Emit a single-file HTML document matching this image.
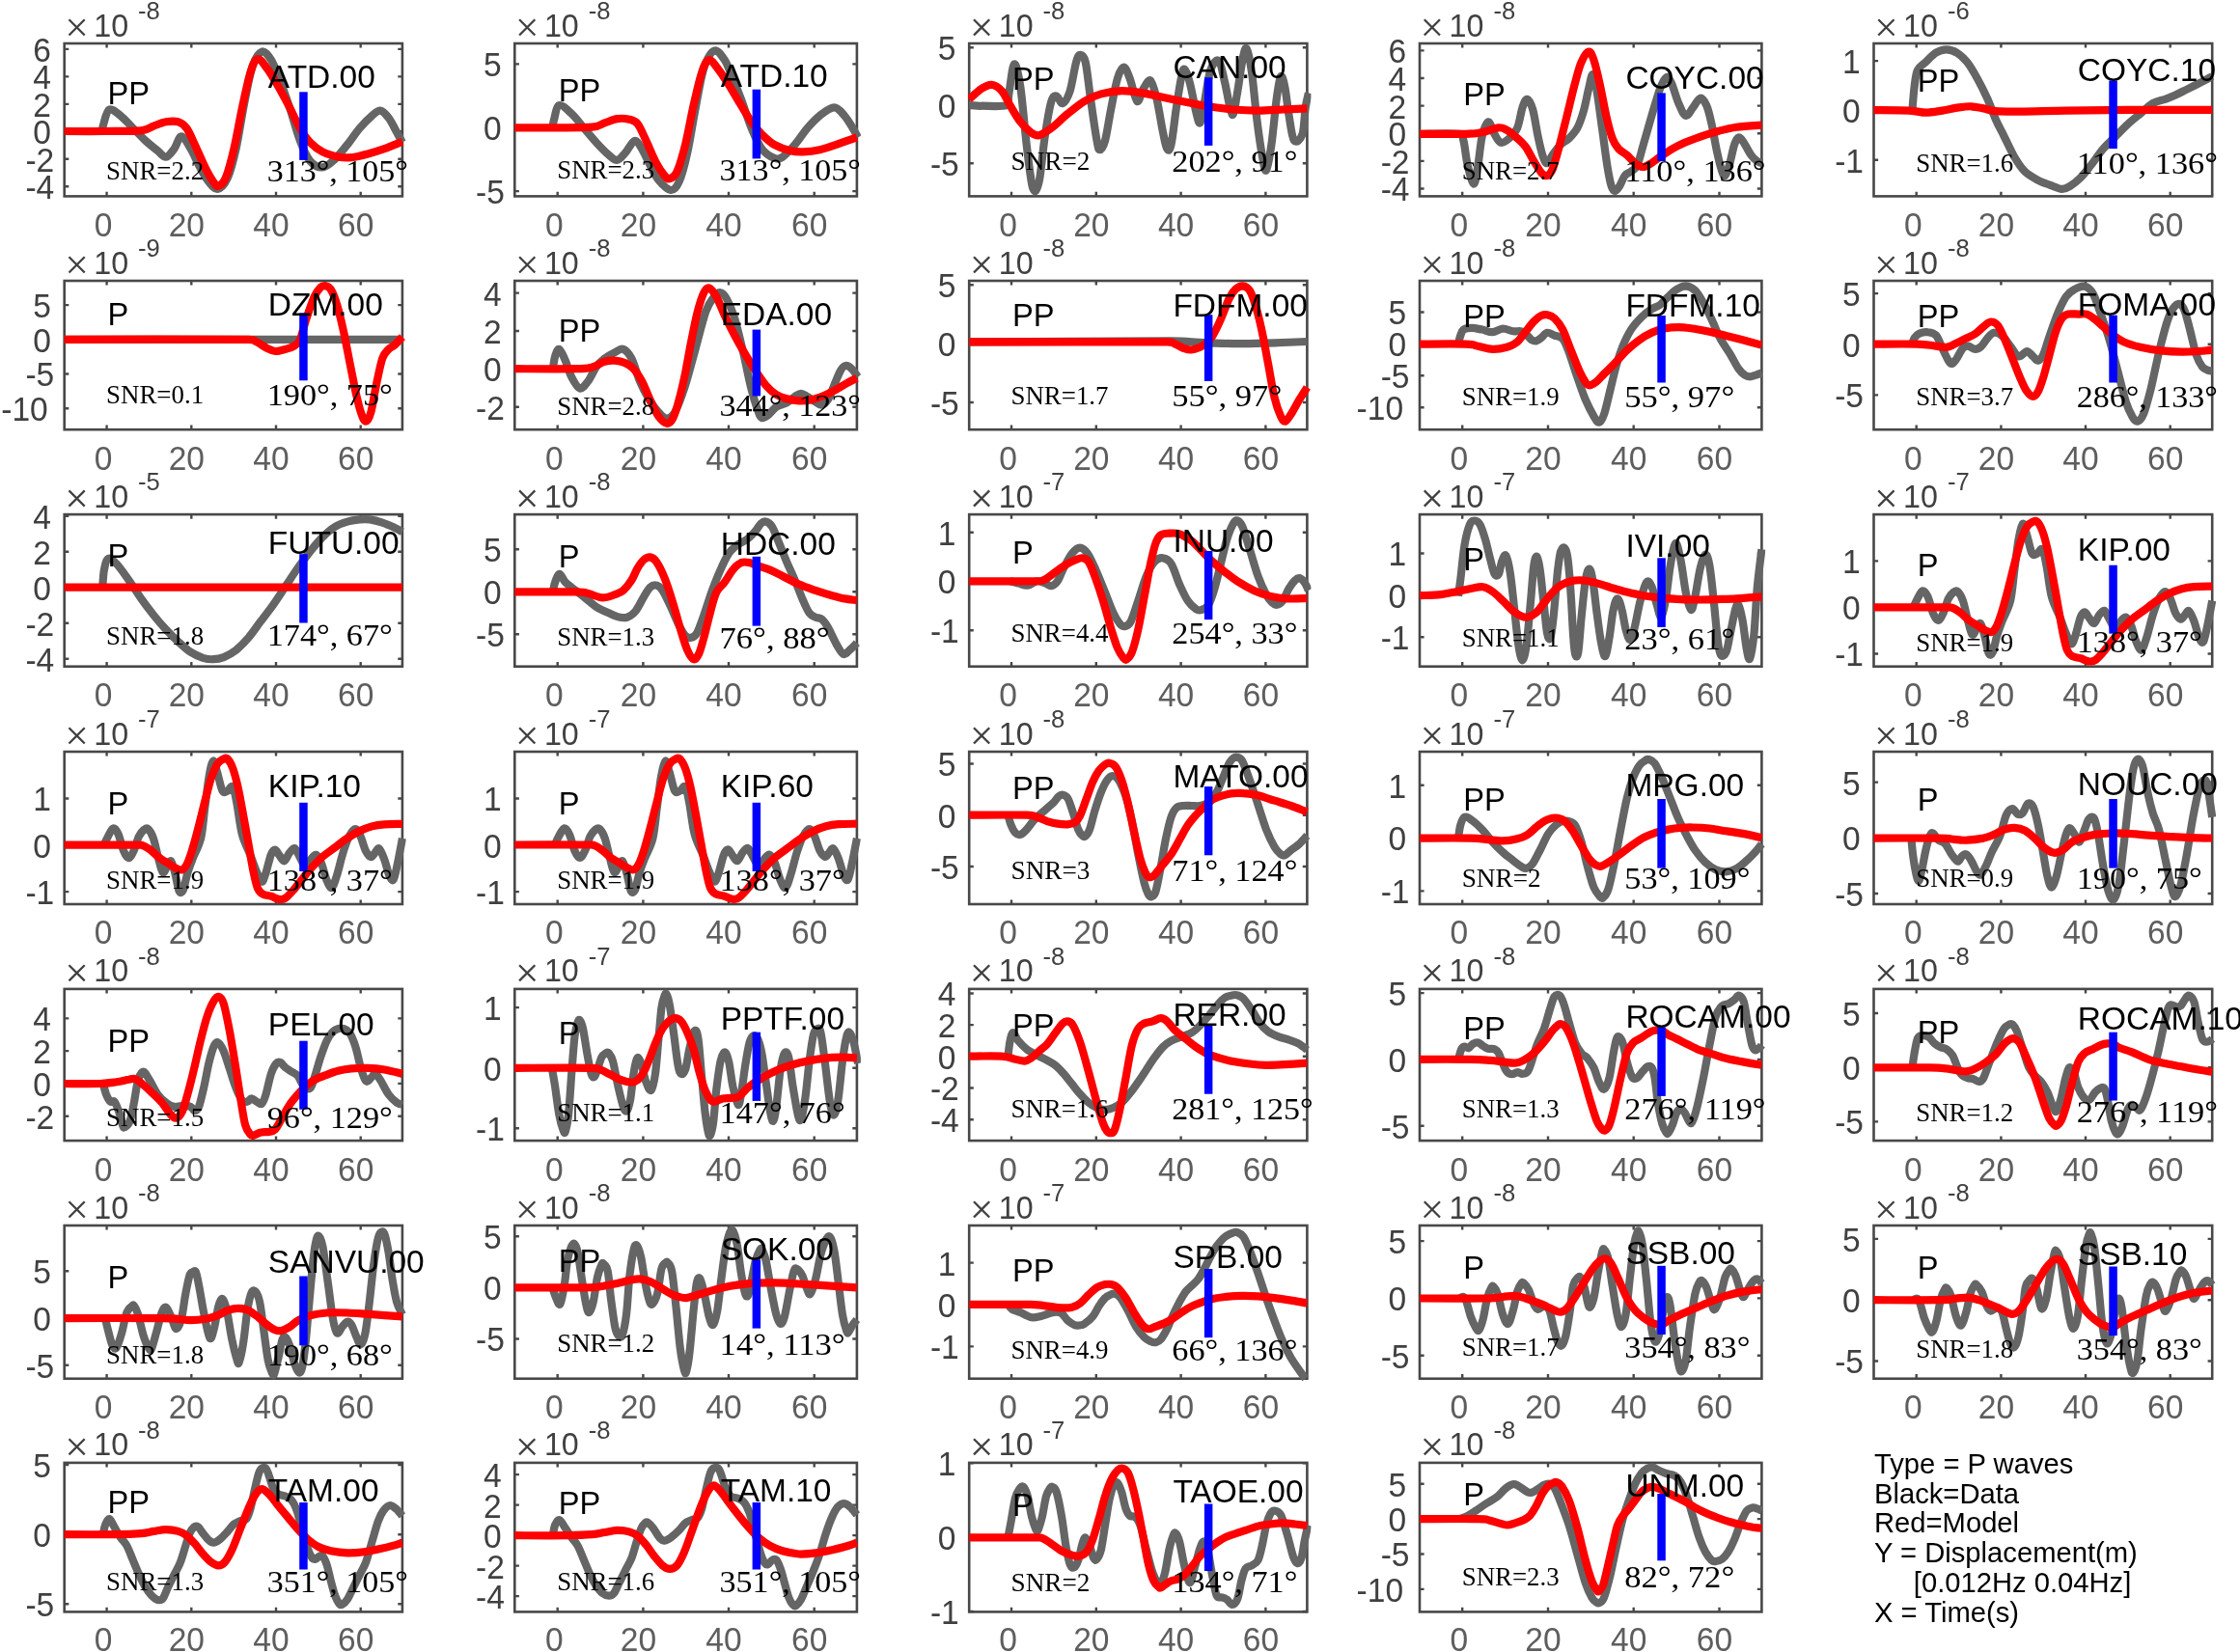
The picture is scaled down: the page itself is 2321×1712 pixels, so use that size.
<!DOCTYPE html><html><head><meta charset="utf-8"><title>P waves</title><style>html,body{margin:0;padding:0;background:#fff}svg{display:block;will-change:transform}text{font-family:"Liberation Sans",sans-serif}.s{font-family:"Liberation Serif",serif}</style></head><body>
<svg width="2321" height="1712" viewBox="0 0 2321 1712">
<rect width="2321" height="1712" fill="#fff"/>
<defs><clipPath id="c00"><rect x="65.7" y="41.0" width="355.2" height="166.4"/></clipPath><clipPath id="c01"><rect x="532.3" y="41.0" width="359.6" height="166.4"/></clipPath><clipPath id="c02"><rect x="1003.2" y="41.0" width="355.2" height="166.4"/></clipPath><clipPath id="c03"><rect x="1470.0" y="41.0" width="359.4" height="166.4"/></clipPath><clipPath id="c04"><rect x="1940.5" y="41.0" width="355.7" height="166.4"/></clipPath><clipPath id="c10"><rect x="65.7" y="287.0" width="355.2" height="162.2"/></clipPath><clipPath id="c11"><rect x="532.3" y="287.0" width="359.6" height="162.2"/></clipPath><clipPath id="c12"><rect x="1003.2" y="287.0" width="355.2" height="162.2"/></clipPath><clipPath id="c13"><rect x="1470.0" y="287.0" width="359.4" height="162.2"/></clipPath><clipPath id="c14"><rect x="1940.5" y="287.0" width="355.7" height="162.2"/></clipPath><clipPath id="c20"><rect x="65.7" y="529.1" width="355.2" height="165.6"/></clipPath><clipPath id="c21"><rect x="532.3" y="529.1" width="359.6" height="165.6"/></clipPath><clipPath id="c22"><rect x="1003.2" y="529.1" width="355.2" height="165.6"/></clipPath><clipPath id="c23"><rect x="1470.0" y="529.1" width="359.4" height="165.6"/></clipPath><clipPath id="c24"><rect x="1940.5" y="529.1" width="355.7" height="165.6"/></clipPath><clipPath id="c30"><rect x="65.7" y="775.0" width="355.2" height="166.0"/></clipPath><clipPath id="c31"><rect x="532.3" y="775.0" width="359.6" height="166.0"/></clipPath><clipPath id="c32"><rect x="1003.2" y="775.0" width="355.2" height="166.0"/></clipPath><clipPath id="c33"><rect x="1470.0" y="775.0" width="359.4" height="166.0"/></clipPath><clipPath id="c34"><rect x="1940.5" y="775.0" width="355.7" height="166.0"/></clipPath><clipPath id="c40"><rect x="65.7" y="1020.9" width="355.2" height="165.2"/></clipPath><clipPath id="c41"><rect x="532.3" y="1020.9" width="359.6" height="165.2"/></clipPath><clipPath id="c42"><rect x="1003.2" y="1020.9" width="355.2" height="165.2"/></clipPath><clipPath id="c43"><rect x="1470.0" y="1020.9" width="359.4" height="165.2"/></clipPath><clipPath id="c44"><rect x="1940.5" y="1020.9" width="355.7" height="165.2"/></clipPath><clipPath id="c50"><rect x="65.7" y="1266.0" width="355.2" height="166.7"/></clipPath><clipPath id="c51"><rect x="532.3" y="1266.0" width="359.6" height="166.7"/></clipPath><clipPath id="c52"><rect x="1003.2" y="1266.0" width="355.2" height="166.7"/></clipPath><clipPath id="c53"><rect x="1470.0" y="1266.0" width="359.4" height="166.7"/></clipPath><clipPath id="c54"><rect x="1940.5" y="1266.0" width="355.7" height="166.7"/></clipPath><clipPath id="c60"><rect x="65.7" y="1511.9" width="355.2" height="162.5"/></clipPath><clipPath id="c61"><rect x="532.3" y="1511.9" width="359.6" height="162.5"/></clipPath><clipPath id="c62"><rect x="1003.2" y="1511.9" width="355.2" height="162.5"/></clipPath><clipPath id="c63"><rect x="1470.0" y="1511.9" width="359.4" height="162.5"/></clipPath></defs>
<rect x="66.7" y="45.0" width="350.2" height="158.4" fill="none" stroke="#484848" stroke-width="2.6"/>
<path d="M110.6 203.4v-4.6M110.6 45.0v4.6M198.3 203.4v-4.6M198.3 45.0v4.6M286.0 203.4v-4.6M286.0 45.0v4.6M373.7 203.4v-4.6M373.7 45.0v4.6M66.7 50.9h4.6M416.9 50.9h-4.6M66.7 79.4h4.6M416.9 79.4h-4.6M66.7 107.9h4.6M416.9 107.9h-4.6M66.7 136.3h4.6M416.9 136.3h-4.6M66.7 164.8h4.6M416.9 164.8h-4.6M66.7 193.3h4.6M416.9 193.3h-4.6" stroke="#484848" stroke-width="2.4" fill="none"/>
<text transform="translate(107.2 244.8) scale(0.975 1)" font-size="34.4" fill="#5e5e5e" text-anchor="middle">0</text>
<text transform="translate(193.3 244.8) scale(0.975 1)" font-size="34.4" fill="#5e5e5e" text-anchor="middle">20</text>
<text transform="translate(281.0 244.8) scale(0.975 1)" font-size="34.4" fill="#5e5e5e" text-anchor="middle">40</text>
<text transform="translate(368.7 244.8) scale(0.975 1)" font-size="34.4" fill="#5e5e5e" text-anchor="middle">60</text>
<text transform="translate(34.3 63.8) scale(0.975 1)" font-size="34.4" fill="#404040">6</text>
<text transform="translate(34.3 92.3) scale(0.975 1)" font-size="34.4" fill="#404040">4</text>
<text transform="translate(34.3 120.8) scale(0.975 1)" font-size="34.4" fill="#404040">2</text>
<text transform="translate(34.3 149.2) scale(0.975 1)" font-size="34.4" fill="#404040">0</text>
<text transform="translate(26.4 177.7) scale(0.975 1)" font-size="34.4" fill="#404040">-2</text>
<text transform="translate(26.4 206.2) scale(0.975 1)" font-size="34.4" fill="#404040">-4</text>
<path d="M71.5 20.3l16.2 16.2m0 -16.2l-16.2 16.2" stroke="#404040" stroke-width="2.3" fill="none"/>
<text transform="translate(97.3 37.5) scale(0.955 1)" font-size="33.8" fill="#404040">10</text>
<text x="143.1" y="20.0" font-size="25.6" fill="#404040">-8</text>
<g clip-path="url(#c00)" fill="none" stroke-width="8.2" stroke-linejoin="round">
<path d="M105.8 136.0C106.0 134.7 106.0 132.2 107.3 128.5C108.5 124.7 110.3 114.9 113.3 113.5C116.2 112.1 120.9 116.7 125.0 119.9C129.1 123.1 133.5 128.5 137.8 132.8C142.1 137.0 146.3 141.7 150.6 145.6C154.9 149.5 159.9 153.5 163.4 156.3C167.0 159.2 169.1 163.1 172.0 162.7C174.8 162.4 177.8 157.7 180.5 154.2C183.2 150.6 185.1 141.3 188.0 141.3C190.8 141.3 194.6 149.2 197.6 154.2C200.6 159.2 203.3 165.9 206.1 171.3C209.0 176.6 211.5 182.2 214.7 186.3C217.9 190.4 221.8 196.3 225.4 195.9C228.9 195.6 232.8 191.1 236.0 184.1C239.2 177.2 241.7 167.0 244.6 154.2C247.4 141.3 250.3 121.3 253.1 107.1C256.0 92.8 258.6 77.5 261.7 68.5C264.7 59.6 268.1 54.6 271.3 53.6C274.5 52.5 277.9 57.5 280.9 62.1C283.9 66.8 286.2 73.2 289.4 81.4C292.6 89.6 296.5 100.7 300.1 111.4C303.7 122.1 307.2 136.3 310.8 145.6C314.3 154.9 317.5 162.4 321.4 167.0C325.4 171.6 330.0 173.8 334.3 173.4C338.5 173.1 342.8 168.8 347.1 164.9C351.3 160.9 355.6 155.2 359.9 149.9C364.2 144.5 368.4 137.8 372.7 132.8C377.0 127.8 382.0 123.0 385.5 119.9C389.1 116.9 391.2 114.2 394.1 114.6C396.9 114.9 399.7 118.3 402.6 122.1C405.4 125.8 408.8 132.8 411.1 137.0C413.5 141.3 415.9 146.0 416.9 147.7" stroke="#656565"/>
<path d="M66.7 136.0C73.6 136.0 94.6 136.1 107.9 136.0C121.2 135.9 137.8 136.2 146.3 135.3C154.9 134.4 154.9 132.1 159.2 130.6C163.4 129.1 167.7 127.1 172.0 126.3C176.2 125.6 181.2 125.3 184.8 126.3C188.3 127.4 190.5 128.8 193.3 132.8C196.2 136.7 198.7 143.1 201.9 149.9C205.1 156.7 209.3 167.0 212.5 173.4C215.7 179.9 218.8 185.2 221.1 188.4C223.4 191.6 224.3 193.4 226.4 192.7C228.6 192.0 231.2 190.6 233.9 184.1C236.6 177.7 239.6 166.3 242.4 154.2C245.3 142.0 248.1 124.6 251.0 111.4C253.8 98.2 256.9 83.4 259.5 75.0C262.2 66.6 264.2 61.8 267.0 61.1C269.8 60.3 273.2 66.2 276.6 70.7C280.0 75.1 283.4 81.0 287.3 87.8C291.2 94.6 296.2 103.9 300.1 111.4C304.0 118.8 307.2 126.7 310.8 132.8C314.3 138.8 317.5 143.6 321.4 147.7C325.4 151.8 329.3 154.9 334.3 157.4C339.2 159.9 346.4 161.8 351.3 162.7C356.3 163.7 359.2 163.7 364.2 163.2C369.1 162.6 375.5 161.0 381.2 159.5C386.9 158.0 392.4 156.3 398.3 154.2C404.3 152.0 413.8 147.9 416.9 146.7" stroke="#ff0000"/>
</g>
<rect x="310.2" y="95.3" width="8.5" height="70.6" fill="#0000ff"/>
<text transform="translate(111.6 108.1) scale(0.960 1)" font-size="34.0" fill="#000">PP</text>
<text transform="translate(277.8 91.0) scale(0.985 1)" font-size="34.0" fill="#000">ATD.00</text>
<text class="s" x="110.1" y="185.6" font-size="26.8" fill="#000" textLength="101.0" lengthAdjust="spacingAndGlyphs">SNR=2.2</text>
<text class="s" x="276.7" y="188.3" font-size="30.5" fill="#000" textLength="146.3" lengthAdjust="spacingAndGlyphs">313°, 105°</text>
<rect x="533.3" y="45.0" width="354.6" height="158.4" fill="none" stroke="#484848" stroke-width="2.6"/>
<path d="M577.7 203.4v-4.6M577.7 45.0v4.6M666.4 203.4v-4.6M666.4 45.0v4.6M755.0 203.4v-4.6M755.0 45.0v4.6M843.7 203.4v-4.6M843.7 45.0v4.6M533.3 66.4h4.6M887.9 66.4h-4.6M533.3 132.3h4.6M887.9 132.3h-4.6M533.3 198.1h4.6M887.9 198.1h-4.6" stroke="#484848" stroke-width="2.4" fill="none"/>
<text transform="translate(574.3 244.8) scale(0.975 1)" font-size="34.4" fill="#5e5e5e" text-anchor="middle">0</text>
<text transform="translate(661.4 244.8) scale(0.975 1)" font-size="34.4" fill="#5e5e5e" text-anchor="middle">20</text>
<text transform="translate(750.0 244.8) scale(0.975 1)" font-size="34.4" fill="#5e5e5e" text-anchor="middle">40</text>
<text transform="translate(838.7 244.8) scale(0.975 1)" font-size="34.4" fill="#5e5e5e" text-anchor="middle">60</text>
<text transform="translate(500.9 79.3) scale(0.975 1)" font-size="34.4" fill="#404040">5</text>
<text transform="translate(500.9 145.2) scale(0.975 1)" font-size="34.4" fill="#404040">0</text>
<text transform="translate(493.0 211.0) scale(0.975 1)" font-size="34.4" fill="#404040">-5</text>
<path d="M538.1 20.3l16.2 16.2m0 -16.2l-16.2 16.2" stroke="#404040" stroke-width="2.3" fill="none"/>
<text transform="translate(563.9 37.5) scale(0.955 1)" font-size="33.8" fill="#404040">10</text>
<text x="609.7" y="20.0" font-size="25.6" fill="#404040">-8</text>
<g clip-path="url(#c01)" fill="none" stroke-width="8.2" stroke-linejoin="round">
<path d="M572.5 132.3C572.8 131.0 572.9 128.1 574.0 124.2C575.2 120.3 576.3 110.3 579.4 109.2C582.4 108.1 587.9 113.9 592.2 117.8C596.5 121.7 600.8 127.8 605.1 132.8C609.4 137.8 613.6 143.1 617.9 147.7C622.2 152.4 627.2 157.6 630.8 160.6C634.4 163.6 636.5 166.3 639.4 165.9C642.2 165.6 644.9 161.8 647.9 158.4C651.0 155.1 654.7 146.7 657.6 146.0C660.4 145.3 662.4 150.0 665.1 154.2C667.7 158.4 670.8 165.9 673.6 171.3C676.5 176.6 678.6 182.0 682.2 186.3C685.8 190.6 691.5 196.6 695.1 197.0C698.6 197.3 700.8 194.8 703.6 188.4C706.5 182.0 709.4 171.3 712.2 158.4C715.1 145.6 717.9 126.0 720.8 111.4C723.6 96.7 726.1 80.5 729.3 70.7C732.6 60.9 736.5 53.9 740.1 52.5C743.6 51.1 747.6 57.3 750.8 62.1C754.0 66.9 756.5 74.6 759.3 81.4C762.2 88.2 764.7 94.2 767.9 102.8C771.1 111.4 775.1 124.2 778.6 132.8C782.2 141.3 785.4 149.0 789.3 154.2C793.3 159.3 798.6 162.4 802.2 163.8C805.8 165.2 807.2 165.0 810.8 162.7C814.3 160.4 819.3 154.9 823.6 149.9C827.9 144.9 832.2 137.8 836.5 132.8C840.8 127.8 844.7 123.5 849.3 119.9C854.0 116.4 860.0 111.4 864.3 111.4C868.6 111.4 871.8 116.4 875.0 119.9C878.3 123.5 881.3 129.0 883.6 132.8C885.9 136.5 888.1 140.8 889.0 142.4" stroke="#656565"/>
<path d="M533.3 132.3C540.3 132.3 561.7 132.4 575.1 132.3C588.5 132.2 605.1 132.5 613.6 131.7C622.2 130.9 622.2 128.8 626.5 127.4C630.8 126.0 635.1 123.7 639.4 123.1C643.6 122.5 648.6 122.9 652.2 123.8C655.8 124.7 657.9 124.8 660.8 128.5C663.6 132.1 666.1 138.8 669.4 145.6C672.6 152.4 676.9 163.1 680.1 169.2C683.3 175.2 686.3 179.3 688.6 182.0C691.0 184.7 691.9 185.9 694.0 185.2C696.1 184.5 698.8 183.6 701.5 177.7C704.2 171.8 707.2 161.3 710.1 149.9C712.9 138.5 715.8 121.7 718.6 109.2C721.5 96.7 724.5 82.8 727.2 75.0C729.9 67.1 731.8 62.7 734.7 62.1C737.6 61.6 741.0 67.5 744.3 71.8C747.7 76.0 751.1 81.6 755.1 87.8C759.0 94.1 764.0 102.8 767.9 109.2C771.8 115.6 775.1 121.3 778.6 126.3C782.2 131.3 785.4 135.3 789.3 139.2C793.3 143.1 797.2 147.0 802.2 149.9C807.2 152.7 814.3 155.1 819.3 156.3C824.3 157.6 827.2 157.6 832.2 157.4C837.2 157.2 843.6 156.5 849.3 155.2C855.0 154.0 860.0 152.0 866.5 149.9C872.9 147.7 884.3 143.6 887.9 142.4" stroke="#ff0000"/>
</g>
<rect x="779.6" y="92.7" width="8.5" height="71.7" fill="#0000ff"/>
<text transform="translate(578.7 104.9) scale(0.960 1)" font-size="34.0" fill="#000">PP</text>
<text transform="translate(746.7 89.9) scale(0.985 1)" font-size="34.0" fill="#000">ATD.10</text>
<text class="s" x="577.2" y="184.7" font-size="26.8" fill="#000" textLength="101.0" lengthAdjust="spacingAndGlyphs">SNR=2.3</text>
<text class="s" x="745.6" y="186.8" font-size="30.5" fill="#000" textLength="146.3" lengthAdjust="spacingAndGlyphs">313°, 105°</text>
<rect x="1004.2" y="45.0" width="350.2" height="158.4" fill="none" stroke="#484848" stroke-width="2.6"/>
<path d="M1048.0 203.4v-4.6M1048.0 45.0v4.6M1135.8 203.4v-4.6M1135.8 45.0v4.6M1223.6 203.4v-4.6M1223.6 45.0v4.6M1311.4 203.4v-4.6M1311.4 45.0v4.6M1004.2 49.3h4.6M1354.4 49.3h-4.6M1004.2 109.2h4.6M1354.4 109.2h-4.6M1004.2 169.2h4.6M1354.4 169.2h-4.6" stroke="#484848" stroke-width="2.4" fill="none"/>
<text transform="translate(1044.6 244.8) scale(0.975 1)" font-size="34.4" fill="#5e5e5e" text-anchor="middle">0</text>
<text transform="translate(1130.8 244.8) scale(0.975 1)" font-size="34.4" fill="#5e5e5e" text-anchor="middle">20</text>
<text transform="translate(1218.6 244.8) scale(0.975 1)" font-size="34.4" fill="#5e5e5e" text-anchor="middle">40</text>
<text transform="translate(1306.4 244.8) scale(0.975 1)" font-size="34.4" fill="#5e5e5e" text-anchor="middle">60</text>
<text transform="translate(971.8 62.2) scale(0.975 1)" font-size="34.4" fill="#404040">5</text>
<text transform="translate(971.8 122.1) scale(0.975 1)" font-size="34.4" fill="#404040">0</text>
<text transform="translate(963.9 182.1) scale(0.975 1)" font-size="34.4" fill="#404040">-5</text>
<path d="M1009.0 20.3l16.2 16.2m0 -16.2l-16.2 16.2" stroke="#404040" stroke-width="2.3" fill="none"/>
<text transform="translate(1034.8 37.5) scale(0.955 1)" font-size="33.8" fill="#404040">10</text>
<text x="1080.6" y="20.0" font-size="25.6" fill="#404040">-8</text>
<g clip-path="url(#c02)" fill="none" stroke-width="8.2" stroke-linejoin="round">
<path d="M1004.2 109.2C1010.7 109.2 1036.5 111.4 1043.4 109.2C1045.5 107.1 1044.3 103.5 1045.5 96.4C1046.8 89.2 1048.9 67.5 1050.9 66.4C1052.8 65.3 1055.1 76.0 1057.3 90.0C1059.4 103.9 1061.6 132.4 1063.7 149.9C1065.8 167.4 1068.0 188.4 1070.1 194.8C1072.3 201.3 1074.4 197.7 1076.6 188.4C1078.7 179.1 1080.8 153.1 1083.0 139.2C1085.1 125.3 1087.4 111.5 1089.4 104.9C1091.4 98.3 1092.8 99.2 1094.7 99.6C1096.7 99.9 1098.8 108.0 1101.2 107.1C1103.5 106.2 1106.3 101.4 1108.7 94.2C1111.0 87.1 1113.3 70.5 1115.1 64.3C1116.9 58.0 1117.8 56.8 1119.4 56.8C1121.0 56.8 1122.9 56.6 1124.7 64.3C1126.5 71.9 1128.1 89.2 1130.1 102.8C1132.0 116.4 1134.9 136.9 1136.5 145.6C1138.1 154.3 1138.3 155.2 1139.7 155.2C1141.1 155.2 1143.1 152.9 1145.1 145.6C1147.0 138.3 1149.3 122.1 1151.5 111.4C1153.6 100.7 1155.8 88.3 1157.9 81.4C1160.0 74.4 1162.2 69.6 1164.3 69.6C1166.5 69.6 1168.4 75.5 1170.7 81.4C1173.1 87.3 1175.9 103.2 1178.2 104.9C1180.5 106.7 1182.3 95.7 1184.7 92.1C1187.0 88.5 1189.8 81.7 1192.1 83.5C1194.5 85.3 1196.4 93.9 1198.6 102.8C1200.7 111.7 1203.2 128.5 1205.0 137.0C1206.8 145.6 1207.8 152.0 1209.3 154.2C1210.7 156.3 1211.9 157.0 1213.5 149.9C1215.2 142.8 1217.1 123.1 1218.9 111.4C1220.7 99.6 1222.8 85.8 1224.3 79.2C1225.7 72.6 1226.0 70.7 1227.5 71.8C1228.9 72.8 1230.9 78.4 1232.8 85.7C1234.8 93.0 1237.5 108.7 1239.2 115.6C1241.0 122.6 1242.1 128.8 1243.5 127.4C1244.9 126.0 1246.0 116.2 1247.8 107.1C1249.6 98.0 1251.7 80.1 1254.2 72.8C1256.7 65.5 1260.3 61.1 1262.8 63.2C1265.3 65.3 1266.9 76.4 1269.2 85.7C1271.5 94.9 1274.6 117.1 1276.7 118.8C1278.8 120.6 1280.3 105.8 1282.0 96.4C1283.8 86.9 1285.8 69.8 1287.4 62.1C1289.0 54.5 1290.1 48.2 1291.7 50.4C1293.3 52.5 1295.2 62.7 1297.0 75.0C1298.8 87.3 1300.6 109.9 1302.4 124.2C1304.2 138.5 1306.1 151.8 1307.7 160.6C1309.3 169.3 1310.4 178.4 1312.0 176.6C1313.6 174.9 1315.6 162.2 1317.4 149.9C1319.2 137.6 1321.1 114.6 1322.7 102.8C1324.3 91.0 1325.6 81.4 1327.0 79.2C1328.4 77.1 1329.9 83.2 1331.3 90.0C1332.7 96.7 1334.0 110.6 1335.6 119.9C1337.2 129.2 1338.6 142.4 1340.9 145.6C1343.2 148.8 1347.5 144.9 1349.5 139.2C1351.4 133.5 1351.6 118.5 1352.7 111.4C1353.8 104.2 1355.4 98.9 1355.9 96.4" stroke="#656565"/>
<path d="M1004.2 102.8C1006.3 101.0 1012.8 94.6 1016.6 92.1C1020.5 89.6 1023.8 87.5 1027.3 87.8C1030.9 88.2 1034.8 90.7 1038.0 94.2C1041.2 97.8 1043.4 103.9 1046.6 109.2C1049.8 114.6 1053.7 121.7 1057.3 126.3C1060.9 131.0 1064.8 134.7 1068.0 137.0C1071.2 139.4 1073.0 141.0 1076.6 140.3C1080.1 139.5 1084.4 136.5 1089.4 132.8C1094.4 129.0 1100.8 122.4 1106.5 117.8C1112.2 113.1 1117.9 108.3 1123.6 104.9C1129.4 101.5 1134.3 99.2 1140.8 97.4C1147.2 95.7 1155.0 94.4 1162.2 94.2C1169.3 94.1 1175.7 95.1 1183.6 96.4C1191.4 97.6 1200.7 99.9 1209.3 101.7C1217.8 103.5 1227.8 105.6 1235.0 107.1C1242.1 108.5 1244.9 109.2 1252.1 110.3C1259.2 111.4 1269.2 112.8 1277.8 113.5C1286.3 114.2 1294.9 114.6 1303.5 114.6C1312.0 114.6 1320.7 113.9 1329.1 113.5C1337.6 113.1 1350.2 112.6 1354.4 112.4" stroke="#ff0000"/>
</g>
<rect x="1247.9" y="80.3" width="8.5" height="70.6" fill="#0000ff"/>
<text transform="translate(1049.0 93.1) scale(0.960 1)" font-size="34.0" fill="#000">PP</text>
<text transform="translate(1215.4 81.3) scale(0.985 1)" font-size="34.0" fill="#000">CAN.00</text>
<text class="s" x="1047.5" y="176.1" font-size="26.8" fill="#000" textLength="82.0" lengthAdjust="spacingAndGlyphs">SNR=2</text>
<text class="s" x="1214.3" y="178.3" font-size="30.5" fill="#000" textLength="130.1" lengthAdjust="spacingAndGlyphs">202°, 91°</text>
<rect x="1471.0" y="45.0" width="354.4" height="158.4" fill="none" stroke="#484848" stroke-width="2.6"/>
<path d="M1515.2 203.4v-4.6M1515.2 45.0v4.6M1604.0 203.4v-4.6M1604.0 45.0v4.6M1692.7 203.4v-4.6M1692.7 45.0v4.6M1781.5 203.4v-4.6M1781.5 45.0v4.6M1471.0 52.4h4.6M1825.4 52.4h-4.6M1471.0 81.0h4.6M1825.4 81.0h-4.6M1471.0 109.6h4.6M1825.4 109.6h-4.6M1471.0 138.3h4.6M1825.4 138.3h-4.6M1471.0 166.9h4.6M1825.4 166.9h-4.6M1471.0 195.5h4.6M1825.4 195.5h-4.6" stroke="#484848" stroke-width="2.4" fill="none"/>
<text transform="translate(1511.8 244.8) scale(0.975 1)" font-size="34.4" fill="#5e5e5e" text-anchor="middle">0</text>
<text transform="translate(1599.0 244.8) scale(0.975 1)" font-size="34.4" fill="#5e5e5e" text-anchor="middle">20</text>
<text transform="translate(1687.7 244.8) scale(0.975 1)" font-size="34.4" fill="#5e5e5e" text-anchor="middle">40</text>
<text transform="translate(1776.5 244.8) scale(0.975 1)" font-size="34.4" fill="#5e5e5e" text-anchor="middle">60</text>
<text transform="translate(1438.6 65.3) scale(0.975 1)" font-size="34.4" fill="#404040">6</text>
<text transform="translate(1438.6 93.9) scale(0.975 1)" font-size="34.4" fill="#404040">4</text>
<text transform="translate(1438.6 122.5) scale(0.975 1)" font-size="34.4" fill="#404040">2</text>
<text transform="translate(1438.6 151.2) scale(0.975 1)" font-size="34.4" fill="#404040">0</text>
<text transform="translate(1430.7 179.8) scale(0.975 1)" font-size="34.4" fill="#404040">-2</text>
<text transform="translate(1430.7 208.4) scale(0.975 1)" font-size="34.4" fill="#404040">-4</text>
<path d="M1475.8 20.3l16.2 16.2m0 -16.2l-16.2 16.2" stroke="#404040" stroke-width="2.3" fill="none"/>
<text transform="translate(1501.6 37.5) scale(0.955 1)" font-size="33.8" fill="#404040">10</text>
<text x="1547.4" y="20.0" font-size="25.6" fill="#404040">-8</text>
<g clip-path="url(#c03)" fill="none" stroke-width="8.2" stroke-linejoin="round">
<path d="M1471.0 138.8C1477.9 138.8 1504.6 137.6 1512.1 138.8C1516.4 139.9 1515.0 140.2 1516.4 145.6C1517.9 151.0 1518.9 163.8 1520.7 171.3C1522.5 178.8 1525.4 190.6 1527.1 190.6C1528.9 190.6 1530.0 179.5 1531.4 171.3C1532.9 163.1 1533.9 148.8 1535.7 141.3C1537.5 133.8 1540.0 126.7 1542.1 126.3C1544.3 126.0 1546.4 135.6 1548.6 139.2C1550.7 142.8 1552.5 147.0 1555.0 147.7C1557.5 148.5 1560.7 146.0 1563.6 143.5C1566.4 141.0 1569.8 138.1 1572.1 132.8C1574.5 127.4 1575.8 116.4 1577.5 111.4C1579.2 106.4 1580.6 102.4 1582.4 102.8C1584.2 103.2 1586.3 107.1 1588.2 113.5C1590.1 119.9 1591.8 133.1 1593.6 141.3C1595.3 149.5 1597.3 158.1 1598.9 162.7C1600.5 167.4 1601.6 169.5 1603.2 169.2C1604.8 168.8 1606.2 163.8 1608.6 160.6C1610.9 157.4 1614.3 152.7 1617.1 149.9C1620.0 147.0 1622.8 146.3 1625.7 143.5C1628.6 140.6 1631.8 137.4 1634.3 132.8C1636.8 128.1 1638.7 122.4 1640.7 115.6C1642.7 108.9 1644.5 98.5 1646.1 92.1C1647.7 85.7 1648.9 76.8 1650.3 77.1C1651.8 77.5 1653.0 85.0 1654.6 94.2C1656.2 103.5 1658.2 119.9 1660.0 132.8C1661.8 145.6 1663.7 161.3 1665.3 171.3C1666.9 181.3 1668.3 188.2 1669.6 192.7C1670.9 197.2 1671.8 198.0 1673.3 198.0C1674.7 198.0 1676.5 195.4 1678.2 192.7C1679.9 190.0 1681.6 184.5 1683.6 182.0C1685.5 179.5 1687.8 179.5 1690.0 177.7C1692.1 175.9 1694.3 175.9 1696.4 171.3C1698.6 166.7 1700.3 158.4 1702.8 149.9C1705.3 141.3 1708.6 129.6 1711.4 119.9C1714.3 110.3 1717.5 98.7 1720.0 92.1C1722.5 85.5 1724.4 81.4 1726.4 80.3C1728.4 79.2 1729.6 81.2 1731.8 85.7C1733.9 90.1 1736.8 101.4 1739.3 107.1C1741.8 112.8 1744.3 119.2 1746.8 119.9C1749.3 120.6 1751.8 114.4 1754.3 111.4C1756.8 108.3 1759.4 102.1 1761.8 101.7C1764.1 101.4 1766.2 104.8 1768.2 109.2C1770.2 113.7 1771.8 120.6 1773.5 128.5C1775.3 136.3 1777.1 148.1 1778.9 156.3C1780.7 164.5 1782.8 173.4 1784.3 177.7C1785.7 182.0 1786.2 183.1 1787.5 182.0C1788.7 180.9 1790.2 176.6 1791.8 171.3C1793.4 165.9 1795.5 154.7 1797.1 149.9C1798.7 145.1 1799.8 142.8 1801.4 142.4C1803.0 142.0 1804.6 144.7 1806.8 147.7C1808.9 150.8 1811.9 157.4 1814.3 160.6C1816.6 163.8 1818.8 165.6 1820.7 167.0C1822.5 168.4 1824.6 168.8 1825.4 169.2" stroke="#656565"/>
<path d="M1471.0 138.8C1478.9 138.8 1507.8 139.0 1518.6 138.8C1529.4 138.5 1530.0 138.1 1535.7 137.0C1541.4 136.0 1548.6 132.7 1552.9 132.3C1557.1 132.0 1558.6 133.4 1561.4 134.9C1564.3 136.4 1566.8 138.5 1570.0 141.3C1573.2 144.2 1577.5 147.7 1580.7 152.0C1583.9 156.3 1586.4 162.4 1589.3 167.0C1592.1 171.6 1595.5 177.4 1597.8 179.9C1600.2 182.4 1601.4 182.7 1603.2 182.0C1605.0 181.3 1606.6 180.2 1608.6 175.6C1610.5 170.9 1612.5 163.4 1615.0 154.2C1617.5 144.9 1620.7 131.3 1623.6 119.9C1626.4 108.5 1629.6 94.9 1632.1 85.7C1634.6 76.4 1636.2 69.6 1638.6 64.3C1640.9 58.9 1643.9 53.9 1646.1 53.6C1648.2 53.2 1649.4 56.4 1651.4 62.1C1653.4 67.8 1655.7 78.2 1657.8 87.8C1660.0 97.4 1662.1 110.6 1664.3 119.9C1666.4 129.2 1668.6 137.8 1670.7 143.5C1672.8 149.2 1674.6 151.3 1677.1 154.2C1679.6 157.0 1682.8 158.1 1685.7 160.6C1688.6 163.1 1691.6 167.1 1694.3 169.2C1696.9 171.2 1699.3 172.8 1701.8 173.0C1704.3 173.2 1706.2 171.9 1709.3 170.2C1712.3 168.5 1716.1 165.4 1720.0 162.7C1723.9 160.1 1728.6 156.7 1732.8 154.2C1737.1 151.7 1740.7 149.9 1745.7 147.7C1750.7 145.6 1757.1 143.3 1762.8 141.3C1768.5 139.4 1773.9 137.6 1780.0 136.0C1786.0 134.4 1791.7 132.8 1799.3 131.7C1806.8 130.6 1821.0 129.9 1825.4 129.6" stroke="#ff0000"/>
</g>
<rect x="1717.3" y="96.4" width="8.5" height="70.6" fill="#0000ff"/>
<text transform="translate(1516.2 109.1) scale(0.960 1)" font-size="34.0" fill="#000">PP</text>
<text transform="translate(1684.4 92.0) scale(0.985 1)" font-size="34.0" fill="#000">COYC.00</text>
<text class="s" x="1514.7" y="186.2" font-size="26.8" fill="#000" textLength="101.0" lengthAdjust="spacingAndGlyphs">SNR=2.7</text>
<text class="s" x="1683.3" y="188.3" font-size="30.5" fill="#000" textLength="146.3" lengthAdjust="spacingAndGlyphs">110°, 136°</text>
<rect x="1941.5" y="45.0" width="350.7" height="158.4" fill="none" stroke="#484848" stroke-width="2.6"/>
<path d="M1985.7 203.4v-4.6M1985.7 45.0v4.6M2073.4 203.4v-4.6M2073.4 45.0v4.6M2161.0 203.4v-4.6M2161.0 45.0v4.6M2248.7 203.4v-4.6M2248.7 45.0v4.6M1941.5 63.1h4.6M2292.2 63.1h-4.6M1941.5 114.4h4.6M2292.2 114.4h-4.6M1941.5 165.8h4.6M2292.2 165.8h-4.6" stroke="#484848" stroke-width="2.4" fill="none"/>
<text transform="translate(1982.3 244.8) scale(0.975 1)" font-size="34.4" fill="#5e5e5e" text-anchor="middle">0</text>
<text transform="translate(2068.4 244.8) scale(0.975 1)" font-size="34.4" fill="#5e5e5e" text-anchor="middle">20</text>
<text transform="translate(2156.0 244.8) scale(0.975 1)" font-size="34.4" fill="#5e5e5e" text-anchor="middle">40</text>
<text transform="translate(2243.7 244.8) scale(0.975 1)" font-size="34.4" fill="#5e5e5e" text-anchor="middle">60</text>
<text transform="translate(1909.1 76.0) scale(0.975 1)" font-size="34.4" fill="#404040">1</text>
<text transform="translate(1909.1 127.3) scale(0.975 1)" font-size="34.4" fill="#404040">0</text>
<text transform="translate(1901.2 178.7) scale(0.975 1)" font-size="34.4" fill="#404040">-1</text>
<path d="M1946.3 20.3l16.2 16.2m0 -16.2l-16.2 16.2" stroke="#404040" stroke-width="2.3" fill="none"/>
<text transform="translate(1972.1 37.5) scale(0.955 1)" font-size="33.8" fill="#404040">10</text>
<text x="2017.9" y="20.0" font-size="25.6" fill="#404040">-6</text>
<g clip-path="url(#c04)" fill="none" stroke-width="8.2" stroke-linejoin="round">
<path d="M1981.5 114.1C1981.8 110.1 1982.7 96.8 1983.6 90.0C1984.5 83.1 1984.9 77.1 1986.8 72.8C1988.8 68.5 1992.2 67.3 1995.4 64.3C1998.6 61.2 2002.5 56.8 2006.1 54.6C2009.6 52.5 2013.2 51.4 2016.8 51.4C2020.3 51.4 2023.9 52.5 2027.5 54.6C2031.0 56.8 2034.6 59.8 2038.2 64.3C2041.7 68.7 2045.3 75.0 2048.8 81.4C2052.4 87.8 2056.3 95.7 2059.5 102.8C2062.7 109.9 2065.2 117.8 2068.1 124.2C2070.9 130.6 2073.4 134.9 2076.6 141.3C2079.9 147.7 2083.8 156.7 2087.3 162.7C2090.9 168.8 2094.1 173.8 2098.0 177.7C2102.0 181.6 2106.6 184.0 2110.9 186.3C2115.1 188.6 2119.4 190.0 2123.7 191.6C2128.0 193.2 2133.0 195.7 2136.5 195.9C2140.1 196.1 2141.9 194.7 2145.1 192.7C2148.3 190.7 2152.2 187.7 2155.8 184.1C2159.3 180.6 2162.5 176.3 2166.5 171.3C2170.4 166.3 2175.0 159.2 2179.3 154.2C2183.6 149.2 2187.8 145.6 2192.1 141.3C2196.4 137.0 2200.7 132.4 2205.0 128.5C2209.2 124.6 2213.5 121.3 2217.8 117.8C2222.1 114.2 2226.3 109.6 2230.6 107.1C2234.9 104.6 2239.5 104.2 2243.4 102.8C2247.4 101.4 2250.2 100.3 2254.1 98.5C2258.1 96.7 2262.3 94.4 2267.0 92.1C2271.6 89.8 2277.7 86.7 2281.9 84.6C2286.1 82.5 2290.5 80.1 2292.2 79.2" stroke="#656565"/>
<path d="M1941.5 114.1C1947.6 114.2 1969.3 114.1 1978.3 114.6C1987.3 115.0 1989.7 116.7 1995.4 116.7C2001.1 116.7 2006.8 115.5 2012.5 114.6C2018.2 113.7 2024.6 112.1 2029.6 111.4C2034.6 110.6 2038.2 110.1 2042.4 110.3C2046.7 110.5 2051.0 111.6 2055.3 112.4C2059.5 113.2 2061.7 114.7 2068.1 115.2C2074.5 115.7 2081.6 115.7 2093.8 115.6C2105.9 115.5 2122.3 114.9 2140.8 114.6C2159.3 114.3 2179.7 114.0 2205.0 113.9C2230.2 113.8 2277.7 113.9 2292.2 113.9" stroke="#ff0000"/>
</g>
<rect x="2185.3" y="83.5" width="8.5" height="70.6" fill="#0000ff"/>
<text transform="translate(1986.7 95.2) scale(0.960 1)" font-size="34.0" fill="#000">PP</text>
<text transform="translate(2152.8 83.5) scale(0.985 1)" font-size="34.0" fill="#000">COYC.10</text>
<text class="s" x="1985.2" y="177.6" font-size="26.8" fill="#000" textLength="101.0" lengthAdjust="spacingAndGlyphs">SNR=1.6</text>
<text class="s" x="2151.7" y="179.8" font-size="30.5" fill="#000" textLength="146.3" lengthAdjust="spacingAndGlyphs">110°, 136°</text>
<rect x="66.7" y="291.0" width="350.2" height="154.2" fill="none" stroke="#484848" stroke-width="2.6"/>
<path d="M110.6 445.2v-4.6M110.6 291.0v4.6M198.3 445.2v-4.6M198.3 291.0v4.6M286.0 445.2v-4.6M286.0 291.0v4.6M373.7 445.2v-4.6M373.7 291.0v4.6M66.7 316.1h4.6M416.9 316.1h-4.6M66.7 351.8h4.6M416.9 351.8h-4.6M66.7 387.5h4.6M416.9 387.5h-4.6M66.7 423.2h4.6M416.9 423.2h-4.6" stroke="#484848" stroke-width="2.4" fill="none"/>
<text transform="translate(107.2 486.6) scale(0.975 1)" font-size="34.4" fill="#5e5e5e" text-anchor="middle">0</text>
<text transform="translate(193.3 486.6) scale(0.975 1)" font-size="34.4" fill="#5e5e5e" text-anchor="middle">20</text>
<text transform="translate(281.0 486.6) scale(0.975 1)" font-size="34.4" fill="#5e5e5e" text-anchor="middle">40</text>
<text transform="translate(368.7 486.6) scale(0.975 1)" font-size="34.4" fill="#5e5e5e" text-anchor="middle">60</text>
<text transform="translate(34.3 329.0) scale(0.975 1)" font-size="34.4" fill="#404040">5</text>
<text transform="translate(34.3 364.7) scale(0.975 1)" font-size="34.4" fill="#404040">0</text>
<text transform="translate(26.4 400.4) scale(0.975 1)" font-size="34.4" fill="#404040">-5</text>
<text transform="translate(1.3 436.1) scale(0.975 1)" font-size="34.4" fill="#404040">-10</text>
<path d="M71.5 266.3l16.2 16.2m0 -16.2l-16.2 16.2" stroke="#404040" stroke-width="2.3" fill="none"/>
<text transform="translate(97.3 283.5) scale(0.955 1)" font-size="33.8" fill="#404040">10</text>
<text x="143.1" y="266.0" font-size="25.6" fill="#404040">-9</text>
<g clip-path="url(#c10)" fill="none" stroke-width="8.2" stroke-linejoin="round">
<path d="M66.7 351.9L416.9 351.9" stroke="#656565"/>
<path d="M66.7 351.9C98.5 351.9 224.2 351.4 257.4 351.9C265.9 352.3 262.7 352.9 265.9 354.4C269.1 355.9 273.4 359.2 276.6 360.8C279.8 362.4 281.9 363.9 285.1 364.0C288.4 364.2 292.6 362.8 295.8 361.9C299.0 361.0 301.9 360.3 304.4 358.7C306.9 357.1 308.6 356.9 310.8 352.3C312.9 347.7 314.7 338.4 317.2 330.9C319.7 323.5 323.2 313.0 325.7 307.4C328.2 301.9 330.2 299.7 332.1 297.8C334.1 296.0 335.7 296.0 337.5 296.3C339.2 296.7 340.8 296.7 342.8 300.0C344.8 303.2 347.1 309.0 349.2 316.0C351.3 322.9 353.5 332.0 355.6 341.6C357.8 351.2 359.9 363.0 362.0 373.7C364.2 384.3 366.5 396.8 368.4 405.7C370.4 414.6 372.0 421.9 373.8 427.0C375.5 432.2 377.3 436.7 379.1 436.7C380.9 436.7 382.7 433.3 384.4 427.0C386.2 420.8 387.8 408.5 389.8 399.3C391.7 390.0 394.1 377.7 396.2 371.5C398.3 365.3 400.5 364.2 402.6 361.9C404.7 359.6 406.6 359.8 409.0 357.6C411.4 355.5 415.6 350.5 416.9 349.1" stroke="#ff0000"/>
</g>
<rect x="310.2" y="324.5" width="8.5" height="69.8" fill="#0000ff"/>
<text transform="translate(111.6 337.3) scale(0.960 1)" font-size="34.0" fill="#000">P</text>
<text transform="translate(277.8 326.6) scale(0.985 1)" font-size="34.0" fill="#000">DZM.00</text>
<text class="s" x="110.1" y="418.0" font-size="26.8" fill="#000" textLength="101.0" lengthAdjust="spacingAndGlyphs">SNR=0.1</text>
<text class="s" x="276.7" y="419.5" font-size="30.5" fill="#000" textLength="130.1" lengthAdjust="spacingAndGlyphs">190°, 75°</text>
<rect x="533.3" y="291.0" width="354.6" height="154.2" fill="none" stroke="#484848" stroke-width="2.6"/>
<path d="M577.7 445.2v-4.6M577.7 291.0v4.6M666.4 445.2v-4.6M666.4 291.0v4.6M755.0 445.2v-4.6M755.0 291.0v4.6M843.7 445.2v-4.6M843.7 291.0v4.6M533.3 303.6h4.6M887.9 303.6h-4.6M533.3 343.0h4.6M887.9 343.0h-4.6M533.3 382.3h4.6M887.9 382.3h-4.6M533.3 421.7h4.6M887.9 421.7h-4.6" stroke="#484848" stroke-width="2.4" fill="none"/>
<text transform="translate(574.3 486.6) scale(0.975 1)" font-size="34.4" fill="#5e5e5e" text-anchor="middle">0</text>
<text transform="translate(661.4 486.6) scale(0.975 1)" font-size="34.4" fill="#5e5e5e" text-anchor="middle">20</text>
<text transform="translate(750.0 486.6) scale(0.975 1)" font-size="34.4" fill="#5e5e5e" text-anchor="middle">40</text>
<text transform="translate(838.7 486.6) scale(0.975 1)" font-size="34.4" fill="#5e5e5e" text-anchor="middle">60</text>
<text transform="translate(500.9 316.5) scale(0.975 1)" font-size="34.4" fill="#404040">4</text>
<text transform="translate(500.9 355.9) scale(0.975 1)" font-size="34.4" fill="#404040">2</text>
<text transform="translate(500.9 395.2) scale(0.975 1)" font-size="34.4" fill="#404040">0</text>
<text transform="translate(493.0 434.6) scale(0.975 1)" font-size="34.4" fill="#404040">-2</text>
<path d="M538.1 266.3l16.2 16.2m0 -16.2l-16.2 16.2" stroke="#404040" stroke-width="2.3" fill="none"/>
<text transform="translate(563.9 283.5) scale(0.955 1)" font-size="33.8" fill="#404040">10</text>
<text x="609.7" y="266.0" font-size="25.6" fill="#404040">-8</text>
<g clip-path="url(#c11)" fill="none" stroke-width="8.2" stroke-linejoin="round">
<path d="M572.9 382.2C573.3 380.1 574.0 372.8 575.1 369.4C576.2 366.0 577.6 361.2 579.4 361.9C581.2 362.6 583.7 368.8 585.8 373.7C587.9 378.5 589.7 385.9 592.2 390.7C594.7 395.5 597.9 401.8 600.8 402.5C603.6 403.2 606.5 398.7 609.4 395.0C612.2 391.3 615.1 384.0 617.9 380.1C620.8 376.1 623.3 374.0 626.5 371.5C629.7 369.0 634.0 366.7 637.2 365.1C640.4 363.5 642.9 360.8 645.8 361.9C648.6 363.0 651.5 366.0 654.4 371.5C657.2 377.0 660.1 388.2 662.9 395.0C665.8 401.8 668.3 406.8 671.5 412.1C674.7 417.4 679.0 423.5 682.2 427.0C685.4 430.6 687.9 433.5 690.8 433.5C693.6 433.5 696.1 432.7 699.4 427.0C702.6 421.4 706.5 410.3 710.1 399.3C713.6 388.2 717.2 373.7 720.8 360.8C724.3 348.0 728.3 331.3 731.5 322.4C734.7 313.5 737.6 310.6 740.1 307.4C742.6 304.2 744.3 302.8 746.5 303.2C748.6 303.5 750.4 305.0 752.9 309.6C755.4 314.2 758.6 321.7 761.5 330.9C764.3 340.2 767.2 353.0 770.1 365.1C772.9 377.2 776.1 393.6 778.6 403.6C781.1 413.5 783.3 420.0 785.1 424.9C786.8 429.8 787.6 432.1 789.3 433.0C791.1 433.9 793.3 432.1 795.8 430.2C798.3 428.4 801.1 423.8 804.3 421.7C807.6 419.6 811.8 419.2 815.1 417.4C818.3 415.7 821.1 412.6 823.6 411.0C826.1 409.4 827.9 407.8 830.0 407.8C832.2 407.8 834.0 409.6 836.5 411.0C839.0 412.5 842.5 414.9 845.0 416.4C847.5 417.8 849.3 419.9 851.5 419.6C853.6 419.2 855.8 417.6 857.9 414.2C860.0 410.9 862.2 404.3 864.3 399.3C866.5 394.3 868.8 387.7 870.8 384.3C872.7 380.9 874.2 379.3 876.1 379.0C878.1 378.6 880.4 380.2 882.5 382.2C884.7 384.2 887.9 389.3 889.0 390.7" stroke="#656565"/>
<path d="M533.3 382.2C543.8 382.2 583.1 382.5 596.5 382.2C609.9 381.9 608.6 381.7 613.6 380.5C618.6 379.2 622.6 375.9 626.5 374.7C630.4 373.6 633.6 373.4 637.2 373.7C640.8 373.9 644.7 374.8 647.9 376.2C651.1 377.6 653.6 379.1 656.5 382.2C659.4 385.3 662.2 389.7 665.1 395.0C667.9 400.3 670.8 408.2 673.6 414.2C676.5 420.3 679.4 427.2 682.2 431.3C685.1 435.4 688.3 438.4 690.8 438.8C693.3 439.1 695.1 437.5 697.2 433.5C699.4 429.4 701.5 422.1 703.6 414.2C705.8 406.4 707.9 396.8 710.1 386.5C712.2 376.1 714.3 363.0 716.5 352.3C718.6 341.6 720.8 330.6 722.9 322.4C725.1 314.2 727.4 307.2 729.3 303.2C731.3 299.2 732.6 297.8 734.7 298.5C736.8 299.2 739.5 302.7 742.2 307.4C744.9 312.1 747.6 319.9 750.8 326.7C754.0 333.4 757.9 341.3 761.5 348.0C765.1 354.8 768.6 361.2 772.2 367.2C775.8 373.3 779.3 379.0 782.9 384.3C786.5 389.7 790.1 395.2 793.6 399.3C797.2 403.4 800.8 406.6 804.3 408.9C807.9 411.2 811.1 412.1 815.1 413.2C819.0 414.2 823.6 415.1 827.9 415.3C832.2 415.5 836.5 415.1 840.8 414.2C845.0 413.3 849.3 411.7 853.6 410.0C857.9 408.2 862.2 405.9 866.5 403.6C870.8 401.2 875.8 398.0 879.3 396.1C882.9 394.1 886.5 392.5 887.9 391.8" stroke="#ff0000"/>
</g>
<rect x="779.6" y="341.6" width="8.5" height="68.8" fill="#0000ff"/>
<text transform="translate(578.7 354.4) scale(0.960 1)" font-size="34.0" fill="#000">PP</text>
<text transform="translate(746.7 337.3) scale(0.985 1)" font-size="34.0" fill="#000">EDA.00</text>
<text class="s" x="577.2" y="429.8" font-size="26.8" fill="#000" textLength="101.0" lengthAdjust="spacingAndGlyphs">SNR=2.8</text>
<text class="s" x="745.6" y="431.2" font-size="30.5" fill="#000" textLength="146.3" lengthAdjust="spacingAndGlyphs">344°, 123°</text>
<rect x="1004.2" y="291.0" width="350.2" height="154.2" fill="none" stroke="#484848" stroke-width="2.6"/>
<path d="M1048.0 445.2v-4.6M1048.0 291.0v4.6M1135.8 445.2v-4.6M1135.8 291.0v4.6M1223.6 445.2v-4.6M1223.6 291.0v4.6M1311.4 445.2v-4.6M1311.4 291.0v4.6M1004.2 295.3h4.6M1354.4 295.3h-4.6M1004.2 356.1h4.6M1354.4 356.1h-4.6M1004.2 417.0h4.6M1354.4 417.0h-4.6" stroke="#484848" stroke-width="2.4" fill="none"/>
<text transform="translate(1044.6 486.6) scale(0.975 1)" font-size="34.4" fill="#5e5e5e" text-anchor="middle">0</text>
<text transform="translate(1130.8 486.6) scale(0.975 1)" font-size="34.4" fill="#5e5e5e" text-anchor="middle">20</text>
<text transform="translate(1218.6 486.6) scale(0.975 1)" font-size="34.4" fill="#5e5e5e" text-anchor="middle">40</text>
<text transform="translate(1306.4 486.6) scale(0.975 1)" font-size="34.4" fill="#5e5e5e" text-anchor="middle">60</text>
<text transform="translate(971.8 308.2) scale(0.975 1)" font-size="34.4" fill="#404040">5</text>
<text transform="translate(971.8 369.0) scale(0.975 1)" font-size="34.4" fill="#404040">0</text>
<text transform="translate(963.9 429.9) scale(0.975 1)" font-size="34.4" fill="#404040">-5</text>
<path d="M1009.0 266.3l16.2 16.2m0 -16.2l-16.2 16.2" stroke="#404040" stroke-width="2.3" fill="none"/>
<text transform="translate(1034.8 283.5) scale(0.955 1)" font-size="33.8" fill="#404040">10</text>
<text x="1080.6" y="266.0" font-size="25.6" fill="#404040">-8</text>
<g clip-path="url(#c12)" fill="none" stroke-width="8.2" stroke-linejoin="round">
<path d="M1004.2 354.4C1039.1 354.3 1175.1 353.4 1213.5 353.4C1235.0 353.4 1224.3 354.0 1235.0 354.4C1245.7 354.9 1263.5 356.0 1277.8 356.1C1292.0 356.3 1307.8 355.6 1320.6 355.3C1333.4 354.9 1348.8 354.2 1354.4 354.0" stroke="#656565"/>
<path d="M1004.2 354.4C1038.4 354.4 1173.7 354.1 1209.3 354.4C1217.8 354.8 1215.0 355.5 1217.8 356.6C1220.7 357.6 1223.7 359.8 1226.4 360.8C1229.1 361.8 1231.0 362.7 1233.9 362.5C1236.7 362.4 1240.8 360.9 1243.5 359.8C1246.2 358.6 1247.8 357.5 1249.9 355.5C1252.1 353.5 1253.9 352.1 1256.4 348.0C1258.9 343.9 1262.1 337.3 1264.9 330.9C1267.8 324.5 1271.0 314.7 1273.5 309.6C1276.0 304.4 1277.6 302.2 1279.9 300.0C1282.2 297.8 1284.9 296.2 1287.4 296.3C1289.9 296.5 1292.6 297.4 1294.9 301.0C1297.2 304.7 1299.2 311.0 1301.3 318.1C1303.5 325.2 1305.6 333.8 1307.7 343.8C1309.9 353.7 1312.0 366.5 1314.2 377.9C1316.3 389.3 1318.4 403.2 1320.6 412.1C1322.7 421.0 1325.1 427.2 1327.0 431.3C1328.9 435.4 1329.9 437.0 1331.7 436.7C1333.5 436.3 1335.3 432.9 1337.7 429.2C1340.1 425.4 1343.5 418.9 1346.3 414.2C1349.0 409.6 1353.0 403.6 1354.4 401.4" stroke="#ff0000"/>
</g>
<rect x="1247.9" y="326.2" width="8.5" height="68.8" fill="#0000ff"/>
<text transform="translate(1049.0 338.3) scale(0.960 1)" font-size="34.0" fill="#000">PP</text>
<text transform="translate(1215.4 327.7) scale(0.985 1)" font-size="34.0" fill="#000">FDFM.00</text>
<text class="s" x="1047.5" y="419.1" font-size="26.8" fill="#000" textLength="101.0" lengthAdjust="spacingAndGlyphs">SNR=1.7</text>
<text class="s" x="1214.3" y="421.2" font-size="30.5" fill="#000" textLength="113.9" lengthAdjust="spacingAndGlyphs">55°, 97°</text>
<rect x="1471.0" y="291.0" width="354.4" height="154.2" fill="none" stroke="#484848" stroke-width="2.6"/>
<path d="M1515.2 445.2v-4.6M1515.2 291.0v4.6M1604.0 445.2v-4.6M1604.0 291.0v4.6M1692.7 445.2v-4.6M1692.7 291.0v4.6M1781.5 445.2v-4.6M1781.5 291.0v4.6M1471.0 323.5h4.6M1825.4 323.5h-4.6M1471.0 356.4h4.6M1825.4 356.4h-4.6M1471.0 389.3h4.6M1825.4 389.3h-4.6M1471.0 422.2h4.6M1825.4 422.2h-4.6" stroke="#484848" stroke-width="2.4" fill="none"/>
<text transform="translate(1511.8 486.6) scale(0.975 1)" font-size="34.4" fill="#5e5e5e" text-anchor="middle">0</text>
<text transform="translate(1599.0 486.6) scale(0.975 1)" font-size="34.4" fill="#5e5e5e" text-anchor="middle">20</text>
<text transform="translate(1687.7 486.6) scale(0.975 1)" font-size="34.4" fill="#5e5e5e" text-anchor="middle">40</text>
<text transform="translate(1776.5 486.6) scale(0.975 1)" font-size="34.4" fill="#5e5e5e" text-anchor="middle">60</text>
<text transform="translate(1438.6 336.4) scale(0.975 1)" font-size="34.4" fill="#404040">5</text>
<text transform="translate(1438.6 369.3) scale(0.975 1)" font-size="34.4" fill="#404040">0</text>
<text transform="translate(1430.7 402.2) scale(0.975 1)" font-size="34.4" fill="#404040">-5</text>
<text transform="translate(1405.6 435.1) scale(0.975 1)" font-size="34.4" fill="#404040">-10</text>
<path d="M1475.8 266.3l16.2 16.2m0 -16.2l-16.2 16.2" stroke="#404040" stroke-width="2.3" fill="none"/>
<text transform="translate(1501.6 283.5) scale(0.955 1)" font-size="33.8" fill="#404040">10</text>
<text x="1547.4" y="266.0" font-size="25.6" fill="#404040">-8</text>
<g clip-path="url(#c13)" fill="none" stroke-width="8.2" stroke-linejoin="round">
<path d="M1511.1 356.6C1511.4 355.1 1512.3 350.5 1513.2 348.0C1514.1 345.5 1514.5 343.0 1516.4 341.6C1518.4 340.3 1521.8 339.9 1525.0 339.9C1528.2 339.9 1532.1 340.9 1535.7 341.6C1539.3 342.3 1542.9 344.4 1546.4 344.2C1550.0 344.0 1553.6 340.7 1557.1 340.5C1560.7 340.4 1564.6 342.9 1567.8 343.3C1571.1 343.8 1573.9 342.5 1576.4 343.3C1578.9 344.1 1581.1 346.5 1582.8 348.0C1584.6 349.5 1585.7 351.4 1587.1 352.3C1588.6 353.2 1589.8 353.7 1591.4 353.4C1593.0 353.0 1594.8 351.6 1596.8 350.2C1598.7 348.7 1600.9 345.2 1603.2 344.8C1605.5 344.4 1608.0 346.5 1610.7 347.6C1613.4 348.7 1616.8 348.3 1619.3 351.2C1621.8 354.1 1623.2 358.5 1625.7 365.1C1628.2 371.7 1631.4 382.6 1634.3 390.7C1637.1 398.9 1640.0 407.5 1642.8 414.2C1645.7 421.0 1649.1 427.4 1651.4 431.3C1653.7 435.2 1655.0 438.1 1656.8 437.7C1658.6 437.4 1660.2 434.9 1662.1 429.2C1664.1 423.5 1666.4 412.1 1668.6 403.6C1670.7 395.0 1672.8 385.4 1675.0 377.9C1677.1 370.4 1678.9 364.8 1681.4 358.7C1683.9 352.7 1686.8 346.6 1690.0 341.6C1693.2 336.6 1697.1 332.4 1700.7 328.8C1704.3 325.2 1708.2 322.4 1711.4 320.3C1714.6 318.1 1717.1 318.1 1720.0 316.0C1722.8 313.9 1725.7 310.1 1728.6 307.4C1731.4 304.8 1734.1 301.8 1737.1 300.0C1740.2 298.1 1743.5 296.2 1746.8 296.3C1750.0 296.5 1753.4 298.1 1756.4 301.0C1759.4 304.0 1762.1 308.9 1765.0 313.9C1767.8 318.8 1770.7 324.9 1773.5 330.9C1776.4 337.0 1778.9 344.1 1782.1 350.2C1785.3 356.2 1789.6 361.9 1792.8 367.2C1796.0 372.6 1798.9 378.6 1801.4 382.2C1803.9 385.8 1805.9 387.3 1807.8 388.6C1809.8 390.0 1811.2 390.3 1813.2 390.3C1815.2 390.3 1817.6 389.2 1819.6 388.6C1821.7 388.0 1824.4 386.8 1825.4 386.5" stroke="#656565"/>
<path d="M1471.0 356.6C1478.9 356.6 1508.5 356.2 1518.6 356.6C1528.6 356.9 1526.8 357.8 1531.4 358.7C1536.1 359.6 1541.4 361.7 1546.4 361.9C1551.4 362.1 1557.1 361.0 1561.4 359.8C1565.7 358.5 1568.9 357.1 1572.1 354.4C1575.3 351.8 1577.8 347.3 1580.7 343.8C1583.6 340.2 1586.6 335.9 1589.3 333.1C1592.0 330.3 1594.5 328.2 1596.8 327.1C1599.1 326.0 1600.9 325.8 1603.2 326.2C1605.5 326.7 1608.0 327.3 1610.7 329.9C1613.4 332.4 1616.4 336.1 1619.3 341.6C1622.1 347.1 1625.0 355.9 1627.8 363.0C1630.7 370.1 1633.9 378.8 1636.4 384.3C1638.9 389.8 1641.1 393.6 1642.8 396.1C1644.6 398.6 1645.3 399.3 1647.1 399.3C1648.9 399.3 1651.1 398.0 1653.6 396.1C1656.1 394.1 1658.9 390.7 1662.1 387.5C1665.3 384.3 1668.9 380.9 1672.8 376.9C1676.8 372.8 1681.4 367.1 1685.7 363.0C1690.0 358.9 1694.3 355.3 1698.6 352.3C1702.8 349.3 1707.1 346.8 1711.4 344.8C1715.7 342.9 1719.6 341.5 1724.3 340.5C1728.9 339.6 1734.3 339.1 1739.3 339.1C1744.3 339.1 1748.9 339.8 1754.3 340.5C1759.6 341.3 1765.7 342.5 1771.4 343.8C1777.1 345.0 1782.8 346.6 1788.5 348.0C1794.3 349.4 1799.5 350.7 1805.7 352.3C1811.8 353.9 1822.1 356.7 1825.4 357.6" stroke="#ff0000"/>
</g>
<rect x="1717.3" y="327.1" width="8.5" height="69.4" fill="#0000ff"/>
<text transform="translate(1516.2 339.4) scale(0.960 1)" font-size="34.0" fill="#000">PP</text>
<text transform="translate(1684.4 327.7) scale(0.985 1)" font-size="34.0" fill="#000">FDFM.10</text>
<text class="s" x="1514.7" y="419.9" font-size="26.8" fill="#000" textLength="101.0" lengthAdjust="spacingAndGlyphs">SNR=1.9</text>
<text class="s" x="1683.3" y="422.1" font-size="30.5" fill="#000" textLength="113.9" lengthAdjust="spacingAndGlyphs">55°, 97°</text>
<rect x="1941.5" y="291.0" width="350.7" height="154.2" fill="none" stroke="#484848" stroke-width="2.6"/>
<path d="M1985.7 445.2v-4.6M1985.7 291.0v4.6M2073.4 445.2v-4.6M2073.4 291.0v4.6M2161.0 445.2v-4.6M2161.0 291.0v4.6M2248.7 445.2v-4.6M2248.7 291.0v4.6M1941.5 304.1h4.6M2292.2 304.1h-4.6M1941.5 356.8h4.6M2292.2 356.8h-4.6M1941.5 409.4h4.6M2292.2 409.4h-4.6" stroke="#484848" stroke-width="2.4" fill="none"/>
<text transform="translate(1982.3 486.6) scale(0.975 1)" font-size="34.4" fill="#5e5e5e" text-anchor="middle">0</text>
<text transform="translate(2068.4 486.6) scale(0.975 1)" font-size="34.4" fill="#5e5e5e" text-anchor="middle">20</text>
<text transform="translate(2156.0 486.6) scale(0.975 1)" font-size="34.4" fill="#5e5e5e" text-anchor="middle">40</text>
<text transform="translate(2243.7 486.6) scale(0.975 1)" font-size="34.4" fill="#5e5e5e" text-anchor="middle">60</text>
<text transform="translate(1909.1 317.0) scale(0.975 1)" font-size="34.4" fill="#404040">5</text>
<text transform="translate(1909.1 369.7) scale(0.975 1)" font-size="34.4" fill="#404040">0</text>
<text transform="translate(1901.2 422.3) scale(0.975 1)" font-size="34.4" fill="#404040">-5</text>
<path d="M1946.3 266.3l16.2 16.2m0 -16.2l-16.2 16.2" stroke="#404040" stroke-width="2.3" fill="none"/>
<text transform="translate(1972.1 283.5) scale(0.955 1)" font-size="33.8" fill="#404040">10</text>
<text x="2017.9" y="266.0" font-size="25.6" fill="#404040">-8</text>
<g clip-path="url(#c14)" fill="none" stroke-width="8.2" stroke-linejoin="round">
<path d="M1981.5 356.6C1981.8 355.5 1982.4 352.0 1983.6 350.2C1984.9 348.3 1986.7 346.5 1989.0 345.5C1991.3 344.5 1994.7 343.8 1997.5 344.2C2000.4 344.5 2003.6 344.8 2006.1 347.6C2008.6 350.4 2010.4 356.5 2012.5 360.8C2014.6 365.2 2017.2 371.0 2018.9 373.7C2020.6 376.3 2021.3 377.2 2022.8 376.9C2024.2 376.5 2025.6 374.2 2027.5 371.5C2029.3 368.8 2031.9 363.0 2033.9 360.8C2035.8 358.7 2037.1 358.5 2039.2 358.7C2041.4 358.9 2044.4 361.9 2046.7 361.9C2049.0 361.9 2051.0 360.7 2053.1 358.7C2055.3 356.7 2057.4 352.5 2059.5 350.2C2061.7 347.8 2063.5 345.2 2066.0 344.8C2068.5 344.5 2071.7 345.7 2074.5 348.0C2077.4 350.3 2080.2 355.1 2083.1 358.7C2085.9 362.3 2088.8 368.5 2091.6 369.4C2094.5 370.3 2097.7 364.0 2100.2 364.0C2102.7 364.0 2104.6 367.8 2106.6 369.4C2108.5 371.0 2110.1 374.0 2111.9 373.7C2113.7 373.3 2115.3 371.5 2117.3 367.2C2119.2 363.0 2121.2 355.1 2123.7 348.0C2126.2 340.9 2129.4 331.3 2132.2 324.5C2135.1 317.8 2137.9 311.5 2140.8 307.4C2143.7 303.4 2146.1 301.7 2149.4 300.0C2152.6 298.2 2156.8 296.1 2160.0 296.8C2163.3 297.5 2165.7 299.3 2168.6 304.2C2171.5 309.2 2174.3 318.7 2177.2 326.7C2180.0 334.7 2182.9 342.7 2185.7 352.3C2188.6 361.9 2191.4 373.7 2194.3 384.3C2197.1 395.0 2200.3 408.5 2202.8 416.4C2205.3 424.2 2207.3 427.9 2209.2 431.3C2211.2 434.7 2212.6 437.0 2214.6 436.7C2216.5 436.3 2218.7 434.7 2221.0 429.2C2223.3 423.7 2225.8 414.2 2228.5 403.6C2231.1 392.9 2234.2 376.9 2237.0 365.1C2239.9 353.4 2243.1 340.7 2245.6 333.1C2248.1 325.4 2249.9 322.2 2252.0 319.2C2254.1 316.2 2256.5 314.4 2258.4 314.9C2260.4 315.5 2262.0 317.9 2263.8 322.4C2265.5 326.8 2267.1 334.1 2269.1 341.6C2271.1 349.1 2273.4 360.8 2275.5 367.2C2277.7 373.7 2279.8 377.3 2281.9 380.1C2284.1 382.8 2286.6 383.2 2288.4 383.9C2290.1 384.6 2291.6 384.3 2292.2 384.3" stroke="#656565"/>
<path d="M1941.5 356.6C1949.1 356.6 1976.4 356.3 1986.8 356.6C1997.2 356.9 1999.0 357.7 2003.9 358.3C2008.9 358.8 2013.2 360.1 2016.8 359.8C2020.3 359.5 2022.1 358.0 2025.3 356.6C2028.5 355.1 2032.5 353.0 2036.0 351.2C2039.6 349.4 2043.5 348.0 2046.7 345.9C2049.9 343.8 2052.6 340.5 2055.3 338.4C2057.9 336.3 2060.3 333.7 2062.7 333.5C2065.2 333.3 2067.9 334.6 2070.2 337.3C2072.5 340.1 2074.2 344.5 2076.6 350.2C2079.1 355.9 2082.4 364.4 2085.2 371.5C2088.1 378.6 2091.3 387.2 2093.8 392.9C2096.2 398.6 2098.0 402.7 2100.2 405.7C2102.3 408.7 2104.6 411.0 2106.6 411.0C2108.5 411.0 2110.1 409.1 2111.9 405.7C2113.7 402.3 2115.3 397.1 2117.3 390.7C2119.2 384.3 2121.6 375.1 2123.7 367.2C2125.8 359.4 2128.0 350.0 2130.1 343.8C2132.2 337.5 2134.4 332.9 2136.5 329.9C2138.7 326.8 2140.1 326.3 2142.9 325.6C2145.8 324.9 2150.4 325.6 2153.6 325.6C2156.8 325.6 2159.3 324.7 2162.2 325.6C2165.0 326.5 2167.9 328.8 2170.7 330.9C2173.6 333.1 2176.4 335.9 2179.3 338.4C2182.1 340.9 2184.3 343.2 2187.8 345.9C2191.4 348.6 2195.7 352.1 2200.7 354.4C2205.7 356.7 2211.4 358.3 2217.8 359.8C2224.2 361.3 2232.0 362.6 2239.2 363.4C2246.3 364.2 2254.1 364.6 2260.6 364.7C2267.0 364.8 2272.4 364.4 2277.7 364.0C2282.9 363.7 2289.8 362.8 2292.2 362.5" stroke="#ff0000"/>
</g>
<rect x="2185.3" y="326.7" width="8.5" height="69.8" fill="#0000ff"/>
<text transform="translate(1986.7 339.4) scale(0.960 1)" font-size="34.0" fill="#000">PP</text>
<text transform="translate(2152.8 327.2) scale(0.985 1)" font-size="34.0" fill="#000">FOMA.00</text>
<text class="s" x="1985.2" y="419.5" font-size="26.8" fill="#000" textLength="101.0" lengthAdjust="spacingAndGlyphs">SNR=3.7</text>
<text class="s" x="2151.7" y="421.6" font-size="30.5" fill="#000" textLength="146.3" lengthAdjust="spacingAndGlyphs">286°, 133°</text>
<rect x="66.7" y="533.1" width="350.2" height="157.6" fill="none" stroke="#484848" stroke-width="2.6"/>
<path d="M110.6 690.7v-4.6M110.6 533.1v4.6M198.3 690.7v-4.6M198.3 533.1v4.6M286.0 690.7v-4.6M286.0 533.1v4.6M373.7 690.7v-4.6M373.7 533.1v4.6M66.7 534.8h4.6M416.9 534.8h-4.6M66.7 571.8h4.6M416.9 571.8h-4.6M66.7 608.7h4.6M416.9 608.7h-4.6M66.7 645.7h4.6M416.9 645.7h-4.6M66.7 682.7h4.6M416.9 682.7h-4.6" stroke="#484848" stroke-width="2.4" fill="none"/>
<text transform="translate(107.2 732.1) scale(0.975 1)" font-size="34.4" fill="#5e5e5e" text-anchor="middle">0</text>
<text transform="translate(193.3 732.1) scale(0.975 1)" font-size="34.4" fill="#5e5e5e" text-anchor="middle">20</text>
<text transform="translate(281.0 732.1) scale(0.975 1)" font-size="34.4" fill="#5e5e5e" text-anchor="middle">40</text>
<text transform="translate(368.7 732.1) scale(0.975 1)" font-size="34.4" fill="#5e5e5e" text-anchor="middle">60</text>
<text transform="translate(34.3 547.7) scale(0.975 1)" font-size="34.4" fill="#404040">4</text>
<text transform="translate(34.3 584.7) scale(0.975 1)" font-size="34.4" fill="#404040">2</text>
<text transform="translate(34.3 621.6) scale(0.975 1)" font-size="34.4" fill="#404040">0</text>
<text transform="translate(26.4 658.6) scale(0.975 1)" font-size="34.4" fill="#404040">-2</text>
<text transform="translate(26.4 695.6) scale(0.975 1)" font-size="34.4" fill="#404040">-4</text>
<path d="M71.5 508.4l16.2 16.2m0 -16.2l-16.2 16.2" stroke="#404040" stroke-width="2.3" fill="none"/>
<text transform="translate(97.3 525.6) scale(0.955 1)" font-size="33.8" fill="#404040">10</text>
<text x="143.1" y="508.1" font-size="25.6" fill="#404040">-5</text>
<g clip-path="url(#c20)" fill="none" stroke-width="8.2" stroke-linejoin="round">
<path d="M106.2 608.7C106.5 605.7 106.9 595.6 107.9 590.6C108.9 585.6 110.0 580.0 112.2 578.9C114.3 577.8 117.2 580.5 120.7 584.2C124.3 587.9 129.3 595.2 133.5 601.3C137.8 607.3 142.1 614.4 146.3 620.4C150.6 626.5 154.9 632.1 159.2 637.5C163.4 642.8 167.7 647.8 172.0 652.4C176.2 657.0 180.5 661.2 184.8 665.1C189.1 669.0 193.3 673.0 197.6 675.8C201.9 678.6 206.5 680.5 210.4 681.8C214.3 683.0 217.5 683.4 221.1 683.2C224.6 683.1 227.8 682.7 231.8 681.1C235.7 679.5 240.3 677.0 244.6 673.7C248.8 670.3 253.1 665.9 257.4 660.9C261.7 655.9 265.9 649.5 270.2 643.8C274.5 638.2 278.7 632.8 283.0 626.8C287.3 620.8 291.6 614.0 295.8 607.6C300.1 601.3 304.4 594.5 308.6 588.5C312.9 582.4 317.2 576.8 321.4 571.4C325.7 566.1 330.0 560.8 334.3 556.5C338.5 552.3 342.8 548.5 347.1 545.9C351.3 543.2 355.6 541.8 359.9 540.6C364.2 539.3 368.8 538.8 372.7 538.4C376.6 538.1 379.5 537.9 383.4 538.4C387.3 539.0 391.9 540.2 396.2 541.6C400.5 543.0 405.5 545.3 409.0 546.9C412.5 548.5 415.6 550.5 416.9 551.2" stroke="#656565"/>
<path d="M66.7 608.7L416.9 608.7" stroke="#ff0000"/>
</g>
<rect x="310.2" y="574.2" width="8.5" height="71.3" fill="#0000ff"/>
<text transform="translate(111.6 587.3) scale(0.960 1)" font-size="34.0" fill="#000">P</text>
<text transform="translate(277.8 573.5) scale(0.985 1)" font-size="34.0" fill="#000">FUTU.00</text>
<text class="s" x="110.1" y="667.8" font-size="26.8" fill="#000" textLength="101.0" lengthAdjust="spacingAndGlyphs">SNR=1.8</text>
<text class="s" x="276.7" y="669.3" font-size="30.5" fill="#000" textLength="130.1" lengthAdjust="spacingAndGlyphs">174°, 67°</text>
<rect x="533.3" y="533.1" width="354.6" height="157.6" fill="none" stroke="#484848" stroke-width="2.6"/>
<path d="M577.7 690.7v-4.6M577.7 533.1v4.6M666.4 690.7v-4.6M666.4 533.1v4.6M755.0 690.7v-4.6M755.0 533.1v4.6M843.7 690.7v-4.6M843.7 533.1v4.6M533.3 569.3h4.6M887.9 569.3h-4.6M533.3 613.3h4.6M887.9 613.3h-4.6M533.3 657.3h4.6M887.9 657.3h-4.6" stroke="#484848" stroke-width="2.4" fill="none"/>
<text transform="translate(574.3 732.1) scale(0.975 1)" font-size="34.4" fill="#5e5e5e" text-anchor="middle">0</text>
<text transform="translate(661.4 732.1) scale(0.975 1)" font-size="34.4" fill="#5e5e5e" text-anchor="middle">20</text>
<text transform="translate(750.0 732.1) scale(0.975 1)" font-size="34.4" fill="#5e5e5e" text-anchor="middle">40</text>
<text transform="translate(838.7 732.1) scale(0.975 1)" font-size="34.4" fill="#5e5e5e" text-anchor="middle">60</text>
<text transform="translate(500.9 582.2) scale(0.975 1)" font-size="34.4" fill="#404040">5</text>
<text transform="translate(500.9 626.2) scale(0.975 1)" font-size="34.4" fill="#404040">0</text>
<text transform="translate(493.0 670.2) scale(0.975 1)" font-size="34.4" fill="#404040">-5</text>
<path d="M538.1 508.4l16.2 16.2m0 -16.2l-16.2 16.2" stroke="#404040" stroke-width="2.3" fill="none"/>
<text transform="translate(563.9 525.6) scale(0.955 1)" font-size="33.8" fill="#404040">10</text>
<text x="609.7" y="508.1" font-size="25.6" fill="#404040">-8</text>
<g clip-path="url(#c21)" fill="none" stroke-width="8.2" stroke-linejoin="round">
<path d="M572.9 613.4C573.3 611.7 573.9 606.5 575.1 603.4C576.2 600.3 578.0 594.9 579.8 594.9C581.6 594.9 583.0 600.5 585.8 603.4C588.6 606.2 592.9 609.1 596.5 611.9C600.1 614.7 603.6 617.6 607.2 620.4C610.8 623.3 614.0 626.5 617.9 628.9C621.9 631.4 626.9 633.6 630.8 635.3C634.7 637.1 638.3 638.9 641.5 639.6C644.7 640.3 647.2 640.7 650.1 639.6C652.9 638.5 655.8 636.7 658.6 633.2C661.5 629.6 664.7 622.4 667.2 618.3C669.7 614.2 671.5 610.7 673.6 608.7C675.8 606.8 677.9 606.0 680.1 606.6C682.2 607.1 684.0 608.2 686.5 611.9C689.0 615.6 692.2 622.9 695.1 628.9C697.9 635.0 701.1 643.1 703.6 648.1C706.1 653.1 708.1 656.6 710.1 658.8C712.0 660.9 713.5 661.2 715.4 660.9C717.4 660.5 719.5 660.5 721.8 656.6C724.2 652.7 726.7 644.9 729.3 637.5C732.0 630.0 735.1 619.7 737.9 611.9C740.8 604.1 743.6 597.0 746.5 590.6C749.3 584.2 752.2 577.8 755.1 573.6C757.9 569.3 760.4 567.5 763.6 565.0C766.8 562.6 771.1 561.1 774.3 558.7C777.6 556.2 780.6 552.8 782.9 550.1C785.2 547.5 786.5 544.3 788.3 542.7C790.1 541.1 791.7 540.0 793.6 540.6C795.6 541.1 797.9 542.5 800.1 545.9C802.2 549.3 804.0 554.8 806.5 560.8C809.0 566.8 812.2 575.3 815.1 582.1C817.9 588.8 820.8 594.5 823.6 601.3C826.5 608.0 829.7 616.9 832.2 622.5C834.7 628.2 836.5 632.5 838.6 635.3C840.8 638.2 842.9 638.5 845.0 639.6C847.2 640.7 849.3 639.9 851.5 641.7C853.6 643.5 855.4 646.0 857.9 650.2C860.4 654.5 863.8 662.7 866.5 667.3C869.2 671.9 871.7 676.9 874.0 677.9C876.3 679.0 878.1 675.6 880.4 673.7C882.7 671.7 886.7 667.5 887.9 666.2" stroke="#656565"/>
<path d="M533.3 613.4C543.8 613.4 583.8 613.1 596.5 613.4C609.2 613.7 604.7 614.1 609.4 615.1C614.0 616.1 619.7 619.2 624.4 619.4C629.0 619.5 633.6 617.4 637.2 616.2C640.8 614.9 642.9 614.4 645.8 611.9C648.6 609.4 651.9 605.2 654.4 601.3C656.9 597.3 658.6 592.0 660.8 588.5C662.9 584.9 665.1 581.8 667.2 580.0C669.4 578.1 671.5 577.0 673.6 577.4C675.8 577.8 677.6 578.5 680.1 582.1C682.6 585.7 685.8 592.0 688.6 599.1C691.5 606.2 694.4 615.4 697.2 624.7C700.1 633.9 703.3 646.3 705.8 654.5C708.3 662.7 710.1 668.9 712.2 673.7C714.3 678.5 716.7 682.5 718.6 683.2C720.6 684.0 722.2 681.6 724.0 677.9C725.8 674.2 727.4 668.0 729.3 660.9C731.3 653.8 733.6 643.1 735.8 635.3C737.9 627.5 739.7 619.4 742.2 614.0C744.7 608.7 747.9 607.3 750.8 603.4C753.6 599.5 756.5 594.0 759.3 590.6C762.2 587.2 765.1 584.4 767.9 583.1C770.8 581.9 773.6 582.6 776.5 583.1C779.3 583.7 781.5 585.1 785.1 586.3C788.6 587.6 793.6 588.8 797.9 590.6C802.2 592.4 805.8 594.5 810.8 597.0C815.8 599.5 822.2 603.0 827.9 605.5C833.6 608.0 839.3 609.9 845.0 611.9C850.8 613.9 857.2 615.8 862.2 617.2C867.2 618.6 870.8 619.6 875.0 620.4C879.3 621.2 885.8 621.8 887.9 622.1" stroke="#ff0000"/>
</g>
<rect x="779.6" y="576.8" width="8.5" height="71.8" fill="#0000ff"/>
<text transform="translate(578.7 588.4) scale(0.960 1)" font-size="34.0" fill="#000">P</text>
<text transform="translate(746.7 574.6) scale(0.985 1)" font-size="34.0" fill="#000">HDC.00</text>
<text class="s" x="577.2" y="669.3" font-size="26.8" fill="#000" textLength="101.0" lengthAdjust="spacingAndGlyphs">SNR=1.3</text>
<text class="s" x="745.6" y="671.5" font-size="30.5" fill="#000" textLength="113.9" lengthAdjust="spacingAndGlyphs">76°, 88°</text>
<rect x="1004.2" y="533.1" width="350.2" height="157.6" fill="none" stroke="#484848" stroke-width="2.6"/>
<path d="M1048.0 690.7v-4.6M1048.0 533.1v4.6M1135.8 690.7v-4.6M1135.8 533.1v4.6M1223.6 690.7v-4.6M1223.6 533.1v4.6M1311.4 690.7v-4.6M1311.4 533.1v4.6M1004.2 551.7h4.6M1354.4 551.7h-4.6M1004.2 602.5h4.6M1354.4 602.5h-4.6M1004.2 653.3h4.6M1354.4 653.3h-4.6" stroke="#484848" stroke-width="2.4" fill="none"/>
<text transform="translate(1044.6 732.1) scale(0.975 1)" font-size="34.4" fill="#5e5e5e" text-anchor="middle">0</text>
<text transform="translate(1130.8 732.1) scale(0.975 1)" font-size="34.4" fill="#5e5e5e" text-anchor="middle">20</text>
<text transform="translate(1218.6 732.1) scale(0.975 1)" font-size="34.4" fill="#5e5e5e" text-anchor="middle">40</text>
<text transform="translate(1306.4 732.1) scale(0.975 1)" font-size="34.4" fill="#5e5e5e" text-anchor="middle">60</text>
<text transform="translate(971.8 564.6) scale(0.975 1)" font-size="34.4" fill="#404040">1</text>
<text transform="translate(971.8 615.4) scale(0.975 1)" font-size="34.4" fill="#404040">0</text>
<text transform="translate(963.9 666.2) scale(0.975 1)" font-size="34.4" fill="#404040">-1</text>
<path d="M1009.0 508.4l16.2 16.2m0 -16.2l-16.2 16.2" stroke="#404040" stroke-width="2.3" fill="none"/>
<text transform="translate(1034.8 525.6) scale(0.955 1)" font-size="33.8" fill="#404040">10</text>
<text x="1080.6" y="508.1" font-size="25.6" fill="#404040">-7</text>
<g clip-path="url(#c22)" fill="none" stroke-width="8.2" stroke-linejoin="round">
<path d="M1046.6 602.3C1048.0 602.7 1052.1 603.7 1055.1 604.4C1058.2 605.2 1061.6 606.9 1064.8 606.6C1068.0 606.2 1071.4 602.7 1074.4 602.3C1077.4 602.0 1080.5 603.6 1083.0 604.4C1085.5 605.3 1087.3 607.6 1089.4 607.2C1091.5 606.9 1093.7 605.4 1095.8 602.3C1098.0 599.2 1099.7 593.3 1102.2 588.5C1104.7 583.7 1108.0 577.0 1110.8 573.6C1113.6 570.1 1116.3 567.6 1118.9 567.6C1121.6 567.6 1124.1 569.7 1126.9 573.6C1129.6 577.4 1132.4 583.9 1135.4 590.6C1138.5 597.3 1142.0 606.6 1145.1 614.0C1148.1 621.5 1151.1 630.0 1153.6 635.3C1156.1 640.7 1158.1 643.7 1160.0 646.0C1162.0 648.3 1163.4 649.5 1165.4 649.2C1167.3 648.8 1169.5 648.3 1171.8 643.8C1174.1 639.4 1176.6 630.4 1179.3 622.5C1182.0 614.7 1185.0 603.7 1187.9 597.0C1190.7 590.2 1193.6 585.2 1196.4 582.1C1199.3 579.0 1202.1 577.9 1205.0 578.3C1207.8 578.6 1210.7 579.7 1213.5 584.2C1216.4 588.8 1219.3 599.1 1222.1 605.5C1225.0 611.9 1227.8 618.3 1230.7 622.5C1233.5 626.8 1236.9 629.5 1239.2 631.1C1241.6 632.7 1242.4 632.8 1244.6 632.1C1246.7 631.4 1249.8 630.5 1252.1 626.8C1254.4 623.1 1256.4 616.9 1258.5 609.8C1260.6 602.7 1262.8 592.7 1264.9 584.2C1267.1 575.7 1269.2 565.6 1271.3 558.7C1273.5 551.7 1276.0 545.9 1277.8 542.7C1279.6 539.5 1280.4 539.0 1282.0 539.5C1283.7 540.0 1285.3 540.9 1287.4 545.9C1289.5 550.8 1292.2 560.8 1294.9 569.3C1297.6 577.8 1300.6 589.2 1303.5 597.0C1306.3 604.8 1309.5 611.5 1312.0 616.2C1314.5 620.8 1316.7 622.9 1318.4 624.7C1320.2 626.5 1320.9 627.2 1322.7 626.8C1324.5 626.5 1327.0 625.4 1329.1 622.5C1331.3 619.7 1333.4 613.3 1335.6 609.8C1337.7 606.2 1340.2 603.0 1342.0 601.3C1343.8 599.5 1344.7 598.8 1346.3 599.1C1347.9 599.5 1350.0 601.3 1351.6 603.4C1353.2 605.5 1355.2 610.5 1355.9 611.9" stroke="#656565"/>
<path d="M1004.2 602.3C1015.5 602.3 1059.1 602.7 1072.3 602.3C1083.0 602.0 1079.4 601.8 1083.0 600.2C1086.5 598.6 1090.1 595.2 1093.7 592.7C1097.2 590.2 1100.8 587.4 1104.4 585.3C1107.9 583.1 1112.2 581.1 1115.1 580.0C1117.9 578.8 1119.4 577.9 1121.5 578.3C1123.6 578.6 1125.8 579.0 1127.9 582.1C1130.1 585.2 1131.9 590.2 1134.3 597.0C1136.8 603.7 1140.1 613.3 1142.9 622.5C1145.8 631.8 1149.0 644.2 1151.5 652.4C1154.0 660.5 1155.8 666.6 1157.9 671.5C1160.0 676.5 1162.7 680.2 1164.3 682.2C1165.9 684.1 1166.1 684.3 1167.5 683.2C1169.0 682.2 1170.9 680.9 1172.9 675.8C1174.8 670.6 1177.2 661.9 1179.3 652.4C1181.4 642.8 1183.6 629.6 1185.7 618.3C1187.9 606.9 1190.2 593.4 1192.1 584.2C1194.1 575.0 1195.7 567.9 1197.5 562.9C1199.3 557.9 1200.5 556.1 1202.8 554.4C1205.2 552.7 1208.2 552.9 1211.4 552.7C1214.6 552.5 1218.2 552.0 1222.1 553.3C1226.0 554.7 1231.0 557.8 1235.0 560.8C1238.9 563.8 1242.1 567.9 1245.7 571.4C1249.2 575.0 1252.4 578.5 1256.4 582.1C1260.3 585.6 1264.9 589.4 1269.2 592.7C1273.5 596.1 1277.1 599.1 1282.0 602.3C1287.0 605.5 1293.5 609.3 1299.2 611.9C1304.9 614.5 1310.6 616.4 1316.3 617.9C1322.0 619.3 1327.1 620.1 1333.4 620.4C1339.8 620.8 1350.9 620.1 1354.4 620.0" stroke="#ff0000"/>
</g>
<rect x="1247.9" y="571.0" width="8.5" height="71.1" fill="#0000ff"/>
<text transform="translate(1049.0 583.5) scale(0.960 1)" font-size="34.0" fill="#000">P</text>
<text transform="translate(1215.4 572.0) scale(0.985 1)" font-size="34.0" fill="#000">INU.00</text>
<text class="s" x="1047.5" y="665.1" font-size="26.8" fill="#000" textLength="101.0" lengthAdjust="spacingAndGlyphs">SNR=4.4</text>
<text class="s" x="1214.3" y="667.2" font-size="30.5" fill="#000" textLength="130.1" lengthAdjust="spacingAndGlyphs">254°, 33°</text>
<rect x="1471.0" y="533.1" width="354.4" height="157.6" fill="none" stroke="#484848" stroke-width="2.6"/>
<path d="M1515.2 690.7v-4.6M1515.2 533.1v4.6M1604.0 690.7v-4.6M1604.0 533.1v4.6M1692.7 690.7v-4.6M1692.7 533.1v4.6M1781.5 690.7v-4.6M1781.5 533.1v4.6M1471.0 573.5h4.6M1825.4 573.5h-4.6M1471.0 616.9h4.6M1825.4 616.9h-4.6M1471.0 660.2h4.6M1825.4 660.2h-4.6" stroke="#484848" stroke-width="2.4" fill="none"/>
<text transform="translate(1511.8 732.1) scale(0.975 1)" font-size="34.4" fill="#5e5e5e" text-anchor="middle">0</text>
<text transform="translate(1599.0 732.1) scale(0.975 1)" font-size="34.4" fill="#5e5e5e" text-anchor="middle">20</text>
<text transform="translate(1687.7 732.1) scale(0.975 1)" font-size="34.4" fill="#5e5e5e" text-anchor="middle">40</text>
<text transform="translate(1776.5 732.1) scale(0.975 1)" font-size="34.4" fill="#5e5e5e" text-anchor="middle">60</text>
<text transform="translate(1438.6 586.4) scale(0.975 1)" font-size="34.4" fill="#404040">1</text>
<text transform="translate(1438.6 629.8) scale(0.975 1)" font-size="34.4" fill="#404040">0</text>
<text transform="translate(1430.7 673.1) scale(0.975 1)" font-size="34.4" fill="#404040">-1</text>
<path d="M1475.8 508.4l16.2 16.2m0 -16.2l-16.2 16.2" stroke="#404040" stroke-width="2.3" fill="none"/>
<text transform="translate(1501.6 525.6) scale(0.955 1)" font-size="33.8" fill="#404040">10</text>
<text x="1547.4" y="508.1" font-size="25.6" fill="#404040">-7</text>
<g clip-path="url(#c23)" fill="none" stroke-width="8.2" stroke-linejoin="round">
<path d="M1511.1 617.7C1511.4 614.9 1512.1 610.0 1513.2 601.3C1514.3 592.5 1515.9 574.6 1517.5 565.0C1519.1 555.5 1521.1 548.0 1522.9 543.7C1524.6 539.5 1526.4 539.5 1528.2 539.5C1530.0 539.5 1531.8 540.6 1533.6 543.7C1535.4 546.9 1537.1 552.6 1538.9 558.7C1540.7 564.7 1542.7 573.9 1544.3 580.0C1545.9 586.0 1547.1 592.4 1548.6 594.9C1550.0 597.3 1551.6 597.0 1552.9 594.9C1554.1 592.7 1554.8 585.3 1556.1 582.1C1557.3 578.9 1558.9 573.9 1560.3 575.7C1561.8 577.5 1563.2 583.9 1564.6 592.7C1566.1 601.6 1567.5 616.5 1568.9 628.9C1570.3 641.4 1571.8 658.0 1573.2 667.3C1574.6 676.5 1576.1 684.3 1577.5 684.3C1578.9 684.3 1580.3 677.6 1581.8 667.3C1583.2 657.0 1584.8 636.0 1586.1 622.5C1587.3 609.1 1588.2 594.0 1589.3 586.3C1590.3 578.7 1591.4 576.0 1592.5 576.8C1593.6 577.5 1594.5 581.9 1595.7 590.6C1597.0 599.3 1598.7 617.9 1600.0 628.9C1601.2 639.9 1602.1 651.3 1603.2 656.6C1604.3 661.9 1605.3 663.7 1606.4 660.9C1607.5 658.0 1608.4 650.9 1609.6 639.6C1610.9 628.2 1612.7 604.1 1613.9 592.7C1615.2 581.4 1615.9 575.5 1617.1 571.4C1618.4 567.4 1620.2 566.8 1621.4 568.2C1622.7 569.7 1623.6 571.6 1624.6 580.0C1625.7 588.3 1627.0 605.5 1627.8 618.3C1628.7 631.1 1629.3 646.7 1630.0 656.6C1630.7 666.6 1631.2 674.7 1632.1 677.9C1633.0 681.1 1634.3 682.2 1635.3 675.8C1636.4 669.4 1637.3 652.0 1638.6 639.6C1639.8 627.2 1641.5 609.6 1642.8 601.3C1644.2 592.9 1645.5 589.5 1646.7 589.5C1648.0 589.5 1649.0 593.6 1650.3 601.3C1651.7 608.9 1653.2 624.7 1654.6 635.3C1656.1 646.0 1657.5 657.7 1658.9 665.1C1660.3 672.6 1661.8 680.8 1663.2 680.1C1664.6 679.3 1666.1 669.0 1667.5 660.9C1668.9 652.7 1670.3 637.8 1671.8 631.1C1673.2 624.3 1674.6 620.4 1676.1 620.4C1677.5 620.4 1678.9 625.7 1680.3 631.1C1681.8 636.4 1683.2 647.0 1684.6 652.4C1686.1 657.7 1687.5 663.0 1688.9 663.0C1690.3 663.0 1691.4 659.1 1693.2 652.4C1695.0 645.6 1697.5 630.7 1699.6 622.5C1701.8 614.4 1704.1 605.9 1706.1 603.4C1708.0 600.9 1709.6 603.7 1711.4 607.6C1713.2 611.5 1715.1 621.5 1716.8 626.8C1718.4 632.1 1719.9 641.0 1721.5 639.6C1723.1 638.2 1724.9 627.2 1726.4 618.3C1727.9 609.4 1729.1 595.6 1730.7 586.3C1732.3 577.1 1734.3 564.0 1736.1 562.9C1737.8 561.9 1739.6 571.4 1741.4 580.0C1743.2 588.5 1745.0 605.3 1746.8 614.0C1748.5 622.7 1750.5 631.4 1752.1 632.1C1753.7 632.8 1754.8 625.6 1756.4 618.3C1758.0 611.0 1760.0 595.7 1761.8 588.5C1763.5 581.2 1765.5 575.0 1767.1 574.6C1768.7 574.3 1770.0 578.4 1771.4 586.3C1772.8 594.3 1774.3 609.4 1775.7 622.5C1777.1 635.7 1778.7 655.7 1780.0 665.1C1781.2 674.5 1781.8 677.2 1783.2 679.0C1784.6 680.8 1786.9 679.5 1788.5 675.8C1790.2 672.1 1791.2 664.1 1792.8 656.6C1794.4 649.2 1796.8 636.0 1798.2 631.1C1799.6 626.1 1800.2 624.7 1801.4 626.8C1802.7 628.9 1804.3 636.0 1805.7 643.8C1807.1 651.7 1808.7 667.3 1810.0 673.7C1811.2 680.1 1811.9 685.0 1813.2 682.2C1814.4 679.3 1816.2 668.7 1817.5 656.6C1818.7 644.6 1819.4 624.3 1820.7 609.8C1822.0 595.2 1824.6 576.0 1825.4 569.3" stroke="#656565"/>
<path d="M1471.0 617.2C1474.6 617.0 1486.4 616.9 1492.9 616.2C1499.4 615.4 1504.6 614.0 1510.0 613.0C1515.4 611.9 1520.5 610.6 1525.0 609.8C1529.5 609.0 1533.2 607.7 1536.8 608.3C1540.4 608.8 1543.0 610.6 1546.4 613.0C1549.8 615.3 1553.6 619.2 1557.1 622.5C1560.7 625.9 1564.6 630.5 1567.8 633.2C1571.1 635.9 1573.9 637.5 1576.4 638.5C1578.9 639.6 1580.3 640.1 1582.8 639.6C1585.3 639.1 1588.6 637.8 1591.4 635.3C1594.3 632.8 1597.1 628.2 1600.0 624.7C1602.8 621.1 1605.7 617.0 1608.6 614.0C1611.4 611.0 1613.9 608.5 1617.1 606.6C1620.3 604.6 1624.3 603.2 1627.8 602.3C1631.4 601.4 1634.6 601.1 1638.6 601.3C1642.5 601.4 1646.4 602.1 1651.4 603.4C1656.4 604.6 1662.8 607.0 1668.6 608.7C1674.3 610.4 1680.0 612.2 1685.7 613.6C1691.4 615.0 1697.1 616.3 1702.8 617.2C1708.6 618.2 1714.3 618.8 1720.0 619.4C1725.7 620.0 1731.1 620.5 1737.1 620.8C1743.2 621.2 1749.6 621.4 1756.4 621.5C1763.2 621.5 1770.7 621.2 1777.8 621.1C1785.0 620.9 1791.3 620.9 1799.3 620.4C1807.2 620.0 1821.0 618.6 1825.4 618.3" stroke="#ff0000"/>
</g>
<rect x="1717.3" y="578.3" width="8.5" height="71.6" fill="#0000ff"/>
<text transform="translate(1516.2 590.5) scale(0.960 1)" font-size="34.0" fill="#000">P</text>
<text transform="translate(1684.4 576.7) scale(0.985 1)" font-size="34.0" fill="#000">IVI.00</text>
<text class="s" x="1514.7" y="670.4" font-size="26.8" fill="#000" textLength="101.0" lengthAdjust="spacingAndGlyphs">SNR=1.1</text>
<text class="s" x="1683.3" y="672.5" font-size="30.5" fill="#000" textLength="113.9" lengthAdjust="spacingAndGlyphs">23°, 61°</text>
<rect x="1941.5" y="533.1" width="350.7" height="157.6" fill="none" stroke="#484848" stroke-width="2.6"/>
<path d="M1985.7 690.7v-4.6M1985.7 533.1v4.6M2073.4 690.7v-4.6M2073.4 533.1v4.6M2161.0 690.7v-4.6M2161.0 533.1v4.6M2248.7 690.7v-4.6M2248.7 533.1v4.6M1941.5 581.4h4.6M2292.2 581.4h-4.6M1941.5 629.4h4.6M2292.2 629.4h-4.6M1941.5 677.5h4.6M2292.2 677.5h-4.6" stroke="#484848" stroke-width="2.4" fill="none"/>
<text transform="translate(1982.3 732.1) scale(0.975 1)" font-size="34.4" fill="#5e5e5e" text-anchor="middle">0</text>
<text transform="translate(2068.4 732.1) scale(0.975 1)" font-size="34.4" fill="#5e5e5e" text-anchor="middle">20</text>
<text transform="translate(2156.0 732.1) scale(0.975 1)" font-size="34.4" fill="#5e5e5e" text-anchor="middle">40</text>
<text transform="translate(2243.7 732.1) scale(0.975 1)" font-size="34.4" fill="#5e5e5e" text-anchor="middle">60</text>
<text transform="translate(1909.1 594.3) scale(0.975 1)" font-size="34.4" fill="#404040">1</text>
<text transform="translate(1909.1 642.3) scale(0.975 1)" font-size="34.4" fill="#404040">0</text>
<text transform="translate(1901.2 690.4) scale(0.975 1)" font-size="34.4" fill="#404040">-1</text>
<path d="M1946.3 508.4l16.2 16.2m0 -16.2l-16.2 16.2" stroke="#404040" stroke-width="2.3" fill="none"/>
<text transform="translate(1972.1 525.6) scale(0.955 1)" font-size="33.8" fill="#404040">10</text>
<text x="2017.9" y="508.1" font-size="25.6" fill="#404040">-7</text>
<g clip-path="url(#c24)" fill="none" stroke-width="8.2" stroke-linejoin="round">
<path d="M1982.6 629.4C1983.3 627.9 1985.2 623.3 1986.8 620.4C1988.4 617.6 1990.4 612.7 1992.2 612.3C1994.0 612.0 1995.7 614.5 1997.5 618.3C1999.3 622.1 2001.1 631.2 2002.9 635.3C2004.7 639.4 2006.4 642.8 2008.2 642.8C2010.0 642.8 2011.8 639.1 2013.6 635.3C2015.3 631.6 2017.1 624.0 2018.9 620.4C2020.7 616.8 2022.7 614.8 2024.3 613.6C2025.9 612.4 2026.9 611.5 2028.5 613.0C2030.1 614.5 2032.1 617.4 2033.9 622.5C2035.7 627.7 2037.6 638.0 2039.2 643.8C2040.8 649.7 2042.1 656.3 2043.5 657.7C2044.9 659.1 2046.4 654.3 2047.8 652.4C2049.2 650.4 2050.6 644.9 2052.1 646.0C2053.5 647.0 2054.9 653.6 2056.3 658.8C2057.8 663.9 2059.2 674.0 2060.6 676.9C2062.0 679.7 2063.5 678.8 2064.9 675.8C2066.3 672.8 2067.6 664.1 2069.2 658.8C2070.8 653.4 2072.2 649.9 2074.5 643.8C2076.8 637.8 2080.9 631.4 2083.1 622.5C2085.2 613.7 2085.9 601.3 2087.3 590.6C2088.8 580.0 2090.2 566.6 2091.6 558.7C2093.0 550.7 2094.5 543.4 2095.9 542.7C2097.3 542.0 2098.6 549.3 2100.2 554.4C2101.8 559.5 2103.7 570.4 2105.5 573.6C2107.3 576.8 2109.1 574.3 2110.9 573.6C2112.6 572.9 2114.6 567.2 2116.2 569.3C2117.8 571.4 2118.9 578.2 2120.5 586.3C2122.1 594.5 2123.5 609.4 2125.8 618.3C2128.1 627.2 2131.9 633.2 2134.4 639.6C2136.9 646.0 2138.8 652.0 2140.8 656.6C2142.8 661.2 2144.5 666.9 2146.1 667.3C2147.8 667.6 2148.8 663.4 2150.4 658.8C2152.0 654.1 2154.2 643.7 2155.8 639.6C2157.4 635.5 2158.6 634.3 2160.0 634.3C2161.5 634.3 2162.7 637.6 2164.3 639.6C2165.9 641.5 2167.9 646.3 2169.7 646.0C2171.5 645.6 2173.2 639.7 2175.0 637.5C2176.8 635.3 2178.8 632.4 2180.4 632.8C2182.0 633.1 2182.7 636.3 2184.6 639.6C2186.6 642.9 2190.0 651.7 2192.1 652.4C2194.3 653.1 2195.7 646.0 2197.5 643.8C2199.3 641.7 2201.0 638.9 2202.8 639.6C2204.6 640.3 2206.4 643.8 2208.2 648.1C2209.9 652.4 2211.7 660.9 2213.5 665.1C2215.3 669.4 2217.1 674.4 2218.9 673.7C2220.6 673.0 2222.2 666.9 2224.2 660.9C2226.2 654.8 2228.5 644.2 2230.6 637.5C2232.8 630.7 2234.9 624.5 2237.0 620.4C2239.2 616.3 2241.5 613.0 2243.4 613.0C2245.4 613.0 2247.0 616.7 2248.8 620.4C2250.6 624.1 2252.4 631.8 2254.1 635.3C2255.9 638.9 2257.9 641.4 2259.5 641.7C2261.1 642.1 2262.3 638.9 2263.8 637.5C2265.2 636.0 2266.4 632.1 2268.0 633.2C2269.6 634.3 2271.6 639.2 2273.4 643.8C2275.2 648.5 2277.1 657.3 2278.7 660.9C2280.3 664.4 2281.6 667.3 2283.0 665.1C2284.4 663.0 2285.7 655.2 2287.3 648.1C2288.8 641.0 2291.4 626.8 2292.2 622.5" stroke="#656565"/>
<path d="M1941.5 629.4C1953.3 629.4 1998.9 629.3 2012.5 629.4C2023.2 629.5 2020.0 629.0 2023.2 630.0C2026.4 631.0 2028.9 633.2 2031.7 635.3C2034.6 637.5 2037.4 640.7 2040.3 642.8C2043.1 644.9 2046.0 646.3 2048.8 648.1C2051.7 649.9 2054.9 652.3 2057.4 653.4C2059.9 654.6 2061.9 655.8 2063.8 654.9C2065.8 654.0 2067.4 651.7 2069.2 648.1C2070.9 644.5 2072.5 639.6 2074.5 633.2C2076.5 626.8 2078.8 617.9 2080.9 609.8C2083.1 601.6 2085.2 592.4 2087.3 584.2C2089.5 576.0 2091.6 567.2 2093.8 560.8C2095.9 554.4 2098.0 549.3 2100.2 545.9C2102.3 542.5 2104.8 541.4 2106.6 540.6C2108.4 539.7 2109.3 539.0 2110.9 540.6C2112.5 542.2 2114.4 545.3 2116.2 550.1C2118.0 554.9 2119.8 561.5 2121.6 569.3C2123.3 577.1 2125.1 587.4 2126.9 597.0C2128.7 606.6 2130.5 616.9 2132.2 626.8C2134.0 636.7 2136.0 648.8 2137.6 656.6C2139.2 664.4 2140.3 669.8 2141.9 673.7C2143.5 677.6 2144.9 678.6 2147.2 680.1C2149.5 681.5 2152.9 681.3 2155.8 682.2C2158.6 683.1 2161.8 685.0 2164.3 685.4C2166.8 685.7 2168.2 685.9 2170.7 684.3C2173.2 682.7 2176.4 679.0 2179.3 675.8C2182.1 672.6 2185.0 668.7 2187.8 665.1C2190.7 661.6 2192.8 658.4 2196.4 654.5C2200.0 650.6 2205.0 645.4 2209.2 641.7C2213.5 638.0 2217.8 635.3 2222.1 632.1C2226.3 628.9 2230.6 625.4 2234.9 622.5C2239.2 619.7 2243.4 617.2 2247.7 615.1C2252.0 613.0 2256.3 611.4 2260.6 610.2C2264.8 609.0 2268.1 608.5 2273.4 608.1C2278.7 607.6 2289.1 607.7 2292.2 607.6" stroke="#ff0000"/>
</g>
<rect x="2185.3" y="585.7" width="8.5" height="70.9" fill="#0000ff"/>
<text transform="translate(1986.7 597.4) scale(0.960 1)" font-size="34.0" fill="#000">P</text>
<text transform="translate(2152.8 581.0) scale(0.985 1)" font-size="34.0" fill="#000">KIP.00</text>
<text class="s" x="1985.2" y="674.7" font-size="26.8" fill="#000" textLength="101.0" lengthAdjust="spacingAndGlyphs">SNR=1.9</text>
<text class="s" x="2151.7" y="676.4" font-size="30.5" fill="#000" textLength="130.1" lengthAdjust="spacingAndGlyphs">138°, 37°</text>
<rect x="66.7" y="779.0" width="350.2" height="158.0" fill="none" stroke="#484848" stroke-width="2.6"/>
<path d="M110.6 937.0v-4.6M110.6 779.0v4.6M198.3 937.0v-4.6M198.3 779.0v4.6M286.0 937.0v-4.6M286.0 779.0v4.6M373.7 937.0v-4.6M373.7 779.0v4.6M66.7 827.5h4.6M416.9 827.5h-4.6M66.7 875.8h4.6M416.9 875.8h-4.6M66.7 924.1h4.6M416.9 924.1h-4.6" stroke="#484848" stroke-width="2.4" fill="none"/>
<text transform="translate(107.2 978.4) scale(0.975 1)" font-size="34.4" fill="#5e5e5e" text-anchor="middle">0</text>
<text transform="translate(193.3 978.4) scale(0.975 1)" font-size="34.4" fill="#5e5e5e" text-anchor="middle">20</text>
<text transform="translate(281.0 978.4) scale(0.975 1)" font-size="34.4" fill="#5e5e5e" text-anchor="middle">40</text>
<text transform="translate(368.7 978.4) scale(0.975 1)" font-size="34.4" fill="#5e5e5e" text-anchor="middle">60</text>
<text transform="translate(34.3 840.4) scale(0.975 1)" font-size="34.4" fill="#404040">1</text>
<text transform="translate(34.3 888.7) scale(0.975 1)" font-size="34.4" fill="#404040">0</text>
<text transform="translate(26.4 937.0) scale(0.975 1)" font-size="34.4" fill="#404040">-1</text>
<path d="M71.5 754.3l16.2 16.2m0 -16.2l-16.2 16.2" stroke="#404040" stroke-width="2.3" fill="none"/>
<text transform="translate(97.3 771.5) scale(0.955 1)" font-size="33.8" fill="#404040">10</text>
<text x="143.1" y="754.0" font-size="25.6" fill="#404040">-7</text>
<g clip-path="url(#c30)" fill="none" stroke-width="8.2" stroke-linejoin="round">
<path d="M107.7 875.6C108.4 874.1 110.4 869.5 112.0 866.7C113.6 863.8 115.5 858.9 117.3 858.5C119.1 858.2 120.9 860.7 122.6 864.5C124.4 868.4 126.2 877.5 128.0 881.6C129.8 885.7 131.5 889.1 133.3 889.1C135.1 889.1 136.9 885.4 138.7 881.6C140.4 877.9 142.2 870.3 144.0 866.7C145.8 863.0 147.7 861.1 149.3 859.8C150.9 858.6 152.0 857.7 153.6 859.2C155.2 860.7 157.2 863.6 158.9 868.8C160.7 874.0 162.7 884.3 164.3 890.2C165.9 896.1 167.1 902.6 168.6 904.1C170.0 905.5 171.4 900.7 172.8 898.7C174.3 896.8 175.7 891.2 177.1 892.3C178.5 893.4 179.9 900.0 181.4 905.1C182.8 910.3 184.2 920.5 185.6 923.3C187.1 926.2 188.5 925.3 189.9 922.2C191.3 919.2 192.6 910.5 194.2 905.1C195.8 899.8 197.2 896.2 199.5 890.2C201.8 884.1 205.9 877.7 208.1 868.8C210.2 859.9 210.9 847.4 212.3 836.7C213.8 826.0 215.2 812.7 216.6 804.7C218.0 796.6 219.4 789.3 220.9 788.6C222.3 787.9 223.5 795.2 225.1 800.4C226.7 805.5 228.7 816.4 230.5 819.6C232.3 822.8 234.0 820.3 235.8 819.6C237.6 818.9 239.6 813.2 241.2 815.3C242.8 817.5 243.8 824.3 245.4 832.5C247.0 840.6 248.5 855.6 250.8 864.5C253.1 873.4 256.8 879.5 259.3 885.9C261.8 892.3 263.8 898.4 265.7 903.0C267.7 907.6 269.5 913.3 271.1 913.7C272.7 914.1 273.7 909.8 275.3 905.1C276.9 900.5 279.1 890.0 280.7 885.9C282.3 881.8 283.5 880.6 284.9 880.6C286.4 880.6 287.6 883.9 289.2 885.9C290.8 887.9 292.8 892.7 294.5 892.3C296.3 892.0 298.1 886.0 299.9 883.8C301.7 881.6 303.6 878.7 305.2 879.1C306.8 879.4 307.5 882.6 309.5 885.9C311.4 889.2 314.8 898.0 317.0 898.7C319.1 899.4 320.5 892.3 322.3 890.2C324.1 888.0 325.9 885.2 327.6 885.9C329.4 886.6 331.2 890.2 333.0 894.5C334.8 898.7 336.5 907.3 338.3 911.6C340.1 915.8 341.9 920.8 343.7 920.1C345.4 919.4 347.0 913.3 349.0 907.3C351.0 901.2 353.3 890.5 355.4 883.8C357.5 877.0 359.7 870.8 361.8 866.7C363.9 862.6 366.3 859.2 368.2 859.2C370.2 859.2 371.8 862.9 373.6 866.7C375.3 870.4 377.1 878.1 378.9 881.6C380.7 885.2 382.6 887.7 384.2 888.0C385.8 888.4 387.1 885.2 388.5 883.8C389.9 882.3 391.2 878.4 392.8 879.5C394.4 880.6 396.3 885.5 398.1 890.2C399.9 894.8 401.8 903.7 403.4 907.3C405.0 910.8 406.3 913.7 407.7 911.6C409.1 909.4 410.5 901.6 412.0 894.5C413.5 887.3 416.1 873.1 416.9 868.8" stroke="#656565"/>
<path d="M66.7 875.6C78.5 875.6 124.0 875.5 137.6 875.6C148.3 875.7 145.1 875.3 148.3 876.3C151.5 877.3 154.0 879.5 156.8 881.6C159.7 883.8 162.5 887.0 165.4 889.1C168.2 891.2 171.0 892.7 173.9 894.5C176.7 896.2 179.9 898.7 182.4 899.8C184.9 900.9 186.9 902.2 188.8 901.3C190.8 900.4 192.4 898.1 194.2 894.5C196.0 890.8 197.6 885.9 199.5 879.5C201.5 873.1 203.8 864.2 205.9 856.0C208.1 847.8 210.2 838.5 212.3 830.3C214.5 822.1 216.6 813.2 218.7 806.8C220.9 800.4 223.0 795.2 225.1 791.8C227.3 788.4 229.8 787.4 231.6 786.5C233.3 785.6 234.2 784.9 235.8 786.5C237.4 788.1 239.4 791.3 241.2 796.1C242.9 800.9 244.7 807.5 246.5 815.3C248.3 823.2 250.1 833.5 251.8 843.1C253.6 852.8 255.4 863.1 257.2 873.1C259.0 883.1 260.9 895.2 262.5 903.0C264.1 910.8 265.2 916.2 266.8 920.1C268.4 924.0 269.8 925.1 272.1 926.5C274.4 927.9 277.8 927.8 280.7 928.7C283.5 929.6 286.7 931.5 289.2 931.9C291.7 932.2 293.1 932.4 295.6 930.8C298.1 929.2 301.3 925.5 304.2 922.2C307.0 919.0 309.8 915.1 312.7 911.6C315.5 908.0 317.7 904.8 321.2 900.9C324.8 896.9 329.8 891.8 334.0 888.0C338.3 884.3 342.6 881.6 346.9 878.4C351.1 875.2 355.4 871.6 359.7 868.8C363.9 865.9 368.2 863.4 372.5 861.3C376.8 859.2 381.0 857.6 385.3 856.4C389.6 855.2 392.8 854.7 398.1 854.3C403.4 853.8 413.8 853.9 416.9 853.8" stroke="#ff0000"/>
</g>
<rect x="310.2" y="831.8" width="8.5" height="71.2" fill="#0000ff"/>
<text transform="translate(111.6 843.5) scale(0.960 1)" font-size="34.0" fill="#000">P</text>
<text transform="translate(277.8 826.4) scale(0.985 1)" font-size="34.0" fill="#000">KIP.10</text>
<text class="s" x="110.1" y="920.9" font-size="26.8" fill="#000" textLength="101.0" lengthAdjust="spacingAndGlyphs">SNR=1.9</text>
<text class="s" x="276.7" y="923.0" font-size="30.5" fill="#000" textLength="130.1" lengthAdjust="spacingAndGlyphs">138°, 37°</text>
<rect x="533.3" y="779.0" width="354.6" height="158.0" fill="none" stroke="#484848" stroke-width="2.6"/>
<path d="M577.7 937.0v-4.6M577.7 779.0v4.6M666.4 937.0v-4.6M666.4 779.0v4.6M755.0 937.0v-4.6M755.0 779.0v4.6M843.7 937.0v-4.6M843.7 779.0v4.6M533.3 827.5h4.6M887.9 827.5h-4.6M533.3 875.8h4.6M887.9 875.8h-4.6M533.3 924.1h4.6M887.9 924.1h-4.6" stroke="#484848" stroke-width="2.4" fill="none"/>
<text transform="translate(574.3 978.4) scale(0.975 1)" font-size="34.4" fill="#5e5e5e" text-anchor="middle">0</text>
<text transform="translate(661.4 978.4) scale(0.975 1)" font-size="34.4" fill="#5e5e5e" text-anchor="middle">20</text>
<text transform="translate(750.0 978.4) scale(0.975 1)" font-size="34.4" fill="#5e5e5e" text-anchor="middle">40</text>
<text transform="translate(838.7 978.4) scale(0.975 1)" font-size="34.4" fill="#5e5e5e" text-anchor="middle">60</text>
<text transform="translate(500.9 840.4) scale(0.975 1)" font-size="34.4" fill="#404040">1</text>
<text transform="translate(500.9 888.7) scale(0.975 1)" font-size="34.4" fill="#404040">0</text>
<text transform="translate(493.0 937.0) scale(0.975 1)" font-size="34.4" fill="#404040">-1</text>
<path d="M538.1 754.3l16.2 16.2m0 -16.2l-16.2 16.2" stroke="#404040" stroke-width="2.3" fill="none"/>
<text transform="translate(563.9 771.5) scale(0.955 1)" font-size="33.8" fill="#404040">10</text>
<text x="609.7" y="754.0" font-size="25.6" fill="#404040">-7</text>
<g clip-path="url(#c31)" fill="none" stroke-width="8.2" stroke-linejoin="round">
<path d="M574.8 875.5C575.5 874.0 577.5 869.4 579.1 866.5C580.8 863.7 582.7 858.8 584.5 858.4C586.3 858.1 588.1 860.6 589.9 864.4C591.8 868.2 593.6 877.4 595.4 881.5C597.2 885.6 599.0 889.0 600.8 889.0C602.6 889.0 604.4 885.2 606.2 881.5C608.0 877.8 609.8 870.2 611.6 866.5C613.4 862.9 615.4 861.0 617.0 859.7C618.6 858.5 619.7 857.6 621.3 859.1C622.9 860.6 624.9 863.5 626.7 868.7C628.5 873.8 630.5 884.2 632.1 890.0C633.7 895.9 635.0 902.5 636.4 903.9C637.9 905.3 639.3 900.5 640.8 898.6C642.2 896.6 643.6 891.1 645.1 892.2C646.5 893.2 648.0 899.8 649.4 905.0C650.9 910.1 652.3 920.3 653.7 923.1C655.2 926.0 656.6 925.1 658.1 922.1C659.5 919.0 660.8 910.3 662.4 905.0C664.0 899.6 665.4 896.1 667.8 890.0C670.1 884.0 674.3 877.6 676.4 868.7C678.6 859.8 679.3 847.3 680.8 836.6C682.2 826.0 683.6 812.6 685.1 804.6C686.5 796.6 688.0 789.3 689.4 788.6C690.9 787.9 692.1 795.2 693.7 800.4C695.4 805.5 697.3 816.4 699.1 819.6C700.9 822.8 702.7 820.3 704.5 819.6C706.3 818.9 708.3 813.2 710.0 815.3C711.6 817.4 712.7 824.2 714.3 832.4C715.9 840.6 717.3 855.5 719.7 864.4C722.0 873.3 725.8 879.4 728.3 885.8C730.9 892.2 732.8 898.2 734.8 902.8C736.8 907.5 738.6 913.2 740.2 913.5C741.8 913.9 742.9 909.6 744.5 905.0C746.2 900.3 748.3 889.8 750.0 885.8C751.6 881.7 752.8 880.4 754.3 880.4C755.7 880.4 757.0 883.8 758.6 885.8C760.2 887.7 762.2 892.5 764.0 892.2C765.8 891.8 767.6 885.8 769.4 883.6C771.2 881.4 773.2 878.6 774.8 878.9C776.4 879.3 777.2 882.5 779.1 885.8C781.1 889.0 784.5 897.9 786.7 898.6C788.9 899.3 790.3 892.2 792.1 890.0C793.9 887.9 795.7 885.0 797.5 885.8C799.3 886.5 801.1 890.0 802.9 894.3C804.7 898.6 806.5 907.1 808.3 911.4C810.1 915.6 811.9 920.6 813.7 919.9C815.5 919.2 817.2 913.2 819.1 907.1C821.1 901.1 823.5 890.4 825.6 883.6C827.8 876.9 830.0 870.6 832.1 866.5C834.3 862.4 836.6 859.1 838.6 859.1C840.6 859.1 842.2 862.8 844.0 866.5C845.8 870.3 847.6 877.9 849.4 881.5C851.2 885.0 853.2 887.5 854.8 887.9C856.4 888.2 857.7 885.0 859.1 883.6C860.6 882.2 861.8 878.3 863.5 879.4C865.1 880.4 867.1 885.4 868.9 890.0C870.7 894.7 872.7 903.5 874.3 907.1C875.9 910.7 877.2 913.5 878.6 911.4C880.0 909.2 881.4 901.4 882.9 894.3C884.5 887.2 887.1 872.9 887.9 868.7" stroke="#656565"/>
<path d="M533.3 875.5C545.3 875.5 591.3 875.4 605.1 875.5C615.9 875.6 612.7 875.2 615.9 876.1C619.1 877.1 621.7 879.4 624.5 881.5C627.4 883.6 630.3 886.8 633.2 889.0C636.1 891.1 639.0 892.5 641.8 894.3C644.7 896.1 648.0 898.5 650.5 899.6C653.0 900.8 655.0 902.0 657.0 901.1C659.0 900.2 660.6 897.9 662.4 894.3C664.2 890.7 665.8 885.8 667.8 879.4C669.8 872.9 672.1 864.0 674.3 855.9C676.4 847.7 678.6 838.4 680.8 830.2C682.9 822.1 685.1 813.2 687.2 806.8C689.4 800.4 691.6 795.2 693.7 791.8C695.9 788.4 698.4 787.4 700.2 786.5C702.0 785.6 702.9 784.9 704.5 786.5C706.2 788.1 708.1 791.3 710.0 796.1C711.8 800.9 713.6 807.5 715.4 815.3C717.2 823.1 719.0 833.4 720.8 843.1C722.6 852.7 724.4 863.0 726.2 872.9C728.0 882.9 730.0 895.0 731.6 902.8C733.2 910.7 734.3 916.0 735.9 919.9C737.5 923.8 739.0 924.9 741.3 926.3C743.6 927.7 747.1 927.6 750.0 928.5C752.8 929.3 756.1 931.3 758.6 931.7C761.1 932.0 762.6 932.2 765.1 930.6C767.6 929.0 770.9 925.3 773.7 922.1C776.6 918.9 779.5 914.9 782.4 911.4C785.3 907.8 787.4 904.6 791.0 900.7C794.6 896.8 799.7 891.6 804.0 887.9C808.3 884.2 812.7 881.5 817.0 878.3C821.3 875.1 825.6 871.5 830.0 868.7C834.3 865.8 838.6 863.3 842.9 861.2C847.3 859.1 851.6 857.5 855.9 856.3C860.2 855.1 863.5 854.6 868.9 854.2C874.2 853.7 884.7 853.8 887.9 853.7" stroke="#ff0000"/>
</g>
<rect x="779.6" y="831.8" width="8.5" height="71.2" fill="#0000ff"/>
<text transform="translate(578.7 843.5) scale(0.960 1)" font-size="34.0" fill="#000">P</text>
<text transform="translate(746.7 826.4) scale(0.985 1)" font-size="34.0" fill="#000">KIP.60</text>
<text class="s" x="577.2" y="920.9" font-size="26.8" fill="#000" textLength="101.0" lengthAdjust="spacingAndGlyphs">SNR=1.9</text>
<text class="s" x="745.6" y="923.0" font-size="30.5" fill="#000" textLength="130.1" lengthAdjust="spacingAndGlyphs">138°, 37°</text>
<rect x="1004.2" y="779.0" width="350.2" height="158.0" fill="none" stroke="#484848" stroke-width="2.6"/>
<path d="M1048.0 937.0v-4.6M1048.0 779.0v4.6M1135.8 937.0v-4.6M1135.8 779.0v4.6M1223.6 937.0v-4.6M1223.6 779.0v4.6M1311.4 937.0v-4.6M1311.4 779.0v4.6M1004.2 791.5h4.6M1354.4 791.5h-4.6M1004.2 844.8h4.6M1354.4 844.8h-4.6M1004.2 898.0h4.6M1354.4 898.0h-4.6" stroke="#484848" stroke-width="2.4" fill="none"/>
<text transform="translate(1044.6 978.4) scale(0.975 1)" font-size="34.4" fill="#5e5e5e" text-anchor="middle">0</text>
<text transform="translate(1130.8 978.4) scale(0.975 1)" font-size="34.4" fill="#5e5e5e" text-anchor="middle">20</text>
<text transform="translate(1218.6 978.4) scale(0.975 1)" font-size="34.4" fill="#5e5e5e" text-anchor="middle">40</text>
<text transform="translate(1306.4 978.4) scale(0.975 1)" font-size="34.4" fill="#5e5e5e" text-anchor="middle">60</text>
<text transform="translate(971.8 804.4) scale(0.975 1)" font-size="34.4" fill="#404040">5</text>
<text transform="translate(971.8 857.7) scale(0.975 1)" font-size="34.4" fill="#404040">0</text>
<text transform="translate(963.9 910.9) scale(0.975 1)" font-size="34.4" fill="#404040">-5</text>
<path d="M1009.0 754.3l16.2 16.2m0 -16.2l-16.2 16.2" stroke="#404040" stroke-width="2.3" fill="none"/>
<text transform="translate(1034.8 771.5) scale(0.955 1)" font-size="33.8" fill="#404040">10</text>
<text x="1080.6" y="754.0" font-size="25.6" fill="#404040">-8</text>
<g clip-path="url(#c32)" fill="none" stroke-width="8.2" stroke-linejoin="round">
<path d="M1044.4 844.6C1045.0 846.4 1046.4 852.3 1047.7 855.3C1048.9 858.4 1050.3 861.2 1051.9 862.8C1053.5 864.4 1055.3 865.5 1057.3 864.9C1059.2 864.4 1061.2 862.3 1063.7 859.6C1066.2 856.9 1069.1 852.3 1072.3 848.9C1075.5 845.5 1079.8 842.1 1083.0 839.3C1086.2 836.4 1089.2 834.1 1091.5 831.8C1093.9 829.5 1095.3 826.7 1096.9 825.4C1098.5 824.0 1099.6 823.3 1101.2 823.7C1102.8 824.0 1104.7 824.4 1106.5 827.5C1108.3 830.7 1110.1 837.2 1111.9 842.5C1113.7 847.8 1115.6 855.7 1117.2 859.6C1118.8 863.5 1120.3 864.9 1121.5 866.0C1122.8 867.2 1123.5 867.5 1124.7 866.4C1126.0 865.4 1127.4 864.0 1129.0 859.6C1130.6 855.3 1132.4 846.8 1134.3 840.4C1136.3 833.9 1138.6 826.5 1140.8 821.1C1142.9 815.8 1145.2 811.1 1147.2 808.3C1149.2 805.4 1150.6 804.0 1152.5 804.0C1154.5 804.0 1156.6 804.7 1159.0 808.3C1161.3 811.9 1164.1 818.3 1166.5 825.4C1168.8 832.5 1170.7 841.1 1172.9 851.1C1175.0 861.0 1177.2 874.6 1179.3 885.3C1181.4 895.9 1183.9 908.2 1185.7 915.2C1187.5 922.1 1188.8 924.6 1190.0 927.0C1191.3 929.3 1192.0 929.6 1193.2 929.1C1194.5 928.6 1195.9 928.9 1197.5 923.7C1199.1 918.6 1201.1 907.4 1202.8 898.1C1204.6 888.8 1206.4 876.7 1208.2 868.2C1210.0 859.6 1211.8 851.9 1213.5 846.8C1215.3 841.6 1216.8 839.1 1218.9 837.2C1221.0 835.2 1223.7 835.4 1226.4 835.0C1229.1 834.7 1232.1 835.0 1235.0 835.0C1237.8 835.0 1240.7 835.6 1243.5 835.0C1246.4 834.5 1249.2 834.1 1252.1 831.8C1254.9 829.5 1258.1 825.4 1260.6 821.1C1263.1 816.8 1264.9 811.1 1267.1 806.2C1269.2 801.2 1271.7 794.6 1273.5 791.2C1275.3 787.8 1276.3 786.9 1277.8 785.8C1279.2 784.8 1280.4 784.2 1282.0 784.8C1283.7 785.3 1285.3 785.1 1287.4 789.0C1289.5 793.0 1292.2 800.8 1294.9 808.3C1297.6 815.8 1300.6 825.4 1303.5 833.9C1306.3 842.5 1309.2 852.3 1312.0 859.6C1314.9 866.9 1318.1 873.5 1320.6 877.8C1323.1 882.1 1325.2 883.8 1327.0 885.3C1328.8 886.7 1329.5 887.0 1331.3 886.3C1333.1 885.6 1335.2 882.9 1337.7 881.0C1340.2 879.0 1343.5 877.1 1346.3 874.6C1349.0 872.1 1353.0 867.4 1354.4 866.0" stroke="#656565"/>
<path d="M1004.2 844.6C1014.1 844.6 1052.0 844.3 1063.7 844.6C1074.4 845.0 1070.8 845.7 1074.4 846.8C1078.0 847.8 1081.5 849.9 1085.1 851.1C1088.7 852.2 1092.2 853.1 1095.8 853.6C1099.4 854.2 1103.5 854.5 1106.5 854.3C1109.6 854.0 1111.9 853.7 1114.0 852.1C1116.2 850.5 1117.4 848.7 1119.4 844.6C1121.3 840.5 1123.6 833.2 1125.8 827.5C1127.9 821.8 1130.1 815.2 1132.2 810.4C1134.3 805.6 1136.5 801.7 1138.6 798.7C1140.8 795.6 1143.3 793.6 1145.1 792.3C1146.8 790.9 1147.5 790.4 1149.3 790.8C1151.1 791.1 1153.6 791.5 1155.8 794.4C1157.9 797.3 1160.0 802.1 1162.2 808.3C1164.3 814.5 1166.5 822.9 1168.6 831.8C1170.7 840.7 1172.9 852.1 1175.0 861.7C1177.2 871.4 1179.5 882.4 1181.4 889.5C1183.4 896.7 1185.2 901.2 1186.8 904.5C1188.4 907.8 1189.5 908.8 1191.1 909.2C1192.7 909.6 1194.1 908.8 1196.4 906.6C1198.7 904.4 1202.1 899.5 1205.0 895.9C1207.8 892.4 1210.7 889.5 1213.5 885.3C1216.4 881.0 1219.3 875.3 1222.1 870.3C1225.0 865.3 1227.8 859.6 1230.7 855.3C1233.5 851.1 1236.4 847.8 1239.2 844.6C1242.1 841.4 1244.9 838.8 1247.8 836.1C1250.7 833.4 1253.2 830.6 1256.4 828.6C1259.6 826.6 1263.5 825.4 1267.1 824.3C1270.6 823.3 1274.2 822.5 1277.8 822.2C1281.3 821.8 1284.2 821.8 1288.5 822.2C1292.8 822.5 1298.1 823.1 1303.5 824.3C1308.8 825.6 1314.9 827.9 1320.6 829.7C1326.3 831.5 1332.1 833.1 1337.7 835.0C1343.3 837.0 1351.6 840.4 1354.4 841.4" stroke="#ff0000"/>
</g>
<rect x="1247.9" y="815.1" width="8.5" height="71.2" fill="#0000ff"/>
<text transform="translate(1049.0 827.5) scale(0.960 1)" font-size="34.0" fill="#000">PP</text>
<text transform="translate(1215.4 815.7) scale(0.985 1)" font-size="34.0" fill="#000">MATO.00</text>
<text class="s" x="1047.5" y="910.8" font-size="26.8" fill="#000" textLength="82.0" lengthAdjust="spacingAndGlyphs">SNR=3</text>
<text class="s" x="1214.3" y="913.0" font-size="30.5" fill="#000" textLength="130.1" lengthAdjust="spacingAndGlyphs">71°, 124°</text>
<rect x="1471.0" y="779.0" width="354.4" height="158.0" fill="none" stroke="#484848" stroke-width="2.6"/>
<path d="M1515.2 937.0v-4.6M1515.2 779.0v4.6M1604.0 937.0v-4.6M1604.0 779.0v4.6M1692.7 937.0v-4.6M1692.7 779.0v4.6M1781.5 937.0v-4.6M1781.5 779.0v4.6M1471.0 813.7h4.6M1825.4 813.7h-4.6M1471.0 868.5h4.6M1825.4 868.5h-4.6M1471.0 923.4h4.6M1825.4 923.4h-4.6" stroke="#484848" stroke-width="2.4" fill="none"/>
<text transform="translate(1511.8 978.4) scale(0.975 1)" font-size="34.4" fill="#5e5e5e" text-anchor="middle">0</text>
<text transform="translate(1599.0 978.4) scale(0.975 1)" font-size="34.4" fill="#5e5e5e" text-anchor="middle">20</text>
<text transform="translate(1687.7 978.4) scale(0.975 1)" font-size="34.4" fill="#5e5e5e" text-anchor="middle">40</text>
<text transform="translate(1776.5 978.4) scale(0.975 1)" font-size="34.4" fill="#5e5e5e" text-anchor="middle">60</text>
<text transform="translate(1438.6 826.6) scale(0.975 1)" font-size="34.4" fill="#404040">1</text>
<text transform="translate(1438.6 881.4) scale(0.975 1)" font-size="34.4" fill="#404040">0</text>
<text transform="translate(1430.7 936.3) scale(0.975 1)" font-size="34.4" fill="#404040">-1</text>
<path d="M1475.8 754.3l16.2 16.2m0 -16.2l-16.2 16.2" stroke="#404040" stroke-width="2.3" fill="none"/>
<text transform="translate(1501.6 771.5) scale(0.955 1)" font-size="33.8" fill="#404040">10</text>
<text x="1547.4" y="754.0" font-size="25.6" fill="#404040">-7</text>
<g clip-path="url(#c33)" fill="none" stroke-width="8.2" stroke-linejoin="round">
<path d="M1511.1 868.6C1511.4 866.4 1512.1 859.0 1513.2 855.3C1514.3 851.7 1515.5 847.7 1517.5 846.8C1519.5 845.9 1522.0 847.8 1525.0 850.0C1528.0 852.1 1532.1 855.9 1535.7 859.6C1539.3 863.3 1542.9 868.5 1546.4 872.4C1550.0 876.4 1553.6 879.9 1557.1 883.1C1560.7 886.3 1564.6 889.2 1567.8 891.7C1571.1 894.2 1574.1 896.7 1576.4 898.1C1578.7 899.4 1579.8 900.3 1581.8 899.8C1583.7 899.3 1585.9 898.0 1588.2 894.9C1590.5 891.7 1593.0 886.2 1595.7 881.0C1598.4 875.8 1601.4 868.3 1604.3 863.9C1607.1 859.4 1610.3 856.4 1612.8 854.3C1615.3 852.1 1617.1 851.6 1619.3 851.1C1621.4 850.5 1623.6 850.3 1625.7 851.1C1627.8 851.8 1630.0 851.8 1632.1 855.3C1634.3 858.9 1636.4 865.3 1638.6 872.4C1640.7 879.6 1642.8 890.2 1645.0 898.1C1647.1 905.9 1649.3 914.3 1651.4 919.5C1653.6 924.6 1656.2 927.3 1657.8 929.1C1659.4 930.9 1659.6 931.4 1661.1 930.2C1662.5 928.9 1664.4 927.7 1666.4 921.6C1668.4 915.5 1670.7 904.1 1672.8 893.8C1675.0 883.5 1677.1 870.6 1679.3 859.6C1681.4 848.6 1683.6 836.4 1685.7 827.5C1687.8 818.6 1690.0 811.9 1692.1 806.2C1694.3 800.5 1696.4 796.4 1698.6 793.3C1700.7 790.3 1703.4 789.0 1705.0 788.0C1706.6 786.9 1706.6 786.4 1708.2 786.9C1709.8 787.4 1712.3 788.0 1714.6 791.2C1716.9 794.4 1719.4 800.1 1722.1 806.2C1724.8 812.2 1727.8 820.4 1730.7 827.5C1733.6 834.7 1736.4 842.5 1739.3 848.9C1742.1 855.3 1745.0 860.7 1747.8 866.0C1750.7 871.4 1753.2 876.4 1756.4 881.0C1759.6 885.6 1763.5 890.4 1767.1 893.8C1770.7 897.2 1774.3 899.7 1777.8 901.3C1781.4 902.9 1785.0 903.6 1788.5 903.4C1792.1 903.3 1795.7 902.2 1799.3 900.2C1802.8 898.3 1806.8 894.5 1810.0 891.7C1813.2 888.8 1816.0 886.0 1818.5 883.1C1821.1 880.3 1824.3 876.0 1825.4 874.6" stroke="#656565"/>
<path d="M1471.0 868.6C1479.6 868.6 1511.4 868.4 1522.9 868.6C1534.4 868.8 1534.3 869.4 1540.0 869.9C1545.7 870.3 1551.8 871.5 1557.1 871.4C1562.5 871.3 1567.8 870.3 1572.1 869.2C1576.4 868.2 1579.6 866.9 1582.8 864.9C1586.1 863.0 1588.6 859.8 1591.4 857.5C1594.3 855.1 1597.1 852.7 1600.0 851.1C1602.8 849.4 1606.2 848.4 1608.6 847.8C1610.9 847.3 1611.8 847.3 1613.9 847.8C1616.1 848.4 1618.7 848.7 1621.4 851.1C1624.1 853.4 1627.1 857.5 1630.0 861.7C1632.8 866.0 1635.7 871.9 1638.6 876.7C1641.4 881.5 1644.6 887.3 1647.1 890.6C1649.6 893.9 1651.6 895.2 1653.6 896.4C1655.5 897.6 1656.8 898.1 1658.9 897.7C1661.1 897.2 1663.4 895.7 1666.4 893.8C1669.4 891.9 1673.2 889.2 1677.1 886.3C1681.1 883.5 1685.7 879.7 1690.0 876.7C1694.3 873.7 1698.6 870.5 1702.8 868.2C1707.1 865.8 1711.4 864.2 1715.7 862.8C1720.0 861.4 1724.3 860.4 1728.6 859.6C1732.8 858.8 1737.1 858.2 1741.4 857.9C1745.7 857.5 1749.3 857.4 1754.3 857.5C1759.3 857.6 1765.7 857.9 1771.4 858.5C1777.1 859.2 1782.8 860.4 1788.5 861.3C1794.3 862.2 1799.5 862.7 1805.7 863.9C1811.8 865.0 1822.1 867.4 1825.4 868.2" stroke="#ff0000"/>
</g>
<rect x="1717.3" y="828.0" width="8.5" height="71.6" fill="#0000ff"/>
<text transform="translate(1516.2 840.3) scale(0.960 1)" font-size="34.0" fill="#000">PP</text>
<text transform="translate(1684.4 824.7) scale(0.985 1)" font-size="34.0" fill="#000">MPG.00</text>
<text class="s" x="1514.7" y="919.4" font-size="26.8" fill="#000" textLength="82.0" lengthAdjust="spacingAndGlyphs">SNR=2</text>
<text class="s" x="1683.3" y="920.9" font-size="30.5" fill="#000" textLength="130.1" lengthAdjust="spacingAndGlyphs">53°, 109°</text>
<rect x="1941.5" y="779.0" width="350.7" height="158.0" fill="none" stroke="#484848" stroke-width="2.6"/>
<path d="M1985.7 937.0v-4.6M1985.7 779.0v4.6M2073.4 937.0v-4.6M2073.4 779.0v4.6M2161.0 937.0v-4.6M2161.0 779.0v4.6M2248.7 937.0v-4.6M2248.7 779.0v4.6M1941.5 810.6h4.6M2292.2 810.6h-4.6M1941.5 868.3h4.6M2292.2 868.3h-4.6M1941.5 926.0h4.6M2292.2 926.0h-4.6" stroke="#484848" stroke-width="2.4" fill="none"/>
<text transform="translate(1982.3 978.4) scale(0.975 1)" font-size="34.4" fill="#5e5e5e" text-anchor="middle">0</text>
<text transform="translate(2068.4 978.4) scale(0.975 1)" font-size="34.4" fill="#5e5e5e" text-anchor="middle">20</text>
<text transform="translate(2156.0 978.4) scale(0.975 1)" font-size="34.4" fill="#5e5e5e" text-anchor="middle">40</text>
<text transform="translate(2243.7 978.4) scale(0.975 1)" font-size="34.4" fill="#5e5e5e" text-anchor="middle">60</text>
<text transform="translate(1909.1 823.5) scale(0.975 1)" font-size="34.4" fill="#404040">5</text>
<text transform="translate(1909.1 881.2) scale(0.975 1)" font-size="34.4" fill="#404040">0</text>
<text transform="translate(1901.2 938.9) scale(0.975 1)" font-size="34.4" fill="#404040">-5</text>
<path d="M1946.3 754.3l16.2 16.2m0 -16.2l-16.2 16.2" stroke="#404040" stroke-width="2.3" fill="none"/>
<text transform="translate(1972.1 771.5) scale(0.955 1)" font-size="33.8" fill="#404040">10</text>
<text x="2017.9" y="754.0" font-size="25.6" fill="#404040">-8</text>
<g clip-path="url(#c34)" fill="none" stroke-width="8.2" stroke-linejoin="round">
<path d="M1980.4 868.6C1980.8 872.1 1981.4 882.2 1982.6 889.5C1983.7 896.9 1986.1 910.5 1987.5 912.6C1988.9 914.8 1989.8 907.6 1991.1 902.4C1992.4 897.1 1994.0 887.0 1995.4 881.0C1996.8 874.9 1998.4 868.9 1999.7 866.0C2000.9 863.1 2001.4 862.7 2002.9 863.5C2004.3 864.2 2006.1 868.4 2008.2 870.3C2010.4 872.1 2013.4 872.1 2015.7 874.6C2018.0 877.1 2020.0 882.2 2022.1 885.3C2024.3 888.3 2026.8 892.4 2028.5 892.7C2030.3 893.1 2031.4 888.6 2032.8 887.4C2034.2 886.2 2035.5 884.5 2037.1 885.3C2038.7 886.0 2040.7 888.8 2042.4 891.7C2044.2 894.5 2046.2 899.9 2047.8 902.4C2049.4 904.9 2050.5 907.4 2052.1 906.6C2053.7 905.9 2055.4 902.0 2057.4 898.1C2059.4 894.2 2061.3 888.5 2063.8 883.1C2066.3 877.8 2069.9 872.4 2072.4 866.0C2074.9 859.6 2076.6 849.3 2078.8 844.6C2080.9 840.0 2083.2 838.4 2085.2 838.2C2087.2 838.0 2088.8 842.9 2090.5 843.6C2092.3 844.3 2094.1 844.3 2095.9 842.5C2097.7 840.7 2099.5 833.9 2101.2 832.9C2103.0 831.8 2104.8 832.3 2106.6 836.1C2108.4 839.8 2110.1 847.1 2111.9 855.3C2113.7 863.5 2115.7 876.4 2117.3 885.3C2118.9 894.2 2120.1 903.1 2121.6 908.8C2123.0 914.5 2124.2 919.8 2125.8 919.5C2127.4 919.1 2129.2 913.8 2131.2 906.6C2133.1 899.5 2135.8 884.2 2137.6 876.7C2139.4 869.2 2140.6 864.8 2141.9 861.7C2143.1 858.7 2143.7 857.8 2145.1 858.5C2146.5 859.2 2148.8 863.7 2150.4 866.0C2152.0 868.3 2153.1 873.5 2154.7 872.4C2156.3 871.4 2158.4 863.5 2160.0 859.6C2161.6 855.7 2162.7 850.9 2164.3 848.9C2165.9 847.0 2168.1 845.4 2169.7 847.8C2171.3 850.3 2172.3 855.5 2173.9 863.9C2175.5 872.3 2177.5 888.1 2179.3 898.1C2181.1 908.1 2182.9 918.0 2184.6 923.7C2186.4 929.4 2188.2 933.4 2190.0 932.3C2191.8 931.2 2193.5 927.0 2195.3 917.3C2197.1 907.7 2198.9 889.5 2200.7 874.6C2202.5 859.6 2204.4 840.4 2206.0 827.5C2207.6 814.7 2208.9 804.4 2210.3 797.6C2211.7 790.8 2213.0 787.6 2214.6 786.9C2216.2 786.2 2218.1 787.6 2219.9 793.3C2221.7 799.0 2223.5 812.9 2225.3 821.1C2227.0 829.3 2228.7 836.1 2230.6 842.5C2232.6 848.9 2234.9 851.8 2237.0 859.6C2239.2 867.4 2241.3 879.6 2243.4 889.5C2245.6 899.5 2248.1 912.9 2249.9 919.5C2251.6 926.1 2252.5 929.4 2254.1 929.1C2255.7 928.7 2257.5 924.6 2259.5 917.3C2261.4 910.0 2263.8 897.0 2265.9 885.3C2268.0 873.5 2270.2 858.2 2272.3 846.8C2274.5 835.4 2276.8 823.3 2278.7 816.8C2280.7 810.4 2282.6 808.6 2284.1 808.3C2285.5 807.9 2285.9 808.3 2287.3 814.7C2288.6 821.1 2291.4 841.4 2292.2 846.8" stroke="#656565"/>
<path d="M1941.5 868.6C1952.6 868.6 1994.2 868.4 2008.2 868.6C2022.2 868.8 2020.3 869.5 2025.3 869.9C2030.3 870.2 2033.2 870.9 2038.2 870.7C2043.1 870.5 2050.6 869.5 2055.3 868.6C2059.9 867.6 2062.4 866.4 2066.0 864.9C2069.5 863.5 2073.1 860.8 2076.6 859.6C2080.2 858.4 2083.8 857.7 2087.3 857.9C2090.9 858.1 2094.5 858.8 2098.0 860.7C2101.6 862.6 2105.5 866.4 2108.7 869.2C2111.9 872.1 2114.4 875.5 2117.3 877.8C2120.1 880.1 2123.5 882.2 2125.8 883.1C2128.1 884.1 2129.0 884.1 2131.2 883.5C2133.3 883.0 2136.0 881.8 2138.7 879.9C2141.3 878.1 2144.0 874.4 2147.2 872.4C2150.4 870.5 2154.0 869.4 2157.9 868.2C2161.8 866.9 2165.7 865.7 2170.7 864.9C2175.7 864.2 2182.1 863.6 2187.8 863.5C2193.5 863.3 2198.5 863.5 2205.0 863.9C2211.4 864.2 2219.2 865.1 2226.3 865.6C2233.5 866.1 2240.6 866.7 2247.7 867.1C2254.8 867.5 2261.7 867.9 2269.1 868.2C2276.5 868.4 2288.4 868.5 2292.2 868.6" stroke="#ff0000"/>
</g>
<rect x="2185.3" y="828.0" width="8.5" height="71.6" fill="#0000ff"/>
<text transform="translate(1986.7 840.3) scale(0.960 1)" font-size="34.0" fill="#000">P</text>
<text transform="translate(2152.8 824.3) scale(0.985 1)" font-size="34.0" fill="#000">NOUC.00</text>
<text class="s" x="1985.2" y="919.4" font-size="26.8" fill="#000" textLength="101.0" lengthAdjust="spacingAndGlyphs">SNR=0.9</text>
<text class="s" x="2151.7" y="920.9" font-size="30.5" fill="#000" textLength="130.1" lengthAdjust="spacingAndGlyphs">190°, 75°</text>
<rect x="66.7" y="1024.9" width="350.2" height="157.2" fill="none" stroke="#484848" stroke-width="2.6"/>
<path d="M110.6 1182.1v-4.6M110.6 1024.9v4.6M198.3 1182.1v-4.6M198.3 1024.9v4.6M286.0 1182.1v-4.6M286.0 1024.9v4.6M373.7 1182.1v-4.6M373.7 1024.9v4.6M66.7 1055.4h4.6M416.9 1055.4h-4.6M66.7 1089.1h4.6M416.9 1089.1h-4.6M66.7 1122.9h4.6M416.9 1122.9h-4.6M66.7 1156.7h4.6M416.9 1156.7h-4.6" stroke="#484848" stroke-width="2.4" fill="none"/>
<text transform="translate(107.2 1223.5) scale(0.975 1)" font-size="34.4" fill="#5e5e5e" text-anchor="middle">0</text>
<text transform="translate(193.3 1223.5) scale(0.975 1)" font-size="34.4" fill="#5e5e5e" text-anchor="middle">20</text>
<text transform="translate(281.0 1223.5) scale(0.975 1)" font-size="34.4" fill="#5e5e5e" text-anchor="middle">40</text>
<text transform="translate(368.7 1223.5) scale(0.975 1)" font-size="34.4" fill="#5e5e5e" text-anchor="middle">60</text>
<text transform="translate(34.3 1068.3) scale(0.975 1)" font-size="34.4" fill="#404040">4</text>
<text transform="translate(34.3 1102.0) scale(0.975 1)" font-size="34.4" fill="#404040">2</text>
<text transform="translate(34.3 1135.8) scale(0.975 1)" font-size="34.4" fill="#404040">0</text>
<text transform="translate(26.4 1169.6) scale(0.975 1)" font-size="34.4" fill="#404040">-2</text>
<path d="M71.5 1000.2l16.2 16.2m0 -16.2l-16.2 16.2" stroke="#404040" stroke-width="2.3" fill="none"/>
<text transform="translate(97.3 1017.4) scale(0.955 1)" font-size="33.8" fill="#404040">10</text>
<text x="143.1" y="999.9" font-size="25.6" fill="#404040">-8</text>
<g clip-path="url(#c40)" fill="none" stroke-width="8.2" stroke-linejoin="round">
<path d="M106.8 1123.0C107.4 1124.9 108.8 1131.0 110.0 1134.1C111.3 1137.2 112.9 1140.3 114.3 1141.6C115.7 1142.8 117.2 1140.0 118.6 1141.6C120.0 1143.2 121.4 1147.1 122.9 1151.2C124.3 1155.3 126.1 1163.3 127.1 1166.1C128.2 1168.9 128.0 1168.9 129.3 1168.2C130.5 1167.5 133.0 1166.1 134.6 1161.8C136.2 1157.6 137.5 1149.7 138.9 1142.6C140.3 1135.5 141.5 1124.5 143.1 1119.2C144.7 1113.8 146.5 1110.6 148.5 1110.6C150.4 1110.6 152.4 1115.3 154.9 1119.2C157.4 1123.1 160.6 1130.2 163.4 1134.1C166.3 1138.0 169.1 1140.5 172.0 1142.6C174.8 1144.8 177.7 1146.4 180.5 1146.9C183.4 1147.4 186.2 1145.8 189.1 1145.8C191.9 1145.8 195.5 1146.0 197.6 1146.9C199.7 1147.8 200.4 1151.2 201.9 1151.2C203.3 1151.2 204.5 1151.2 206.1 1146.9C207.7 1142.6 209.7 1133.4 211.5 1125.6C213.3 1117.8 215.0 1107.1 216.8 1100.0C218.6 1092.9 220.6 1086.1 222.2 1082.9C223.8 1079.7 224.8 1079.7 226.4 1080.8C228.0 1081.9 229.8 1084.7 231.8 1089.3C233.7 1093.9 236.0 1102.1 238.2 1108.5C240.3 1114.9 242.4 1122.4 244.6 1127.7C246.7 1133.0 249.0 1138.2 251.0 1140.5C252.9 1142.8 254.7 1141.9 256.3 1141.6C257.9 1141.2 259.0 1138.4 260.6 1138.4C262.2 1138.4 264.2 1140.7 265.9 1141.6C267.7 1142.5 269.7 1145.0 271.3 1143.7C272.9 1142.5 273.9 1139.3 275.5 1134.1C277.1 1129.0 279.1 1118.1 280.9 1112.8C282.7 1107.4 284.6 1104.1 286.2 1102.1C287.8 1100.2 288.9 1100.3 290.5 1101.0C292.1 1101.8 293.9 1104.8 295.8 1106.4C297.8 1108.0 300.1 1109.2 302.2 1110.6C304.4 1112.1 306.6 1112.4 308.6 1114.9C310.7 1117.4 312.5 1123.4 314.6 1125.6C316.8 1127.7 319.6 1129.1 321.4 1127.7C323.3 1126.3 323.9 1122.4 325.7 1117.0C327.5 1111.7 330.0 1102.1 332.1 1095.7C334.3 1089.3 336.4 1083.1 338.5 1078.7C340.7 1074.2 342.8 1071.2 344.9 1069.1C347.1 1066.9 349.6 1066.4 351.3 1065.9C353.1 1065.3 353.8 1065.1 355.6 1065.9C357.4 1066.6 359.9 1066.9 362.0 1070.1C364.2 1073.3 366.5 1079.0 368.4 1085.0C370.4 1091.1 372.0 1100.5 373.8 1106.4C375.5 1112.2 377.3 1118.5 379.1 1120.2C380.9 1122.0 382.8 1118.3 384.4 1117.0C386.0 1115.8 387.1 1112.4 388.7 1112.8C390.3 1113.1 391.7 1115.6 394.1 1119.2C396.4 1122.7 399.7 1130.2 402.6 1134.1C405.4 1138.0 408.8 1140.9 411.1 1142.6C413.5 1144.4 415.9 1144.4 416.9 1144.8" stroke="#656565"/>
<path d="M66.7 1123.0C72.9 1123.0 94.6 1123.3 103.6 1123.0C112.6 1122.7 115.7 1122.0 120.7 1121.3C125.7 1120.6 130.3 1119.3 133.5 1118.8C136.7 1118.2 137.8 1117.5 139.9 1118.1C142.1 1118.7 143.5 1120.1 146.3 1122.4C149.2 1124.7 153.5 1128.6 157.0 1132.0C160.6 1135.4 164.5 1138.9 167.7 1142.6C170.9 1146.4 173.8 1151.7 176.2 1154.4C178.7 1157.0 180.5 1159.2 182.7 1158.6C184.8 1158.1 186.9 1156.0 189.1 1151.2C191.2 1146.4 193.3 1137.7 195.5 1129.8C197.6 1122.0 199.7 1113.1 201.9 1104.2C204.0 1095.4 206.1 1085.0 208.3 1076.5C210.4 1068.0 212.5 1059.5 214.7 1053.1C216.8 1046.7 219.1 1041.5 221.1 1038.1C223.0 1034.7 224.6 1032.4 226.4 1032.8C228.2 1033.1 229.8 1034.0 231.8 1040.3C233.7 1046.5 236.0 1058.7 238.2 1070.1C240.3 1081.5 242.6 1096.4 244.6 1108.5C246.5 1120.6 248.3 1133.0 249.9 1142.6C251.5 1152.2 252.6 1160.6 254.2 1166.1C255.8 1171.6 258.1 1173.9 259.5 1175.7C260.9 1177.5 260.9 1177.1 262.7 1176.8C264.5 1176.4 267.5 1174.2 270.2 1173.6C272.9 1172.9 276.3 1173.5 278.7 1172.9C281.2 1172.4 283.0 1172.6 285.1 1170.4C287.3 1168.2 289.1 1164.0 291.6 1159.7C294.0 1155.4 297.2 1149.0 300.1 1144.8C302.9 1140.5 305.8 1137.3 308.6 1134.1C311.5 1130.9 314.3 1128.1 317.2 1125.6C320.0 1123.1 322.2 1121.1 325.7 1119.2C329.3 1117.2 334.3 1115.4 338.5 1113.8C342.8 1112.2 347.1 1110.6 351.3 1109.6C355.6 1108.5 359.2 1107.9 364.2 1107.4C369.1 1107.0 375.5 1106.6 381.2 1106.8C386.9 1107.0 392.4 1107.5 398.3 1108.5C404.3 1109.5 413.8 1112.1 416.9 1112.8" stroke="#ff0000"/>
</g>
<rect x="310.2" y="1078.7" width="8.5" height="71.0" fill="#0000ff"/>
<text transform="translate(111.6 1090.3) scale(0.960 1)" font-size="34.0" fill="#000">PP</text>
<text transform="translate(277.8 1073.3) scale(0.985 1)" font-size="34.0" fill="#000">PEL.00</text>
<text class="s" x="110.1" y="1167.1" font-size="26.8" fill="#000" textLength="101.0" lengthAdjust="spacingAndGlyphs">SNR=1.5</text>
<text class="s" x="276.7" y="1169.2" font-size="30.5" fill="#000" textLength="130.1" lengthAdjust="spacingAndGlyphs">96°, 129°</text>
<rect x="533.3" y="1024.9" width="354.6" height="157.2" fill="none" stroke="#484848" stroke-width="2.6"/>
<path d="M577.7 1182.1v-4.6M577.7 1024.9v4.6M666.4 1182.1v-4.6M666.4 1024.9v4.6M755.0 1182.1v-4.6M755.0 1024.9v4.6M843.7 1182.1v-4.6M843.7 1024.9v4.6M533.3 1044.1h4.6M887.9 1044.1h-4.6M533.3 1106.7h4.6M887.9 1106.7h-4.6M533.3 1169.3h4.6M887.9 1169.3h-4.6" stroke="#484848" stroke-width="2.4" fill="none"/>
<text transform="translate(574.3 1223.5) scale(0.975 1)" font-size="34.4" fill="#5e5e5e" text-anchor="middle">0</text>
<text transform="translate(661.4 1223.5) scale(0.975 1)" font-size="34.4" fill="#5e5e5e" text-anchor="middle">20</text>
<text transform="translate(750.0 1223.5) scale(0.975 1)" font-size="34.4" fill="#5e5e5e" text-anchor="middle">40</text>
<text transform="translate(838.7 1223.5) scale(0.975 1)" font-size="34.4" fill="#5e5e5e" text-anchor="middle">60</text>
<text transform="translate(500.9 1057.0) scale(0.975 1)" font-size="34.4" fill="#404040">1</text>
<text transform="translate(500.9 1119.6) scale(0.975 1)" font-size="34.4" fill="#404040">0</text>
<text transform="translate(493.0 1182.2) scale(0.975 1)" font-size="34.4" fill="#404040">-1</text>
<path d="M538.1 1000.2l16.2 16.2m0 -16.2l-16.2 16.2" stroke="#404040" stroke-width="2.3" fill="none"/>
<text transform="translate(563.9 1017.4) scale(0.955 1)" font-size="33.8" fill="#404040">10</text>
<text x="609.7" y="999.9" font-size="25.6" fill="#404040">-7</text>
<g clip-path="url(#c41)" fill="none" stroke-width="8.2" stroke-linejoin="round">
<path d="M571.9 1106.8C572.4 1109.9 573.8 1117.5 575.1 1125.6C576.3 1133.7 577.9 1147.8 579.4 1155.4C580.8 1163.1 582.6 1168.6 583.7 1171.4C584.7 1174.3 584.9 1175.2 585.8 1172.5C586.7 1169.8 587.9 1165.4 589.0 1155.4C590.1 1145.5 591.2 1126.3 592.2 1112.8C593.3 1099.3 594.4 1083.3 595.4 1074.4C596.5 1065.5 597.8 1062.3 598.6 1059.5C599.5 1056.6 599.9 1056.3 600.8 1057.3C601.7 1058.4 602.8 1060.2 604.0 1065.9C605.3 1071.5 606.9 1083.6 608.3 1091.4C609.7 1099.3 611.3 1108.7 612.6 1112.8C613.8 1116.9 614.7 1116.7 615.8 1116.0C616.9 1115.3 617.8 1111.9 619.0 1108.5C620.3 1105.1 621.9 1098.6 623.3 1095.7C624.7 1092.9 626.3 1092.2 627.6 1091.4C628.8 1090.7 629.5 1090.0 630.8 1091.4C632.0 1092.9 633.5 1094.3 635.1 1100.0C636.7 1105.7 638.6 1117.8 640.4 1125.6C642.2 1133.4 644.3 1142.6 645.8 1146.9C647.3 1151.2 648.4 1152.6 649.6 1151.2C650.9 1149.7 652.1 1144.8 653.3 1138.4C654.4 1132.0 655.4 1119.5 656.5 1112.8C657.6 1106.0 658.8 1100.5 659.7 1097.8C660.6 1095.2 661.0 1095.7 661.9 1096.8C662.7 1097.8 663.8 1100.2 665.1 1104.2C666.3 1108.3 667.7 1117.0 669.4 1121.3C671.0 1125.6 673.1 1131.3 674.7 1129.8C676.3 1128.4 677.7 1121.3 679.0 1112.8C680.2 1104.2 681.1 1090.0 682.2 1078.7C683.3 1067.3 684.4 1052.3 685.4 1044.5C686.5 1036.7 687.7 1034.0 688.6 1031.7C689.5 1029.4 689.9 1028.9 690.8 1030.7C691.7 1032.4 692.7 1035.5 694.0 1042.4C695.2 1049.3 696.9 1061.9 698.3 1072.3C699.7 1082.6 701.3 1097.5 702.6 1104.2C703.8 1111.0 704.5 1112.1 705.8 1112.8C707.0 1113.5 708.6 1112.8 710.1 1108.5C711.5 1104.2 712.9 1093.6 714.3 1087.2C715.8 1080.8 717.4 1073.1 718.6 1070.1C719.9 1067.1 721.0 1067.3 721.8 1069.1C722.7 1070.8 723.1 1072.8 724.0 1080.8C724.9 1088.8 726.1 1105.3 727.2 1117.0C728.3 1128.8 729.3 1141.9 730.4 1151.2C731.5 1160.4 732.7 1168.2 733.6 1172.5C734.5 1176.8 734.9 1178.2 735.8 1176.8C736.7 1175.3 737.9 1171.8 739.0 1164.0C740.1 1156.1 741.0 1140.5 742.2 1129.8C743.5 1119.2 745.1 1106.6 746.5 1100.0C747.9 1093.4 749.3 1090.4 750.8 1090.4C752.2 1090.4 753.6 1094.1 755.1 1100.0C756.5 1105.8 757.7 1118.1 759.3 1125.6C761.0 1133.0 763.3 1143.4 764.7 1144.8C766.1 1146.2 766.7 1140.9 767.9 1134.1C769.2 1127.4 770.8 1113.1 772.2 1104.2C773.6 1095.4 775.1 1085.9 776.5 1080.8C777.9 1075.6 779.3 1074.0 780.8 1073.3C782.2 1072.6 783.6 1073.5 785.1 1076.5C786.5 1079.5 787.9 1084.0 789.3 1091.4C790.8 1098.9 792.2 1111.4 793.6 1121.3C795.1 1131.3 796.7 1144.4 797.9 1151.2C799.2 1157.9 800.1 1162.5 801.1 1161.8C802.2 1161.1 803.1 1155.8 804.3 1146.9C805.6 1138.0 807.2 1117.8 808.6 1108.5C810.1 1099.3 811.5 1093.6 812.9 1091.4C814.3 1089.3 815.8 1090.0 817.2 1095.7C818.6 1101.4 819.9 1115.6 821.5 1125.6C823.1 1135.5 825.4 1149.7 826.8 1155.4C828.3 1161.1 828.8 1162.5 830.0 1159.7C831.3 1156.9 832.9 1148.3 834.3 1138.4C835.8 1128.4 837.2 1111.0 838.6 1100.0C840.0 1089.0 841.5 1077.9 842.9 1072.3C844.3 1066.6 845.9 1066.2 847.2 1065.9C848.4 1065.5 849.2 1064.4 850.4 1070.1C851.7 1075.8 853.1 1087.9 854.7 1100.0C856.3 1112.1 858.4 1133.4 860.0 1142.6C861.7 1151.9 862.9 1156.1 864.3 1155.4C865.8 1154.7 867.2 1147.6 868.6 1138.4C870.0 1129.1 871.5 1110.6 872.9 1100.0C874.3 1089.3 875.9 1079.4 877.2 1074.4C878.4 1069.4 879.2 1069.1 880.4 1070.1C881.7 1071.2 883.3 1075.5 884.7 1080.8C886.1 1086.1 888.3 1098.6 889.0 1102.1" stroke="#656565"/>
<path d="M533.3 1106.8C546.7 1106.8 598.8 1106.5 613.6 1106.8C622.2 1107.1 619.0 1107.3 622.2 1108.5C625.4 1109.7 629.4 1112.1 632.9 1113.8C636.5 1115.6 640.1 1117.9 643.6 1119.2C647.2 1120.5 651.5 1121.7 654.4 1121.7C657.2 1121.7 658.6 1121.0 660.8 1119.2C662.9 1117.3 665.1 1114.6 667.2 1110.6C669.4 1106.7 671.5 1101.0 673.6 1095.7C675.8 1090.4 677.9 1083.6 680.1 1078.7C682.2 1073.7 684.4 1069.2 686.5 1065.9C688.6 1062.5 690.8 1060.2 692.9 1058.4C695.1 1056.6 697.2 1055.2 699.4 1055.2C701.5 1055.2 703.6 1055.9 705.8 1058.4C707.9 1060.9 710.1 1065.3 712.2 1070.1C714.3 1074.9 716.5 1080.1 718.6 1087.2C720.8 1094.3 722.9 1105.3 725.1 1112.8C727.2 1120.2 729.5 1127.4 731.5 1132.0C733.5 1136.6 735.2 1138.9 736.8 1140.5C738.5 1142.1 739.2 1141.9 741.1 1141.6C743.1 1141.2 746.0 1139.0 748.6 1138.4C751.3 1137.8 754.3 1138.3 757.2 1137.9C760.1 1137.6 762.9 1137.9 765.8 1136.2C768.6 1134.5 771.5 1130.2 774.3 1127.7C777.2 1125.2 779.7 1123.4 782.9 1121.3C786.1 1119.2 789.7 1117.0 793.6 1114.9C797.6 1112.8 801.8 1110.5 806.5 1108.5C811.1 1106.6 816.5 1104.7 821.5 1103.2C826.5 1101.7 831.1 1100.6 836.5 1099.6C841.8 1098.5 847.9 1097.4 853.6 1096.8C859.3 1096.1 865.0 1095.8 870.8 1095.7C876.5 1095.6 885.0 1096.2 887.9 1096.4" stroke="#ff0000"/>
</g>
<rect x="779.6" y="1069.7" width="8.5" height="71.2" fill="#0000ff"/>
<text transform="translate(578.7 1081.8) scale(0.960 1)" font-size="34.0" fill="#000">P</text>
<text transform="translate(746.7 1066.9) scale(0.985 1)" font-size="34.0" fill="#000">PPTF.00</text>
<text class="s" x="577.2" y="1161.8" font-size="26.8" fill="#000" textLength="101.0" lengthAdjust="spacingAndGlyphs">SNR=1.1</text>
<text class="s" x="745.6" y="1163.9" font-size="30.5" fill="#000" textLength="130.1" lengthAdjust="spacingAndGlyphs">147°, 76°</text>
<rect x="1004.2" y="1024.9" width="350.2" height="157.2" fill="none" stroke="#484848" stroke-width="2.6"/>
<path d="M1048.0 1182.1v-4.6M1048.0 1024.9v4.6M1135.8 1182.1v-4.6M1135.8 1024.9v4.6M1223.6 1182.1v-4.6M1223.6 1024.9v4.6M1311.4 1182.1v-4.6M1311.4 1024.9v4.6M1004.2 1029.5h4.6M1354.4 1029.5h-4.6M1004.2 1062.1h4.6M1354.4 1062.1h-4.6M1004.2 1094.8h4.6M1354.4 1094.8h-4.6M1004.2 1127.5h4.6M1354.4 1127.5h-4.6M1004.2 1160.2h4.6M1354.4 1160.2h-4.6" stroke="#484848" stroke-width="2.4" fill="none"/>
<text transform="translate(1044.6 1223.5) scale(0.975 1)" font-size="34.4" fill="#5e5e5e" text-anchor="middle">0</text>
<text transform="translate(1130.8 1223.5) scale(0.975 1)" font-size="34.4" fill="#5e5e5e" text-anchor="middle">20</text>
<text transform="translate(1218.6 1223.5) scale(0.975 1)" font-size="34.4" fill="#5e5e5e" text-anchor="middle">40</text>
<text transform="translate(1306.4 1223.5) scale(0.975 1)" font-size="34.4" fill="#5e5e5e" text-anchor="middle">60</text>
<text transform="translate(971.8 1042.4) scale(0.975 1)" font-size="34.4" fill="#404040">4</text>
<text transform="translate(971.8 1075.0) scale(0.975 1)" font-size="34.4" fill="#404040">2</text>
<text transform="translate(971.8 1107.7) scale(0.975 1)" font-size="34.4" fill="#404040">0</text>
<text transform="translate(963.9 1140.4) scale(0.975 1)" font-size="34.4" fill="#404040">-2</text>
<text transform="translate(963.9 1173.1) scale(0.975 1)" font-size="34.4" fill="#404040">-4</text>
<path d="M1009.0 1000.2l16.2 16.2m0 -16.2l-16.2 16.2" stroke="#404040" stroke-width="2.3" fill="none"/>
<text transform="translate(1034.8 1017.4) scale(0.955 1)" font-size="33.8" fill="#404040">10</text>
<text x="1080.6" y="999.9" font-size="25.6" fill="#404040">-8</text>
<g clip-path="url(#c42)" fill="none" stroke-width="8.2" stroke-linejoin="round">
<path d="M1044.4 1094.6C1044.8 1092.0 1045.7 1082.7 1046.6 1078.7C1047.5 1074.6 1048.4 1070.1 1049.8 1070.1C1051.2 1070.1 1052.8 1075.8 1055.1 1078.7C1057.5 1081.5 1060.5 1084.7 1063.7 1087.2C1066.9 1089.7 1070.8 1091.6 1074.4 1093.6C1078.0 1095.5 1081.9 1097.1 1085.1 1098.9C1088.3 1100.7 1090.8 1101.9 1093.7 1104.2C1096.5 1106.6 1099.4 1109.6 1102.2 1112.8C1105.1 1116.0 1107.9 1119.9 1110.8 1123.4C1113.7 1127.0 1116.5 1130.9 1119.4 1134.1C1122.2 1137.3 1125.1 1140.3 1127.9 1142.6C1130.8 1145.0 1133.6 1146.7 1136.5 1148.0C1139.3 1149.2 1142.2 1150.1 1145.1 1150.1C1147.9 1150.1 1150.8 1149.2 1153.6 1148.0C1156.5 1146.7 1159.3 1145.1 1162.2 1142.6C1165.0 1140.2 1167.9 1136.6 1170.7 1133.0C1173.6 1129.5 1176.4 1125.4 1179.3 1121.3C1182.2 1117.2 1185.0 1112.8 1187.9 1108.5C1190.7 1104.2 1193.6 1099.6 1196.4 1095.7C1199.3 1091.8 1202.1 1087.9 1205.0 1085.0C1207.8 1082.2 1210.3 1080.4 1213.5 1078.7C1216.8 1076.9 1220.7 1075.8 1224.3 1074.4C1227.8 1073.0 1231.7 1072.1 1235.0 1070.1C1238.2 1068.2 1240.7 1065.5 1243.5 1062.7C1246.4 1059.8 1249.2 1056.4 1252.1 1053.1C1254.9 1049.7 1257.8 1045.6 1260.6 1042.4C1263.5 1039.2 1266.4 1035.7 1269.2 1033.9C1272.1 1032.0 1275.6 1031.7 1277.8 1031.3C1279.9 1030.9 1280.3 1030.7 1282.0 1031.3C1283.8 1031.9 1286.0 1032.4 1288.5 1034.9C1291.0 1037.5 1294.2 1042.4 1297.0 1046.7C1299.9 1050.9 1302.7 1056.8 1305.6 1060.5C1308.4 1064.3 1310.9 1066.7 1314.2 1069.1C1317.4 1071.4 1321.3 1073.0 1324.9 1074.4C1328.4 1075.8 1332.4 1076.5 1335.6 1077.6C1338.8 1078.7 1341.6 1079.5 1344.1 1080.8C1346.6 1082.0 1348.8 1083.8 1350.5 1085.0C1352.3 1086.3 1353.8 1087.7 1354.4 1088.2" stroke="#656565"/>
<path d="M1004.2 1094.6C1009.8 1094.6 1030.2 1094.2 1038.0 1094.6C1045.8 1095.1 1046.9 1096.6 1050.9 1097.4C1054.8 1098.2 1058.7 1099.7 1061.6 1099.6C1064.4 1099.4 1065.5 1098.5 1068.0 1096.8C1070.5 1095.1 1073.7 1091.8 1076.6 1089.3C1079.4 1086.8 1082.3 1085.0 1085.1 1081.9C1088.0 1078.7 1091.0 1073.7 1093.7 1070.1C1096.4 1066.6 1099.0 1062.5 1101.2 1060.5C1103.3 1058.6 1104.7 1058.0 1106.5 1058.4C1108.3 1058.7 1109.7 1058.9 1111.9 1062.7C1114.0 1066.4 1116.7 1072.8 1119.4 1080.8C1122.0 1088.8 1125.1 1100.3 1127.9 1110.6C1130.8 1121.0 1134.0 1133.8 1136.5 1142.6C1139.0 1151.5 1141.1 1159.0 1142.9 1164.0C1144.7 1168.9 1145.9 1170.8 1147.2 1172.5C1148.4 1174.2 1149.2 1174.4 1150.4 1174.2C1151.7 1174.0 1153.1 1175.3 1154.7 1171.4C1156.3 1167.6 1158.1 1160.2 1160.0 1151.2C1162.0 1142.1 1164.3 1128.4 1166.5 1117.0C1168.6 1105.7 1170.7 1091.4 1172.9 1082.9C1175.0 1074.4 1177.2 1069.6 1179.3 1065.9C1181.4 1062.1 1183.2 1061.8 1185.7 1060.5C1188.2 1059.3 1191.4 1059.3 1194.3 1058.4C1197.1 1057.5 1200.3 1055.2 1202.8 1055.2C1205.3 1055.2 1206.8 1056.3 1209.3 1058.4C1211.8 1060.5 1214.6 1065.0 1217.8 1068.0C1221.0 1071.0 1225.0 1073.7 1228.5 1076.5C1232.1 1079.4 1235.3 1082.4 1239.2 1085.0C1243.2 1087.7 1247.8 1090.6 1252.1 1092.5C1256.4 1094.5 1260.6 1095.5 1264.9 1096.8C1269.2 1098.0 1272.8 1099.0 1277.8 1100.0C1282.8 1100.9 1289.2 1101.9 1294.9 1102.5C1300.6 1103.2 1306.0 1103.7 1312.0 1103.8C1318.1 1103.9 1324.2 1103.5 1331.3 1103.2C1338.3 1102.8 1350.5 1101.9 1354.4 1101.7" stroke="#ff0000"/>
</g>
<rect x="1247.9" y="1062.7" width="8.5" height="71.0" fill="#0000ff"/>
<text transform="translate(1049.0 1074.3) scale(0.960 1)" font-size="34.0" fill="#000">PP</text>
<text transform="translate(1215.4 1063.2) scale(0.985 1)" font-size="34.0" fill="#000">RER.00</text>
<text class="s" x="1047.5" y="1157.5" font-size="26.8" fill="#000" textLength="101.0" lengthAdjust="spacingAndGlyphs">SNR=1.6</text>
<text class="s" x="1214.3" y="1159.6" font-size="30.5" fill="#000" textLength="146.3" lengthAdjust="spacingAndGlyphs">281°, 125°</text>
<rect x="1471.0" y="1024.9" width="354.4" height="157.2" fill="none" stroke="#484848" stroke-width="2.6"/>
<path d="M1515.2 1182.1v-4.6M1515.2 1024.9v4.6M1604.0 1182.1v-4.6M1604.0 1024.9v4.6M1692.7 1182.1v-4.6M1692.7 1024.9v4.6M1781.5 1182.1v-4.6M1781.5 1024.9v4.6M1471.0 1029.1h4.6M1825.4 1029.1h-4.6M1471.0 1097.9h4.6M1825.4 1097.9h-4.6M1471.0 1166.7h4.6M1825.4 1166.7h-4.6" stroke="#484848" stroke-width="2.4" fill="none"/>
<text transform="translate(1511.8 1223.5) scale(0.975 1)" font-size="34.4" fill="#5e5e5e" text-anchor="middle">0</text>
<text transform="translate(1599.0 1223.5) scale(0.975 1)" font-size="34.4" fill="#5e5e5e" text-anchor="middle">20</text>
<text transform="translate(1687.7 1223.5) scale(0.975 1)" font-size="34.4" fill="#5e5e5e" text-anchor="middle">40</text>
<text transform="translate(1776.5 1223.5) scale(0.975 1)" font-size="34.4" fill="#5e5e5e" text-anchor="middle">60</text>
<text transform="translate(1438.6 1042.0) scale(0.975 1)" font-size="34.4" fill="#404040">5</text>
<text transform="translate(1438.6 1110.8) scale(0.975 1)" font-size="34.4" fill="#404040">0</text>
<text transform="translate(1430.7 1179.6) scale(0.975 1)" font-size="34.4" fill="#404040">-5</text>
<path d="M1475.8 1000.2l16.2 16.2m0 -16.2l-16.2 16.2" stroke="#404040" stroke-width="2.3" fill="none"/>
<text transform="translate(1501.6 1017.4) scale(0.955 1)" font-size="33.8" fill="#404040">10</text>
<text x="1547.4" y="999.9" font-size="25.6" fill="#404040">-8</text>
<g clip-path="url(#c43)" fill="none" stroke-width="8.2" stroke-linejoin="round">
<path d="M1511.1 1097.8C1511.6 1096.1 1513.2 1089.4 1514.3 1087.2C1515.4 1085.0 1516.2 1084.8 1517.5 1084.6C1518.7 1084.4 1520.4 1086.6 1521.8 1086.1C1523.2 1085.7 1524.5 1082.8 1526.1 1081.9C1527.7 1080.9 1529.6 1080.0 1531.4 1080.4C1533.2 1080.7 1535.0 1082.9 1536.8 1084.0C1538.6 1085.0 1540.2 1086.2 1542.1 1086.8C1544.1 1087.3 1546.8 1086.4 1548.6 1087.2C1550.4 1088.0 1551.4 1089.0 1552.9 1091.4C1554.3 1093.9 1555.7 1098.9 1557.1 1102.1C1558.6 1105.3 1559.8 1108.8 1561.4 1110.6C1563.0 1112.5 1565.0 1113.1 1566.8 1113.2C1568.6 1113.3 1570.3 1111.1 1572.1 1111.1C1573.9 1111.0 1575.7 1112.8 1577.5 1112.8C1579.3 1112.7 1581.2 1112.8 1582.8 1110.6C1584.5 1108.5 1585.5 1104.6 1587.1 1100.0C1588.7 1095.4 1590.3 1088.6 1592.5 1082.9C1594.6 1077.2 1597.7 1072.3 1600.0 1065.9C1602.3 1059.5 1604.6 1050.0 1606.4 1044.5C1608.2 1039.0 1609.1 1034.9 1610.7 1032.8C1612.3 1030.7 1614.5 1030.5 1616.1 1031.7C1617.7 1033.0 1618.7 1035.6 1620.3 1040.3C1622.0 1044.9 1623.7 1052.7 1625.7 1059.5C1627.7 1066.2 1630.0 1075.5 1632.1 1080.8C1634.3 1086.1 1636.4 1088.8 1638.6 1091.4C1640.7 1094.1 1642.8 1094.3 1645.0 1096.8C1647.1 1099.3 1649.4 1102.3 1651.4 1106.4C1653.4 1110.5 1655.0 1117.6 1656.8 1121.3C1658.6 1125.0 1660.3 1129.5 1662.1 1128.8C1663.9 1128.1 1665.9 1123.3 1667.5 1117.0C1669.1 1110.8 1670.5 1098.2 1671.8 1091.4C1673.0 1084.7 1674.0 1079.4 1675.0 1076.5C1675.9 1073.7 1676.5 1073.7 1677.6 1074.4C1678.6 1075.1 1680.1 1076.5 1681.4 1080.8C1682.8 1085.0 1684.1 1094.1 1685.7 1100.0C1687.3 1105.8 1689.3 1113.1 1691.1 1116.0C1692.8 1118.8 1694.6 1117.9 1696.4 1117.0C1698.2 1116.2 1700.0 1112.6 1701.8 1110.6C1703.6 1108.7 1705.5 1106.0 1707.1 1105.3C1708.7 1104.6 1710.2 1104.4 1711.4 1106.4C1712.7 1108.3 1713.6 1111.0 1714.6 1117.0C1715.7 1123.1 1716.6 1134.8 1717.8 1142.6C1719.1 1150.5 1720.7 1158.8 1722.1 1164.0C1723.6 1169.1 1725.3 1171.9 1726.4 1173.6C1727.5 1175.3 1727.5 1175.5 1728.6 1174.2C1729.6 1173.0 1731.4 1169.6 1732.8 1166.1C1734.3 1162.6 1735.7 1156.1 1737.1 1153.3C1738.5 1150.5 1740.0 1149.0 1741.4 1149.0C1742.8 1149.0 1744.3 1151.2 1745.7 1153.3C1747.1 1155.4 1748.7 1160.2 1750.0 1161.8C1751.2 1163.4 1751.8 1165.4 1753.2 1162.9C1754.6 1160.4 1756.6 1154.5 1758.5 1146.9C1760.5 1139.3 1762.8 1127.7 1765.0 1117.0C1767.1 1106.4 1769.3 1093.6 1771.4 1082.9C1773.5 1072.3 1775.7 1059.8 1777.8 1053.1C1780.0 1046.3 1782.1 1044.5 1784.3 1042.4C1786.4 1040.3 1788.5 1041.3 1790.7 1040.3C1792.8 1039.2 1795.3 1037.4 1797.1 1036.0C1799.0 1034.6 1800.2 1031.4 1801.8 1031.7C1803.4 1032.1 1805.2 1033.1 1806.8 1038.1C1808.3 1043.1 1809.6 1054.1 1811.0 1061.6C1812.5 1069.1 1814.1 1078.5 1815.3 1082.9C1816.6 1087.4 1817.3 1087.7 1818.5 1088.2C1819.8 1088.8 1821.7 1087.0 1822.8 1086.1C1824.0 1085.2 1825.0 1083.5 1825.4 1082.9" stroke="#656565"/>
<path d="M1471.0 1097.8C1479.6 1097.8 1510.6 1097.7 1522.9 1097.8C1535.1 1098.0 1538.6 1098.5 1544.3 1098.9C1550.0 1099.3 1552.9 1099.9 1557.1 1100.4C1561.4 1100.9 1566.4 1101.9 1570.0 1101.7C1573.6 1101.4 1575.3 1100.6 1578.6 1098.9C1581.8 1097.2 1585.7 1094.6 1589.3 1091.4C1592.8 1088.2 1596.8 1083.6 1600.0 1079.7C1603.2 1075.8 1606.2 1070.8 1608.6 1068.0C1610.9 1065.1 1612.5 1063.8 1613.9 1062.7C1615.3 1061.5 1615.7 1060.8 1617.1 1061.2C1618.6 1061.5 1620.3 1061.5 1622.5 1064.8C1624.6 1068.1 1627.3 1073.5 1630.0 1080.8C1632.7 1088.1 1635.7 1098.9 1638.6 1108.5C1641.4 1118.1 1644.5 1129.5 1647.1 1138.4C1649.8 1147.3 1652.5 1156.5 1654.6 1161.8C1656.8 1167.2 1658.6 1168.8 1660.0 1170.4C1661.4 1172.0 1661.9 1172.1 1663.2 1171.4C1664.4 1170.7 1665.9 1170.2 1667.5 1166.1C1669.1 1162.0 1670.9 1155.1 1672.8 1146.9C1674.8 1138.7 1677.1 1126.3 1679.3 1117.0C1681.4 1107.8 1683.6 1097.5 1685.7 1091.4C1687.8 1085.4 1689.6 1083.5 1692.1 1080.8C1694.6 1078.1 1698.2 1077.1 1700.7 1075.5C1703.2 1073.9 1705.0 1072.4 1707.1 1071.2C1709.3 1069.9 1711.2 1068.5 1713.6 1068.0C1715.9 1067.5 1719.0 1067.3 1721.5 1068.0C1724.0 1068.7 1725.9 1070.8 1728.6 1072.3C1731.2 1073.7 1734.3 1075.1 1737.1 1076.5C1740.0 1077.9 1742.1 1079.0 1745.7 1080.8C1749.3 1082.6 1754.3 1085.4 1758.5 1087.2C1762.8 1089.0 1766.4 1089.8 1771.4 1091.4C1776.4 1093.0 1782.8 1095.3 1788.5 1096.8C1794.3 1098.3 1799.5 1099.2 1805.7 1100.4C1811.8 1101.6 1822.1 1103.3 1825.4 1103.8" stroke="#ff0000"/>
</g>
<rect x="1717.3" y="1064.4" width="8.5" height="71.5" fill="#0000ff"/>
<text transform="translate(1516.2 1076.5) scale(0.960 1)" font-size="34.0" fill="#000">PP</text>
<text transform="translate(1684.4 1064.7) scale(0.985 1)" font-size="34.0" fill="#000">ROCAM.00</text>
<text class="s" x="1514.7" y="1158.1" font-size="26.8" fill="#000" textLength="101.0" lengthAdjust="spacingAndGlyphs">SNR=1.3</text>
<text class="s" x="1683.3" y="1160.3" font-size="30.5" fill="#000" textLength="146.3" lengthAdjust="spacingAndGlyphs">276°, 119°</text>
<rect x="1941.5" y="1024.9" width="350.7" height="157.2" fill="none" stroke="#484848" stroke-width="2.6"/>
<path d="M1985.7 1182.1v-4.6M1985.7 1024.9v4.6M2073.4 1182.1v-4.6M2073.4 1024.9v4.6M2161.0 1182.1v-4.6M2161.0 1024.9v4.6M2248.7 1182.1v-4.6M2248.7 1024.9v4.6M1941.5 1050.0h4.6M2292.2 1050.0h-4.6M1941.5 1106.2h4.6M2292.2 1106.2h-4.6M1941.5 1162.4h4.6M2292.2 1162.4h-4.6" stroke="#484848" stroke-width="2.4" fill="none"/>
<text transform="translate(1982.3 1223.5) scale(0.975 1)" font-size="34.4" fill="#5e5e5e" text-anchor="middle">0</text>
<text transform="translate(2068.4 1223.5) scale(0.975 1)" font-size="34.4" fill="#5e5e5e" text-anchor="middle">20</text>
<text transform="translate(2156.0 1223.5) scale(0.975 1)" font-size="34.4" fill="#5e5e5e" text-anchor="middle">40</text>
<text transform="translate(2243.7 1223.5) scale(0.975 1)" font-size="34.4" fill="#5e5e5e" text-anchor="middle">60</text>
<text transform="translate(1909.1 1062.9) scale(0.975 1)" font-size="34.4" fill="#404040">5</text>
<text transform="translate(1909.1 1119.1) scale(0.975 1)" font-size="34.4" fill="#404040">0</text>
<text transform="translate(1901.2 1175.3) scale(0.975 1)" font-size="34.4" fill="#404040">-5</text>
<path d="M1946.3 1000.2l16.2 16.2m0 -16.2l-16.2 16.2" stroke="#404040" stroke-width="2.3" fill="none"/>
<text transform="translate(1972.1 1017.4) scale(0.955 1)" font-size="33.8" fill="#404040">10</text>
<text x="2017.9" y="999.9" font-size="25.6" fill="#404040">-8</text>
<g clip-path="url(#c44)" fill="none" stroke-width="8.2" stroke-linejoin="round">
<path d="M1981.5 1106.4C1981.8 1103.9 1982.7 1096.4 1983.6 1091.4C1984.5 1086.5 1985.6 1079.5 1986.8 1076.5C1988.1 1073.5 1989.2 1073.6 1991.1 1073.3C1993.1 1073.0 1996.5 1073.6 1998.6 1074.8C2000.7 1076.1 2002.0 1079.1 2003.9 1080.8C2005.9 1082.5 2008.2 1084.0 2010.4 1085.0C2012.5 1086.1 2014.6 1085.8 2016.8 1087.2C2018.9 1088.6 2021.4 1090.7 2023.2 1093.6C2025.0 1096.4 2026.0 1101.0 2027.5 1104.2C2028.9 1107.4 2030.0 1110.6 2031.7 1112.8C2033.5 1114.9 2036.0 1116.2 2038.2 1117.0C2040.3 1117.9 2042.4 1117.5 2044.6 1118.1C2046.7 1118.8 2049.2 1121.1 2051.0 1120.9C2052.8 1120.7 2053.5 1120.5 2055.3 1117.0C2057.0 1113.6 2059.2 1106.4 2061.7 1100.0C2064.2 1093.6 2067.7 1084.3 2070.2 1078.7C2072.7 1073.0 2074.7 1068.7 2076.6 1065.9C2078.6 1063.0 2080.6 1062.3 2082.0 1061.6C2083.4 1060.9 2084.0 1060.5 2085.2 1061.6C2086.4 1062.7 2087.7 1063.7 2089.5 1068.0C2091.3 1072.3 2093.8 1080.8 2095.9 1087.2C2098.0 1093.6 2100.2 1101.8 2102.3 1106.4C2104.4 1111.0 2106.6 1112.4 2108.7 1114.9C2110.9 1117.4 2113.0 1118.5 2115.1 1121.3C2117.3 1124.2 2119.4 1127.4 2121.6 1132.0C2123.7 1136.6 2126.4 1145.8 2128.0 1149.0C2129.6 1152.2 2129.9 1152.9 2131.2 1151.2C2132.4 1149.4 2134.0 1143.7 2135.5 1138.4C2136.9 1133.0 2138.5 1124.2 2139.7 1119.2C2141.0 1114.2 2142.0 1110.6 2142.9 1108.5C2143.9 1106.4 2144.4 1105.7 2145.5 1106.4C2146.6 1107.1 2148.0 1109.2 2149.4 1112.8C2150.7 1116.3 2151.8 1123.4 2153.6 1127.7C2155.4 1132.0 2158.1 1136.4 2160.0 1138.4C2162.0 1140.3 2163.6 1140.5 2165.4 1139.4C2167.2 1138.4 2169.0 1133.9 2170.7 1132.0C2172.5 1130.0 2174.5 1128.4 2176.1 1127.7C2177.7 1127.0 2179.1 1125.9 2180.4 1127.7C2181.6 1129.5 2182.3 1132.7 2183.6 1138.4C2184.8 1144.1 2186.4 1156.0 2187.8 1161.8C2189.3 1167.7 2190.9 1171.4 2192.1 1173.6C2193.4 1175.7 2194.1 1175.9 2195.3 1174.6C2196.6 1173.4 2198.0 1170.4 2199.6 1166.1C2201.2 1161.8 2203.3 1152.6 2205.0 1149.0C2206.6 1145.5 2207.6 1144.8 2209.2 1144.8C2210.8 1144.8 2213.1 1148.2 2214.6 1149.0C2216.0 1149.9 2216.4 1151.9 2217.8 1150.1C2219.2 1148.3 2221.2 1143.9 2223.1 1138.4C2225.1 1132.9 2227.4 1124.9 2229.5 1117.0C2231.7 1109.2 2233.8 1100.7 2236.0 1091.4C2238.1 1082.2 2240.6 1069.4 2242.4 1061.6C2244.2 1053.8 2245.4 1047.9 2246.7 1044.5C2247.9 1041.1 2248.4 1041.5 2249.9 1041.3C2251.3 1041.1 2253.6 1043.3 2255.2 1043.5C2256.8 1043.6 2258.1 1043.6 2259.5 1042.4C2260.9 1041.1 2262.3 1037.8 2263.8 1036.0C2265.2 1034.2 2266.4 1031.4 2268.0 1031.7C2269.6 1032.1 2271.8 1033.5 2273.4 1038.1C2275.0 1042.7 2276.2 1053.1 2277.7 1059.5C2279.1 1065.9 2280.5 1073.1 2281.9 1076.5C2283.4 1079.9 2284.8 1079.4 2286.2 1079.7C2287.6 1080.0 2289.5 1078.8 2290.5 1078.2C2291.5 1077.7 2291.9 1076.8 2292.2 1076.5" stroke="#656565"/>
<path d="M1941.5 1106.4C1951.2 1106.4 1987.1 1106.2 1999.7 1106.4C2012.2 1106.6 2011.8 1106.9 2016.8 1107.4C2021.8 1108.0 2026.0 1109.1 2029.6 1109.6C2033.2 1110.0 2035.3 1110.6 2038.2 1110.2C2041.0 1109.9 2043.5 1109.0 2046.7 1107.4C2049.9 1105.9 2053.8 1103.5 2057.4 1101.0C2061.0 1098.6 2064.9 1095.7 2068.1 1092.5C2071.3 1089.3 2074.2 1084.4 2076.6 1081.9C2079.1 1079.3 2081.3 1077.8 2083.1 1076.9C2084.8 1076.1 2085.7 1075.9 2087.3 1076.5C2088.9 1077.2 2090.5 1077.4 2092.7 1080.8C2094.8 1084.2 2097.5 1090.7 2100.2 1096.8C2102.8 1102.8 2105.9 1109.4 2108.7 1117.0C2111.6 1124.7 2114.8 1135.5 2117.3 1142.6C2119.8 1149.7 2121.7 1155.8 2123.7 1159.7C2125.7 1163.6 2127.8 1165.0 2129.0 1166.1C2130.3 1167.2 2130.1 1167.2 2131.2 1166.5C2132.2 1165.8 2133.9 1165.1 2135.5 1161.8C2137.1 1158.6 2138.8 1153.7 2140.8 1146.9C2142.8 1140.2 2145.1 1129.1 2147.2 1121.3C2149.4 1113.5 2151.5 1105.0 2153.6 1100.0C2155.8 1095.0 2157.6 1093.6 2160.0 1091.4C2162.5 1089.3 2165.7 1088.6 2168.6 1087.2C2171.5 1085.8 2174.7 1083.9 2177.2 1082.9C2179.6 1082.0 2181.5 1081.6 2183.6 1081.4C2185.6 1081.2 2187.2 1081.1 2189.3 1081.9C2191.5 1082.6 2193.1 1084.7 2196.4 1086.1C2199.7 1087.5 2204.2 1088.4 2209.2 1090.4C2214.2 1092.3 2220.6 1095.9 2226.3 1097.8C2232.0 1099.8 2237.7 1100.9 2243.4 1102.1C2249.1 1103.4 2254.8 1104.2 2260.6 1105.3C2266.3 1106.4 2272.4 1107.6 2277.7 1108.5C2282.9 1109.4 2289.8 1110.3 2292.2 1110.6" stroke="#ff0000"/>
</g>
<rect x="2185.3" y="1069.7" width="8.5" height="70.8" fill="#0000ff"/>
<text transform="translate(1986.7 1080.7) scale(0.960 1)" font-size="34.0" fill="#000">PP</text>
<text transform="translate(2152.8 1066.9) scale(0.985 1)" font-size="34.0" fill="#000">ROCAM.10</text>
<text class="s" x="1985.2" y="1161.8" font-size="26.8" fill="#000" textLength="101.0" lengthAdjust="spacingAndGlyphs">SNR=1.2</text>
<text class="s" x="2151.7" y="1163.3" font-size="30.5" fill="#000" textLength="146.3" lengthAdjust="spacingAndGlyphs">276°, 119°</text>
<rect x="66.7" y="1270.0" width="350.2" height="158.7" fill="none" stroke="#484848" stroke-width="2.6"/>
<path d="M110.6 1428.7v-4.6M110.6 1270.0v4.6M198.3 1428.7v-4.6M198.3 1270.0v4.6M286.0 1428.7v-4.6M286.0 1270.0v4.6M373.7 1428.7v-4.6M373.7 1270.0v4.6M66.7 1317.2h4.6M416.9 1317.2h-4.6M66.7 1366.0h4.6M416.9 1366.0h-4.6M66.7 1414.8h4.6M416.9 1414.8h-4.6" stroke="#484848" stroke-width="2.4" fill="none"/>
<text transform="translate(107.2 1470.1) scale(0.975 1)" font-size="34.4" fill="#5e5e5e" text-anchor="middle">0</text>
<text transform="translate(193.3 1470.1) scale(0.975 1)" font-size="34.4" fill="#5e5e5e" text-anchor="middle">20</text>
<text transform="translate(281.0 1470.1) scale(0.975 1)" font-size="34.4" fill="#5e5e5e" text-anchor="middle">40</text>
<text transform="translate(368.7 1470.1) scale(0.975 1)" font-size="34.4" fill="#5e5e5e" text-anchor="middle">60</text>
<text transform="translate(34.3 1330.1) scale(0.975 1)" font-size="34.4" fill="#404040">5</text>
<text transform="translate(34.3 1378.9) scale(0.975 1)" font-size="34.4" fill="#404040">0</text>
<text transform="translate(26.4 1427.7) scale(0.975 1)" font-size="34.4" fill="#404040">-5</text>
<path d="M71.5 1245.3l16.2 16.2m0 -16.2l-16.2 16.2" stroke="#404040" stroke-width="2.3" fill="none"/>
<text transform="translate(97.3 1262.5) scale(0.955 1)" font-size="33.8" fill="#404040">10</text>
<text x="143.1" y="1245.0" font-size="25.6" fill="#404040">-8</text>
<g clip-path="url(#c50)" fill="none" stroke-width="8.2" stroke-linejoin="round">
<path d="M109.0 1366.1C109.5 1368.3 110.9 1374.7 112.2 1379.4C113.4 1384.1 115.0 1391.5 116.5 1394.4C117.9 1397.2 119.1 1398.7 120.7 1396.5C122.3 1394.4 124.3 1387.6 126.1 1381.5C127.8 1375.4 129.6 1364.7 131.4 1360.1C133.2 1355.4 135.5 1354.8 136.7 1353.6C138.0 1352.5 137.8 1351.8 138.9 1353.2C139.9 1354.6 141.5 1357.1 143.1 1362.2C144.7 1367.3 146.7 1377.9 148.5 1383.7C150.3 1389.4 152.4 1394.2 153.8 1396.5C155.2 1398.9 155.6 1400.5 157.0 1397.6C158.4 1394.7 160.6 1385.6 162.4 1379.4C164.1 1373.1 166.1 1364.2 167.7 1360.1C169.3 1356.0 170.4 1354.0 172.0 1354.7C173.6 1355.4 175.5 1360.6 177.3 1364.4C179.1 1368.1 180.9 1376.9 182.7 1377.2C184.4 1377.6 186.4 1372.6 188.0 1366.5C189.6 1360.4 190.8 1348.3 192.3 1340.8C193.7 1333.3 195.3 1325.2 196.5 1321.5C197.8 1317.7 198.7 1318.8 199.7 1318.3C200.8 1317.7 201.9 1315.9 202.9 1318.3C204.0 1320.6 204.7 1324.9 206.1 1332.2C207.6 1339.5 209.6 1353.1 211.5 1362.2C213.4 1371.3 215.7 1384.7 217.5 1386.9C219.2 1389.0 220.7 1380.6 222.2 1375.1C223.6 1369.5 225.0 1358.5 226.4 1353.6C227.8 1348.8 229.3 1345.4 230.7 1346.1C232.1 1346.8 233.4 1351.0 235.0 1357.9C236.6 1364.9 238.5 1379.4 240.3 1388.0C242.1 1396.5 244.4 1405.5 245.6 1409.4C246.9 1413.3 246.7 1414.4 247.8 1411.5C248.8 1408.7 250.6 1401.2 252.0 1392.2C253.5 1383.3 254.9 1366.7 256.3 1357.9C257.7 1349.2 259.2 1342.9 260.6 1339.7C262.0 1336.5 263.4 1337.0 264.9 1338.6C266.3 1340.2 267.7 1342.6 269.1 1349.3C270.6 1356.1 272.0 1369.4 273.4 1379.4C274.8 1389.4 276.3 1402.2 277.7 1409.4C279.1 1416.6 280.9 1420.3 281.9 1422.7C283.0 1425.1 283.0 1426.1 284.1 1423.6C285.1 1421.0 286.9 1413.2 288.4 1407.3C289.8 1401.3 291.4 1391.5 292.6 1388.0C293.9 1384.4 294.6 1384.7 295.8 1385.8C297.1 1386.9 298.5 1389.7 300.1 1394.4C301.7 1399.0 303.8 1409.0 305.4 1413.7C307.0 1418.3 308.5 1421.6 309.7 1422.3C311.0 1423.0 311.8 1422.3 312.9 1418.0C314.0 1413.7 315.0 1405.8 316.1 1396.5C317.2 1387.2 318.1 1375.8 319.3 1362.2C320.6 1348.6 322.3 1327.2 323.6 1315.0C324.8 1302.9 325.7 1295.0 326.8 1289.3C327.9 1283.6 328.7 1280.4 330.0 1280.7C331.2 1281.1 332.7 1283.6 334.3 1291.4C335.9 1299.3 337.8 1315.4 339.6 1327.9C341.4 1340.4 343.3 1357.6 344.9 1366.5C346.5 1375.4 347.6 1380.1 349.2 1381.5C350.8 1382.9 352.8 1377.1 354.5 1375.1C356.3 1373.1 358.3 1370.1 359.9 1369.7C361.5 1369.4 362.6 1370.3 364.2 1372.9C365.8 1375.6 367.9 1382.4 369.5 1385.8C371.1 1389.2 372.3 1393.7 373.8 1393.3C375.2 1393.0 376.6 1390.3 378.0 1383.7C379.5 1377.1 380.9 1365.1 382.3 1353.6C383.7 1342.2 385.2 1326.1 386.6 1315.0C388.0 1304.0 389.6 1293.4 390.8 1287.2C392.1 1280.9 392.8 1278.9 394.1 1277.5C395.3 1276.1 396.9 1275.2 398.3 1278.6C399.7 1282.0 401.2 1289.7 402.6 1297.9C404.0 1306.1 405.4 1319.3 406.9 1327.9C408.3 1336.5 409.5 1343.6 411.1 1349.3C412.8 1355.1 415.9 1360.1 416.9 1362.2" stroke="#656565"/>
<path d="M66.7 1366.1C83.5 1366.1 148.0 1365.9 167.7 1366.1C184.8 1366.2 179.8 1366.6 184.8 1366.9C189.8 1367.3 192.6 1368.3 197.6 1368.2C202.6 1368.2 210.1 1367.3 214.7 1366.5C219.3 1365.7 221.8 1364.7 225.4 1363.3C228.9 1361.9 232.5 1359.2 236.0 1357.9C239.6 1356.7 243.2 1355.8 246.7 1355.8C250.3 1355.8 253.8 1356.3 257.4 1357.9C260.9 1359.5 264.9 1362.9 268.1 1365.4C271.3 1367.9 273.8 1370.8 276.6 1372.9C279.5 1375.1 282.7 1377.3 285.1 1378.3C287.6 1379.3 289.1 1379.5 291.6 1378.9C294.0 1378.4 297.2 1376.8 300.1 1375.1C302.9 1373.4 305.1 1370.6 308.6 1368.7C312.2 1366.7 316.5 1364.6 321.4 1363.3C326.4 1361.9 332.1 1361.0 338.5 1360.5C344.9 1360.0 352.1 1360.2 359.9 1360.5C367.7 1360.8 376.0 1361.6 385.5 1362.2C395.0 1362.9 411.7 1364.0 416.9 1364.4" stroke="#ff0000"/>
</g>
<rect x="310.2" y="1322.5" width="8.5" height="71.8" fill="#0000ff"/>
<text transform="translate(111.6 1335.3) scale(0.960 1)" font-size="34.0" fill="#000">P</text>
<text transform="translate(277.8 1319.3) scale(0.985 1)" font-size="34.0" fill="#000">SANVU.00</text>
<text class="s" x="110.1" y="1413.0" font-size="26.8" fill="#000" textLength="101.0" lengthAdjust="spacingAndGlyphs">SNR=1.8</text>
<text class="s" x="276.7" y="1415.1" font-size="30.5" fill="#000" textLength="130.1" lengthAdjust="spacingAndGlyphs">190°, 68°</text>
<rect x="533.3" y="1270.0" width="354.6" height="158.7" fill="none" stroke="#484848" stroke-width="2.6"/>
<path d="M577.7 1428.7v-4.6M577.7 1270.0v4.6M666.4 1428.7v-4.6M666.4 1270.0v4.6M755.0 1428.7v-4.6M755.0 1270.0v4.6M843.7 1428.7v-4.6M843.7 1270.0v4.6M533.3 1281.2h4.6M887.9 1281.2h-4.6M533.3 1334.3h4.6M887.9 1334.3h-4.6M533.3 1387.5h4.6M887.9 1387.5h-4.6" stroke="#484848" stroke-width="2.4" fill="none"/>
<text transform="translate(574.3 1470.1) scale(0.975 1)" font-size="34.4" fill="#5e5e5e" text-anchor="middle">0</text>
<text transform="translate(661.4 1470.1) scale(0.975 1)" font-size="34.4" fill="#5e5e5e" text-anchor="middle">20</text>
<text transform="translate(750.0 1470.1) scale(0.975 1)" font-size="34.4" fill="#5e5e5e" text-anchor="middle">40</text>
<text transform="translate(838.7 1470.1) scale(0.975 1)" font-size="34.4" fill="#5e5e5e" text-anchor="middle">60</text>
<text transform="translate(500.9 1294.1) scale(0.975 1)" font-size="34.4" fill="#404040">5</text>
<text transform="translate(500.9 1347.2) scale(0.975 1)" font-size="34.4" fill="#404040">0</text>
<text transform="translate(493.0 1400.4) scale(0.975 1)" font-size="34.4" fill="#404040">-5</text>
<path d="M538.1 1245.3l16.2 16.2m0 -16.2l-16.2 16.2" stroke="#404040" stroke-width="2.3" fill="none"/>
<text transform="translate(563.9 1262.5) scale(0.955 1)" font-size="33.8" fill="#404040">10</text>
<text x="609.7" y="1245.0" font-size="25.6" fill="#404040">-8</text>
<g clip-path="url(#c51)" fill="none" stroke-width="8.2" stroke-linejoin="round">
<path d="M572.5 1334.3C573.1 1336.1 574.8 1342.2 576.2 1345.1C577.5 1347.9 579.0 1353.6 580.4 1351.5C581.9 1349.4 583.5 1339.7 584.7 1332.2C586.0 1324.7 586.7 1313.2 587.9 1306.5C589.2 1299.7 591.0 1294.3 592.2 1291.4C593.5 1288.6 594.4 1288.2 595.4 1289.3C596.5 1290.4 597.4 1291.8 598.6 1297.9C599.9 1304.0 601.5 1316.8 602.9 1325.8C604.4 1334.7 606.0 1345.8 607.2 1351.5C608.5 1357.2 609.2 1360.4 610.4 1360.1C611.7 1359.7 613.3 1355.4 614.7 1349.3C616.1 1343.3 617.6 1330.0 619.0 1323.6C620.4 1317.2 622.2 1313.1 623.3 1310.7C624.4 1308.4 624.4 1308.6 625.4 1309.7C626.5 1310.7 628.5 1311.3 629.7 1317.2C631.0 1323.1 631.7 1335.4 632.9 1345.1C634.2 1354.7 636.0 1368.7 637.2 1375.1C638.5 1381.5 639.2 1382.2 640.4 1383.7C641.7 1385.1 643.3 1387.2 644.7 1383.7C646.1 1380.1 647.8 1372.2 649.0 1362.2C650.3 1352.2 651.0 1334.7 652.2 1323.6C653.5 1312.5 655.2 1301.3 656.5 1295.7C657.7 1290.2 658.5 1289.3 659.7 1290.4C661.0 1291.4 662.6 1295.9 664.0 1302.2C665.4 1308.4 666.9 1320.4 668.3 1327.9C669.7 1335.4 671.3 1343.3 672.6 1347.2C673.8 1351.1 674.4 1352.6 675.8 1351.5C677.2 1350.4 679.5 1346.8 681.1 1340.8C682.7 1334.7 684.0 1320.4 685.4 1315.0C686.9 1309.7 688.6 1309.7 689.7 1308.6C690.8 1307.5 690.8 1307.2 691.9 1308.6C692.9 1310.0 694.7 1309.7 696.1 1317.2C697.6 1324.7 699.0 1340.4 700.4 1353.6C701.9 1366.9 703.3 1385.5 704.7 1396.5C706.1 1407.6 707.9 1416.0 709.0 1420.1C710.1 1424.2 710.2 1424.1 711.1 1421.2C712.0 1418.3 713.1 1413.5 714.3 1403.0C715.6 1392.4 717.4 1370.1 718.6 1357.9C719.9 1345.8 720.8 1335.6 721.8 1330.0C722.9 1324.5 723.8 1323.3 725.1 1324.7C726.3 1326.1 727.7 1332.0 729.3 1338.6C731.0 1345.2 733.1 1358.6 734.7 1364.4C736.3 1370.1 737.6 1374.0 739.0 1372.9C740.4 1371.9 741.8 1366.1 743.3 1357.9C744.7 1349.7 746.1 1334.3 747.6 1323.6C749.0 1312.9 750.4 1301.3 751.8 1293.6C753.3 1285.9 754.9 1280.5 756.1 1277.5C757.4 1274.5 758.1 1273.4 759.3 1275.4C760.6 1277.3 762.2 1282.0 763.6 1289.3C765.1 1296.6 766.5 1310.7 767.9 1319.3C769.3 1327.9 770.9 1337.0 772.2 1340.8C773.4 1344.5 774.3 1344.0 775.4 1341.8C776.5 1339.7 777.4 1333.8 778.6 1327.9C779.9 1322.0 781.5 1311.8 782.9 1306.5C784.3 1301.1 786.1 1297.7 787.2 1295.7C788.3 1293.8 788.3 1292.9 789.3 1294.7C790.4 1296.4 792.0 1299.5 793.6 1306.5C795.2 1313.4 797.2 1327.2 799.0 1336.5C800.8 1345.8 802.7 1356.3 804.3 1362.2C805.9 1368.1 807.2 1371.5 808.6 1371.9C810.1 1372.2 811.3 1370.3 812.9 1364.4C814.5 1358.5 816.7 1344.3 818.3 1336.5C819.9 1328.6 821.3 1320.8 822.6 1317.2C823.8 1313.6 824.3 1314.3 825.8 1315.0C827.2 1315.8 829.3 1317.9 831.1 1321.5C832.9 1325.0 835.0 1333.3 836.5 1336.5C837.9 1339.7 838.3 1342.6 839.7 1340.8C841.1 1339.0 843.3 1332.6 845.0 1325.8C846.8 1319.0 848.6 1306.8 850.4 1300.0C852.2 1293.2 854.2 1288.1 855.8 1285.0C857.4 1282.0 858.6 1280.0 860.0 1281.8C861.5 1283.6 862.9 1288.1 864.3 1295.7C865.8 1303.4 867.2 1316.8 868.6 1327.9C870.0 1339.0 871.5 1353.6 872.9 1362.2C874.3 1370.8 876.1 1376.3 877.2 1379.4C878.3 1382.4 878.3 1381.5 879.3 1380.4C880.4 1379.4 882.2 1375.1 883.6 1372.9C885.0 1370.8 887.2 1368.5 887.9 1367.6" stroke="#656565"/>
<path d="M533.3 1334.3C545.3 1334.3 590.3 1334.5 605.1 1334.3C619.9 1334.2 616.5 1334.0 622.2 1333.3C627.9 1332.6 634.4 1331.1 639.4 1330.0C644.4 1329.0 648.3 1327.6 652.2 1326.8C656.1 1326.0 659.4 1325.2 662.9 1325.3C666.5 1325.5 670.1 1326.4 673.6 1327.9C677.2 1329.4 680.8 1332.2 684.4 1334.3C687.9 1336.5 691.9 1339.2 695.1 1340.8C698.3 1342.4 701.0 1343.3 703.6 1344.0C706.3 1344.7 708.3 1345.3 711.1 1345.1C714.0 1344.8 717.0 1343.6 720.8 1342.5C724.5 1341.4 728.6 1340.1 733.6 1338.6C738.6 1337.2 745.1 1335.2 750.8 1333.9C756.5 1332.7 762.2 1331.8 767.9 1331.1C773.6 1330.4 779.3 1329.9 785.1 1329.6C790.8 1329.3 795.1 1329.3 802.2 1329.4C809.3 1329.5 819.3 1330.0 827.9 1330.5C836.5 1330.9 843.6 1331.5 853.6 1332.2C863.6 1332.8 882.2 1334.0 887.9 1334.3" stroke="#ff0000"/>
</g>
<rect x="779.6" y="1305.4" width="8.5" height="71.2" fill="#0000ff"/>
<text transform="translate(578.7 1318.2) scale(0.960 1)" font-size="34.0" fill="#000">PP</text>
<text transform="translate(746.7 1306.4) scale(0.985 1)" font-size="34.0" fill="#000">SOK.00</text>
<text class="s" x="577.2" y="1401.4" font-size="26.8" fill="#000" textLength="101.0" lengthAdjust="spacingAndGlyphs">SNR=1.2</text>
<text class="s" x="745.6" y="1403.5" font-size="30.5" fill="#000" textLength="130.1" lengthAdjust="spacingAndGlyphs">14°, 113°</text>
<rect x="1004.2" y="1270.0" width="350.2" height="158.7" fill="none" stroke="#484848" stroke-width="2.6"/>
<path d="M1048.0 1428.7v-4.6M1048.0 1270.0v4.6M1135.8 1428.7v-4.6M1135.8 1270.0v4.6M1223.6 1428.7v-4.6M1223.6 1270.0v4.6M1311.4 1428.7v-4.6M1311.4 1270.0v4.6M1004.2 1308.6h4.6M1354.4 1308.6h-4.6M1004.2 1352.0h4.6M1354.4 1352.0h-4.6M1004.2 1395.4h4.6M1354.4 1395.4h-4.6" stroke="#484848" stroke-width="2.4" fill="none"/>
<text transform="translate(1044.6 1470.1) scale(0.975 1)" font-size="34.4" fill="#5e5e5e" text-anchor="middle">0</text>
<text transform="translate(1130.8 1470.1) scale(0.975 1)" font-size="34.4" fill="#5e5e5e" text-anchor="middle">20</text>
<text transform="translate(1218.6 1470.1) scale(0.975 1)" font-size="34.4" fill="#5e5e5e" text-anchor="middle">40</text>
<text transform="translate(1306.4 1470.1) scale(0.975 1)" font-size="34.4" fill="#5e5e5e" text-anchor="middle">60</text>
<text transform="translate(971.8 1321.5) scale(0.975 1)" font-size="34.4" fill="#404040">1</text>
<text transform="translate(971.8 1364.9) scale(0.975 1)" font-size="34.4" fill="#404040">0</text>
<text transform="translate(963.9 1408.3) scale(0.975 1)" font-size="34.4" fill="#404040">-1</text>
<path d="M1009.0 1245.3l16.2 16.2m0 -16.2l-16.2 16.2" stroke="#404040" stroke-width="2.3" fill="none"/>
<text transform="translate(1034.8 1262.5) scale(0.955 1)" font-size="33.8" fill="#404040">10</text>
<text x="1080.6" y="1245.0" font-size="25.6" fill="#404040">-7</text>
<g clip-path="url(#c52)" fill="none" stroke-width="8.2" stroke-linejoin="round">
<path d="M1044.4 1351.9C1045.2 1352.7 1046.6 1355.5 1048.7 1356.9C1050.9 1358.2 1054.8 1359.0 1057.3 1360.1C1059.8 1361.1 1061.6 1362.4 1063.7 1363.3C1065.8 1364.2 1067.6 1365.3 1070.1 1365.4C1072.6 1365.5 1075.8 1364.6 1078.7 1363.9C1081.5 1363.2 1084.6 1361.9 1087.3 1361.1C1089.9 1360.4 1092.6 1359.6 1094.7 1359.6C1096.9 1359.6 1098.1 1359.6 1100.1 1361.1C1102.1 1362.6 1104.4 1366.7 1106.5 1368.7C1108.7 1370.6 1111.2 1372.1 1112.9 1372.9C1114.7 1373.8 1115.4 1373.8 1117.2 1373.6C1119.0 1373.4 1121.1 1373.4 1123.6 1371.9C1126.1 1370.3 1129.7 1367.4 1132.2 1364.4C1134.7 1361.3 1136.5 1356.9 1138.6 1353.6C1140.8 1350.4 1142.9 1347.1 1145.1 1345.1C1147.2 1343.0 1149.7 1341.9 1151.5 1341.2C1153.3 1340.5 1154.1 1340.1 1155.8 1340.8C1157.4 1341.4 1159.0 1342.2 1161.1 1345.1C1163.2 1347.9 1165.9 1352.9 1168.6 1357.9C1171.3 1362.9 1174.3 1370.4 1177.2 1375.1C1180.0 1379.7 1183.2 1383.3 1185.7 1385.8C1188.2 1388.3 1190.2 1389.2 1192.1 1390.1C1194.1 1391.0 1195.7 1391.5 1197.5 1391.2C1199.3 1390.8 1200.9 1390.3 1202.8 1388.0C1204.8 1385.6 1207.1 1381.5 1209.3 1377.2C1211.4 1372.9 1213.5 1366.9 1215.7 1362.2C1217.8 1357.6 1220.0 1353.3 1222.1 1349.3C1224.3 1345.4 1226.4 1341.5 1228.5 1338.6C1230.7 1335.8 1232.8 1334.3 1235.0 1332.2C1237.1 1330.0 1239.2 1328.6 1241.4 1325.8C1243.5 1322.9 1245.7 1319.0 1247.8 1315.0C1249.9 1311.1 1252.1 1306.1 1254.2 1302.2C1256.4 1298.2 1258.1 1294.8 1260.6 1291.4C1263.1 1288.1 1266.4 1284.1 1269.2 1281.8C1272.1 1279.5 1275.6 1278.3 1277.8 1277.5C1279.9 1276.7 1280.3 1276.4 1282.0 1277.1C1283.8 1277.8 1286.3 1278.7 1288.5 1281.8C1290.6 1284.9 1292.4 1289.5 1294.9 1295.7C1297.4 1302.0 1300.6 1311.1 1303.5 1319.3C1306.3 1327.5 1309.2 1336.8 1312.0 1345.1C1314.9 1353.3 1317.7 1361.1 1320.6 1368.7C1323.4 1376.2 1326.3 1383.7 1329.1 1390.1C1332.0 1396.5 1334.8 1402.2 1337.7 1407.3C1340.6 1412.3 1343.8 1416.5 1346.3 1420.1C1348.8 1423.7 1351.6 1427.3 1352.7 1428.7" stroke="#656565"/>
<path d="M1004.2 1351.9C1014.8 1351.9 1054.5 1351.6 1068.0 1351.9C1081.5 1352.2 1079.8 1353.1 1085.1 1353.6C1090.5 1354.2 1095.8 1355.2 1100.1 1355.4C1104.4 1355.5 1107.6 1355.5 1110.8 1354.7C1114.0 1353.9 1116.5 1352.6 1119.4 1350.4C1122.2 1348.3 1125.1 1344.5 1127.9 1341.8C1130.8 1339.2 1133.6 1336.1 1136.5 1334.3C1139.3 1332.6 1142.6 1331.7 1145.1 1331.1C1147.5 1330.6 1149.3 1330.6 1151.5 1331.1C1153.6 1331.7 1155.4 1332.0 1157.9 1334.3C1160.4 1336.7 1163.6 1340.8 1166.5 1345.1C1169.3 1349.3 1172.2 1355.4 1175.0 1360.1C1177.9 1364.7 1181.1 1370.1 1183.6 1372.9C1186.1 1375.8 1187.9 1376.9 1190.0 1377.2C1192.1 1377.6 1193.9 1376.0 1196.4 1375.1C1198.9 1374.2 1202.1 1373.1 1205.0 1371.9C1207.8 1370.6 1210.3 1369.5 1213.5 1367.6C1216.8 1365.6 1220.7 1362.4 1224.3 1360.1C1227.8 1357.7 1231.4 1355.4 1235.0 1353.6C1238.5 1351.9 1242.1 1350.6 1245.7 1349.3C1249.2 1348.1 1252.4 1347.0 1256.4 1346.1C1260.3 1345.2 1264.2 1344.5 1269.2 1344.0C1274.2 1343.5 1280.6 1343.0 1286.3 1342.9C1292.0 1342.8 1297.7 1343.0 1303.5 1343.3C1309.2 1343.7 1314.9 1344.3 1320.6 1345.1C1326.3 1345.8 1332.1 1346.7 1337.7 1347.6C1343.3 1348.5 1351.6 1350.0 1354.4 1350.4" stroke="#ff0000"/>
</g>
<rect x="1247.9" y="1315.0" width="8.5" height="71.2" fill="#0000ff"/>
<text transform="translate(1049.0 1327.8) scale(0.960 1)" font-size="34.0" fill="#000">PP</text>
<text transform="translate(1215.4 1313.5) scale(0.985 1)" font-size="34.0" fill="#000">SPB.00</text>
<text class="s" x="1047.5" y="1407.8" font-size="26.8" fill="#000" textLength="101.0" lengthAdjust="spacingAndGlyphs">SNR=4.9</text>
<text class="s" x="1214.3" y="1410.0" font-size="30.5" fill="#000" textLength="130.1" lengthAdjust="spacingAndGlyphs">66°, 136°</text>
<rect x="1471.0" y="1270.0" width="354.4" height="158.7" fill="none" stroke="#484848" stroke-width="2.6"/>
<path d="M1515.2 1428.7v-4.6M1515.2 1270.0v4.6M1604.0 1428.7v-4.6M1604.0 1270.0v4.6M1692.7 1428.7v-4.6M1692.7 1270.0v4.6M1781.5 1428.7v-4.6M1781.5 1270.0v4.6M1471.0 1286.1h4.6M1825.4 1286.1h-4.6M1471.0 1345.4h4.6M1825.4 1345.4h-4.6M1471.0 1404.7h4.6M1825.4 1404.7h-4.6" stroke="#484848" stroke-width="2.4" fill="none"/>
<text transform="translate(1511.8 1470.1) scale(0.975 1)" font-size="34.4" fill="#5e5e5e" text-anchor="middle">0</text>
<text transform="translate(1599.0 1470.1) scale(0.975 1)" font-size="34.4" fill="#5e5e5e" text-anchor="middle">20</text>
<text transform="translate(1687.7 1470.1) scale(0.975 1)" font-size="34.4" fill="#5e5e5e" text-anchor="middle">40</text>
<text transform="translate(1776.5 1470.1) scale(0.975 1)" font-size="34.4" fill="#5e5e5e" text-anchor="middle">60</text>
<text transform="translate(1438.6 1299.0) scale(0.975 1)" font-size="34.4" fill="#404040">5</text>
<text transform="translate(1438.6 1358.3) scale(0.975 1)" font-size="34.4" fill="#404040">0</text>
<text transform="translate(1430.7 1417.6) scale(0.975 1)" font-size="34.4" fill="#404040">-5</text>
<path d="M1475.8 1245.3l16.2 16.2m0 -16.2l-16.2 16.2" stroke="#404040" stroke-width="2.3" fill="none"/>
<text transform="translate(1501.6 1262.5) scale(0.955 1)" font-size="33.8" fill="#404040">10</text>
<text x="1547.4" y="1245.0" font-size="25.6" fill="#404040">-8</text>
<g clip-path="url(#c53)" fill="none" stroke-width="8.2" stroke-linejoin="round">
<path d="M1512.1 1345.5C1512.9 1345.2 1515.2 1343.3 1516.4 1344.0C1517.7 1344.6 1518.4 1346.0 1519.6 1349.3C1520.9 1352.7 1522.3 1359.9 1523.9 1364.4C1525.5 1368.8 1527.9 1373.8 1529.3 1376.2C1530.7 1378.5 1531.2 1379.9 1532.5 1378.3C1533.7 1376.7 1535.4 1372.0 1536.8 1366.5C1538.2 1361.0 1539.6 1350.4 1541.1 1345.1C1542.5 1339.7 1544.3 1336.3 1545.4 1334.3C1546.4 1332.4 1546.4 1332.2 1547.5 1333.3C1548.6 1334.3 1550.2 1335.9 1551.8 1340.8C1553.4 1345.6 1555.4 1357.0 1557.1 1362.2C1558.9 1367.4 1560.7 1372.6 1562.5 1371.9C1564.3 1371.2 1566.2 1363.5 1567.8 1357.9C1569.5 1352.4 1570.7 1343.3 1572.1 1338.6C1573.6 1334.0 1575.3 1331.5 1576.4 1330.0C1577.5 1328.5 1577.3 1328.5 1578.6 1329.6C1579.8 1330.7 1582.1 1332.8 1583.9 1336.5C1585.7 1340.1 1587.7 1348.1 1589.3 1351.5C1590.9 1354.9 1591.8 1356.5 1593.6 1356.9C1595.3 1357.2 1598.0 1353.5 1600.0 1353.6C1602.0 1353.8 1603.7 1354.4 1605.3 1357.9C1607.0 1361.5 1608.2 1369.7 1609.6 1375.1C1611.1 1380.4 1612.5 1386.9 1613.9 1390.1C1615.3 1393.3 1616.8 1395.5 1618.2 1394.4C1619.6 1393.3 1621.1 1389.7 1622.5 1383.7C1623.9 1377.6 1625.5 1366.5 1626.8 1357.9C1628.0 1349.4 1628.7 1337.7 1630.0 1332.2C1631.2 1326.7 1633.0 1326.1 1634.3 1324.7C1635.5 1323.3 1636.2 1322.0 1637.5 1323.6C1638.7 1325.2 1640.3 1329.2 1641.8 1334.3C1643.3 1339.4 1644.9 1352.5 1646.5 1354.3C1648.1 1356.1 1649.9 1350.9 1651.4 1345.1C1652.9 1339.2 1654.3 1327.2 1655.7 1319.3C1657.1 1311.5 1658.9 1302.0 1660.0 1297.9C1661.1 1293.8 1661.1 1293.6 1662.1 1294.7C1663.2 1295.7 1665.0 1298.1 1666.4 1304.3C1667.8 1310.6 1669.1 1322.2 1670.7 1332.2C1672.3 1342.2 1674.4 1357.2 1676.1 1364.4C1677.7 1371.5 1678.9 1375.4 1680.3 1375.1C1681.8 1374.7 1683.2 1370.8 1684.6 1362.2C1686.1 1353.6 1687.5 1335.8 1688.9 1323.6C1690.3 1311.5 1691.9 1297.0 1693.2 1289.3C1694.4 1281.6 1695.6 1279.7 1696.4 1277.5C1697.2 1275.4 1697.2 1274.5 1698.1 1276.4C1699.0 1278.4 1700.4 1280.7 1701.8 1289.3C1703.1 1297.9 1704.6 1314.3 1706.1 1327.9C1707.5 1341.5 1708.9 1360.4 1710.3 1370.8C1711.8 1381.2 1713.2 1388.0 1714.6 1390.1C1716.1 1392.2 1717.7 1387.6 1718.9 1383.7C1720.2 1379.7 1721.2 1371.5 1722.1 1366.5C1723.0 1361.5 1723.4 1357.4 1724.3 1353.6C1725.2 1349.9 1726.4 1344.0 1727.5 1344.0C1728.6 1344.0 1729.4 1346.3 1730.7 1353.6C1731.9 1361.0 1733.6 1377.9 1735.0 1388.0C1736.4 1398.0 1738.0 1408.1 1739.3 1413.7C1740.5 1419.2 1741.2 1421.9 1742.5 1421.2C1743.7 1420.5 1745.3 1417.1 1746.8 1409.4C1748.2 1401.7 1749.4 1386.5 1751.0 1375.1C1752.7 1363.6 1754.8 1348.5 1756.4 1340.8C1758.0 1333.1 1759.4 1331.2 1760.7 1329.0C1761.9 1326.8 1762.7 1326.6 1763.9 1327.5C1765.2 1328.4 1766.6 1330.3 1768.2 1334.3C1769.8 1338.3 1772.1 1347.7 1773.5 1351.5C1775.0 1355.2 1775.3 1357.9 1776.8 1356.9C1778.2 1355.8 1780.3 1350.6 1782.1 1345.1C1783.9 1339.5 1785.9 1328.4 1787.5 1323.6C1789.1 1318.8 1790.7 1317.5 1791.8 1316.1C1792.8 1314.7 1792.8 1314.1 1793.9 1315.0C1795.0 1315.9 1796.6 1317.5 1798.2 1321.5C1799.8 1325.4 1802.1 1334.9 1803.5 1338.6C1805.0 1342.4 1805.3 1344.7 1806.8 1344.0C1808.2 1343.3 1810.3 1337.2 1812.1 1334.3C1813.9 1331.5 1815.9 1328.3 1817.5 1326.8C1819.1 1325.4 1820.4 1325.2 1821.8 1325.8C1823.1 1326.3 1824.8 1329.3 1825.4 1330.0" stroke="#656565"/>
<path d="M1471.0 1345.5C1482.5 1345.5 1525.6 1345.7 1540.0 1345.5C1554.4 1345.2 1552.1 1344.4 1557.1 1344.0C1562.1 1343.6 1566.1 1342.7 1570.0 1342.9C1573.9 1343.2 1577.1 1344.4 1580.7 1345.5C1584.3 1346.6 1587.8 1348.0 1591.4 1349.3C1595.0 1350.7 1598.9 1352.2 1602.1 1353.6C1605.3 1355.1 1608.2 1356.9 1610.7 1357.9C1613.2 1358.9 1615.0 1360.0 1617.1 1359.6C1619.3 1359.3 1621.1 1358.4 1623.6 1355.8C1626.1 1353.2 1629.3 1348.3 1632.1 1344.0C1635.0 1339.7 1637.8 1334.7 1640.7 1330.0C1643.6 1325.4 1646.6 1319.9 1649.3 1316.1C1651.9 1312.4 1654.4 1309.5 1656.8 1307.5C1659.1 1305.6 1661.1 1304.0 1663.2 1304.3C1665.3 1304.7 1667.3 1306.1 1669.6 1309.7C1671.9 1313.2 1674.4 1319.9 1677.1 1325.8C1679.8 1331.7 1682.8 1339.7 1685.7 1345.1C1688.6 1350.4 1691.4 1354.5 1694.3 1357.9C1697.1 1361.3 1700.0 1363.3 1702.8 1365.4C1705.7 1367.6 1708.3 1369.5 1711.4 1370.8C1714.5 1372.0 1718.6 1373.3 1721.5 1372.9C1724.3 1372.6 1725.2 1370.4 1728.6 1368.7C1731.9 1366.9 1736.8 1364.4 1741.4 1362.2C1746.0 1360.1 1751.4 1357.9 1756.4 1355.8C1761.4 1353.6 1766.0 1351.5 1771.4 1349.3C1776.8 1347.2 1782.8 1344.7 1788.5 1342.9C1794.3 1341.1 1799.5 1339.8 1805.7 1338.6C1811.8 1337.5 1822.1 1336.5 1825.4 1336.1" stroke="#ff0000"/>
</g>
<rect x="1717.3" y="1311.8" width="8.5" height="71.2" fill="#0000ff"/>
<text transform="translate(1516.2 1324.6) scale(0.960 1)" font-size="34.0" fill="#000">P</text>
<text transform="translate(1684.4 1309.6) scale(0.985 1)" font-size="34.0" fill="#000">SSB.00</text>
<text class="s" x="1514.7" y="1405.0" font-size="26.8" fill="#000" textLength="101.0" lengthAdjust="spacingAndGlyphs">SNR=1.7</text>
<text class="s" x="1683.3" y="1407.2" font-size="30.5" fill="#000" textLength="130.1" lengthAdjust="spacingAndGlyphs">354°, 83°</text>
<rect x="1941.5" y="1270.0" width="350.7" height="158.7" fill="none" stroke="#484848" stroke-width="2.6"/>
<path d="M1985.7 1428.7v-4.6M1985.7 1270.0v4.6M2073.4 1428.7v-4.6M2073.4 1270.0v4.6M2161.0 1428.7v-4.6M2161.0 1270.0v4.6M2248.7 1428.7v-4.6M2248.7 1270.0v4.6M1941.5 1283.9h4.6M2292.2 1283.9h-4.6M1941.5 1347.2h4.6M2292.2 1347.2h-4.6M1941.5 1410.5h4.6M2292.2 1410.5h-4.6" stroke="#484848" stroke-width="2.4" fill="none"/>
<text transform="translate(1982.3 1470.1) scale(0.975 1)" font-size="34.4" fill="#5e5e5e" text-anchor="middle">0</text>
<text transform="translate(2068.4 1470.1) scale(0.975 1)" font-size="34.4" fill="#5e5e5e" text-anchor="middle">20</text>
<text transform="translate(2156.0 1470.1) scale(0.975 1)" font-size="34.4" fill="#5e5e5e" text-anchor="middle">40</text>
<text transform="translate(2243.7 1470.1) scale(0.975 1)" font-size="34.4" fill="#5e5e5e" text-anchor="middle">60</text>
<text transform="translate(1909.1 1296.8) scale(0.975 1)" font-size="34.4" fill="#404040">5</text>
<text transform="translate(1909.1 1360.1) scale(0.975 1)" font-size="34.4" fill="#404040">0</text>
<text transform="translate(1901.2 1423.4) scale(0.975 1)" font-size="34.4" fill="#404040">-5</text>
<path d="M1946.3 1245.3l16.2 16.2m0 -16.2l-16.2 16.2" stroke="#404040" stroke-width="2.3" fill="none"/>
<text transform="translate(1972.1 1262.5) scale(0.955 1)" font-size="33.8" fill="#404040">10</text>
<text x="2017.9" y="1245.0" font-size="25.6" fill="#404040">-8</text>
<g clip-path="url(#c54)" fill="none" stroke-width="8.2" stroke-linejoin="round">
<path d="M1982.2 1347.2C1982.9 1347.0 1985.2 1345.1 1986.5 1345.7C1987.7 1346.3 1988.4 1347.7 1989.6 1351.1C1990.9 1354.5 1992.3 1361.6 1993.9 1366.1C1995.5 1370.5 1997.8 1375.5 1999.2 1377.9C2000.6 1380.2 2001.1 1381.6 2002.4 1380.0C2003.6 1378.4 2005.2 1373.8 2006.6 1368.2C2008.0 1362.7 2009.4 1352.1 2010.8 1346.8C2012.2 1341.4 2014.0 1338.0 2015.1 1336.1C2016.1 1334.1 2016.1 1333.9 2017.2 1335.0C2018.3 1336.1 2019.8 1337.7 2021.4 1342.5C2023.0 1347.3 2025.0 1358.8 2026.7 1363.9C2028.5 1369.1 2030.3 1374.3 2032.0 1373.6C2033.8 1372.9 2035.7 1365.2 2037.3 1359.6C2038.9 1354.1 2040.2 1345.0 2041.6 1340.3C2043.0 1335.7 2044.8 1333.3 2045.8 1331.8C2046.9 1330.3 2046.7 1330.3 2047.9 1331.3C2049.2 1332.4 2051.5 1334.6 2053.2 1338.2C2055.0 1341.8 2057.0 1349.8 2058.5 1353.2C2060.1 1356.6 2061.0 1358.2 2062.8 1358.6C2064.5 1358.9 2067.2 1355.2 2069.1 1355.4C2071.1 1355.5 2072.9 1356.1 2074.4 1359.6C2076.0 1363.2 2077.3 1371.4 2078.7 1376.8C2080.1 1382.2 2081.5 1388.6 2082.9 1391.8C2084.3 1395.0 2085.8 1397.2 2087.2 1396.1C2088.6 1395.0 2090.0 1391.5 2091.4 1385.4C2092.8 1379.3 2094.4 1368.2 2095.6 1359.6C2096.9 1351.1 2097.6 1339.4 2098.8 1333.9C2100.1 1328.4 2101.8 1327.8 2103.1 1326.4C2104.3 1325.0 2105.0 1323.7 2106.2 1325.3C2107.5 1326.9 2109.0 1330.9 2110.5 1336.1C2112.0 1341.2 2113.6 1354.2 2115.2 1356.0C2116.7 1357.8 2118.5 1352.6 2120.0 1346.8C2121.6 1341.0 2122.9 1328.9 2124.3 1321.0C2125.7 1313.2 2127.5 1303.7 2128.5 1299.6C2129.6 1295.5 2129.6 1295.3 2130.6 1296.4C2131.7 1297.5 2133.5 1299.8 2134.9 1306.0C2136.3 1312.3 2137.5 1323.9 2139.1 1333.9C2140.7 1343.9 2142.8 1358.9 2144.4 1366.1C2146.0 1373.2 2147.2 1377.2 2148.7 1376.8C2150.1 1376.4 2151.5 1372.5 2152.9 1363.9C2154.3 1355.4 2155.7 1337.5 2157.1 1325.3C2158.5 1313.2 2160.1 1298.7 2161.4 1291.0C2162.6 1283.3 2163.7 1281.4 2164.6 1279.2C2165.4 1277.1 2165.4 1276.2 2166.3 1278.1C2167.1 1280.1 2168.6 1282.4 2169.9 1291.0C2171.2 1299.6 2172.7 1316.0 2174.1 1329.6C2175.5 1343.2 2176.9 1362.1 2178.3 1372.5C2179.8 1382.9 2181.2 1389.7 2182.6 1391.8C2184.0 1394.0 2185.6 1389.3 2186.8 1385.4C2188.1 1381.4 2189.1 1373.2 2190.0 1368.2C2190.9 1363.2 2191.2 1359.1 2192.1 1355.4C2193.0 1351.6 2194.2 1345.7 2195.3 1345.7C2196.4 1345.7 2197.2 1348.0 2198.5 1355.4C2199.7 1362.7 2201.3 1379.7 2202.7 1389.7C2204.1 1399.7 2205.7 1409.9 2207.0 1415.4C2208.2 1420.9 2208.9 1423.6 2210.1 1422.9C2211.4 1422.2 2213.0 1418.8 2214.4 1411.1C2215.8 1403.4 2217.0 1388.2 2218.6 1376.8C2220.2 1365.4 2222.3 1350.2 2223.9 1342.5C2225.5 1334.8 2226.9 1332.9 2228.2 1330.7C2229.4 1328.5 2230.1 1328.3 2231.3 1329.2C2232.6 1330.1 2234.0 1332.1 2235.6 1336.1C2237.2 1340.1 2239.5 1349.5 2240.9 1353.2C2242.3 1357.0 2242.7 1359.6 2244.1 1358.6C2245.5 1357.5 2247.6 1352.3 2249.4 1346.8C2251.1 1341.2 2253.1 1330.2 2254.7 1325.3C2256.3 1320.5 2257.9 1319.3 2258.9 1317.8C2260.0 1316.4 2260.0 1315.9 2261.0 1316.8C2262.1 1317.6 2263.7 1319.3 2265.3 1323.2C2266.9 1327.1 2269.2 1336.6 2270.6 1340.3C2272.0 1344.1 2272.3 1346.4 2273.8 1345.7C2275.2 1345.0 2277.3 1338.9 2279.1 1336.1C2280.8 1333.2 2282.8 1330.0 2284.4 1328.5C2285.9 1327.1 2287.3 1326.9 2288.6 1327.5C2289.9 1328.0 2291.6 1331.0 2292.2 1331.8" stroke="#656565"/>
<path d="M1941.5 1347.2C1952.9 1347.2 1995.6 1347.5 2009.8 1347.2C2024.0 1346.9 2021.8 1346.1 2026.7 1345.7C2031.7 1345.2 2035.6 1344.3 2039.5 1344.6C2043.3 1344.8 2046.5 1346.1 2050.1 1347.2C2053.6 1348.3 2057.1 1349.8 2060.7 1351.2C2064.2 1352.6 2068.1 1354.1 2071.3 1355.6C2074.4 1357.1 2077.3 1359.0 2079.7 1360.0C2082.2 1361.0 2084.0 1362.2 2086.1 1361.8C2088.2 1361.4 2090.0 1360.5 2092.5 1357.8C2094.9 1355.1 2098.1 1350.1 2100.9 1345.7C2103.8 1341.2 2106.6 1336.1 2109.4 1331.3C2112.3 1326.5 2115.3 1320.8 2117.9 1316.9C2120.6 1313.1 2123.0 1310.1 2125.3 1308.1C2127.6 1306.1 2129.6 1304.4 2131.7 1304.8C2133.8 1305.2 2135.8 1306.6 2138.1 1310.3C2140.4 1314.0 2142.8 1320.8 2145.5 1326.9C2148.1 1333.0 2151.1 1341.2 2154.0 1346.8C2156.8 1352.3 2159.6 1356.5 2162.4 1360.0C2165.3 1363.5 2168.1 1365.5 2170.9 1367.7C2173.7 1370.0 2176.3 1372.0 2179.4 1373.3C2182.5 1374.6 2186.5 1375.8 2189.4 1375.5C2192.2 1375.1 2193.1 1372.9 2196.4 1371.1C2199.6 1369.2 2204.5 1366.6 2209.1 1364.4C2213.7 1362.2 2219.0 1360.0 2223.9 1357.8C2228.9 1355.6 2233.5 1353.4 2238.8 1351.2C2244.1 1349.0 2250.1 1346.4 2255.7 1344.6C2261.4 1342.7 2266.6 1341.3 2272.7 1340.1C2278.8 1339.0 2288.9 1337.9 2292.2 1337.5" stroke="#ff0000"/>
</g>
<rect x="2185.3" y="1312.5" width="8.5" height="71.6" fill="#0000ff"/>
<text transform="translate(1986.7 1325.0) scale(0.960 1)" font-size="34.0" fill="#000">P</text>
<text transform="translate(2152.8 1310.7) scale(0.985 1)" font-size="34.0" fill="#000">SSB.10</text>
<text class="s" x="1985.2" y="1406.5" font-size="26.8" fill="#000" textLength="101.0" lengthAdjust="spacingAndGlyphs">SNR=1.8</text>
<text class="s" x="2151.7" y="1408.7" font-size="30.5" fill="#000" textLength="130.1" lengthAdjust="spacingAndGlyphs">354°, 83°</text>
<rect x="66.7" y="1515.9" width="350.2" height="154.5" fill="none" stroke="#484848" stroke-width="2.6"/>
<path d="M110.6 1670.4v-4.6M110.6 1515.9v4.6M198.3 1670.4v-4.6M198.3 1515.9v4.6M286.0 1670.4v-4.6M286.0 1515.9v4.6M373.7 1670.4v-4.6M373.7 1515.9v4.6M66.7 1518.0h4.6M416.9 1518.0h-4.6M66.7 1590.2h4.6M416.9 1590.2h-4.6M66.7 1662.3h4.6M416.9 1662.3h-4.6" stroke="#484848" stroke-width="2.4" fill="none"/>
<text transform="translate(107.2 1710.9) scale(0.975 1)" font-size="34.4" fill="#5e5e5e" text-anchor="middle">0</text>
<text transform="translate(193.3 1710.9) scale(0.975 1)" font-size="34.4" fill="#5e5e5e" text-anchor="middle">20</text>
<text transform="translate(281.0 1710.9) scale(0.975 1)" font-size="34.4" fill="#5e5e5e" text-anchor="middle">40</text>
<text transform="translate(368.7 1710.9) scale(0.975 1)" font-size="34.4" fill="#5e5e5e" text-anchor="middle">60</text>
<text transform="translate(34.3 1530.9) scale(0.975 1)" font-size="34.4" fill="#404040">5</text>
<text transform="translate(34.3 1603.1) scale(0.975 1)" font-size="34.4" fill="#404040">0</text>
<text transform="translate(26.4 1675.2) scale(0.975 1)" font-size="34.4" fill="#404040">-5</text>
<path d="M71.5 1491.2l16.2 16.2m0 -16.2l-16.2 16.2" stroke="#404040" stroke-width="2.3" fill="none"/>
<text transform="translate(97.3 1508.4) scale(0.955 1)" font-size="33.8" fill="#404040">10</text>
<text x="143.1" y="1490.9" font-size="25.6" fill="#404040">-8</text>
<g clip-path="url(#c60)" fill="none" stroke-width="8.2" stroke-linejoin="round">
<path d="M106.8 1590.2C107.2 1588.5 107.9 1583.2 109.0 1580.5C110.0 1577.8 111.6 1573.7 113.3 1574.1C114.9 1574.5 116.6 1579.5 118.6 1582.7C120.5 1585.9 122.9 1590.2 125.0 1593.4C127.1 1596.6 129.3 1598.0 131.4 1601.9C133.5 1605.8 135.7 1611.9 137.8 1616.9C139.9 1621.9 142.1 1627.2 144.2 1631.9C146.3 1636.5 148.5 1641.2 150.6 1644.7C152.8 1648.3 154.9 1651.1 157.0 1653.3C159.2 1655.5 161.5 1657.5 163.4 1658.0C165.4 1658.5 167.0 1658.7 168.8 1656.5C170.5 1654.3 172.2 1648.8 174.1 1644.7C176.1 1640.6 178.4 1636.2 180.5 1631.9C182.7 1627.6 185.0 1624.0 186.9 1619.0C188.9 1614.0 190.7 1606.9 192.3 1601.9C193.9 1596.9 195.1 1592.3 196.5 1589.1C198.0 1585.9 199.4 1583.8 200.8 1582.7C202.2 1581.5 203.5 1581.2 205.1 1582.2C206.7 1583.3 208.6 1586.9 210.4 1589.1C212.2 1591.3 214.0 1593.9 215.7 1595.5C217.5 1597.1 219.1 1598.7 221.1 1598.7C223.0 1598.7 225.0 1597.5 227.5 1595.5C230.0 1593.5 233.5 1589.6 236.0 1586.9C238.5 1584.3 240.3 1581.2 242.4 1579.5C244.6 1577.7 246.7 1577.1 248.8 1576.2C251.0 1575.4 253.5 1576.2 255.3 1574.1C257.0 1572.0 258.1 1568.4 259.5 1563.4C260.9 1558.4 262.4 1550.2 263.8 1544.1C265.2 1538.1 266.8 1530.8 268.1 1527.0C269.3 1523.3 270.0 1522.6 271.3 1521.7C272.5 1520.8 274.3 1520.4 275.5 1521.7C276.8 1522.9 277.5 1525.8 278.7 1529.2C280.0 1532.6 281.4 1538.8 283.0 1542.0C284.6 1545.2 286.2 1547.0 288.4 1548.4C290.5 1549.9 293.5 1549.5 295.8 1550.6C298.1 1551.6 300.3 1552.3 302.2 1554.8C304.2 1557.3 305.8 1560.6 307.6 1565.5C309.3 1570.5 311.0 1578.0 312.9 1584.8C314.9 1591.6 317.5 1601.2 319.3 1606.2C321.1 1611.2 322.3 1613.2 323.6 1614.8C324.8 1616.4 325.5 1616.2 326.8 1615.8C328.0 1615.5 329.8 1613.2 331.1 1612.6C332.3 1612.1 333.0 1611.2 334.3 1612.6C335.5 1614.0 337.1 1616.9 338.5 1621.2C340.0 1625.5 341.4 1633.0 342.8 1638.3C344.2 1643.7 345.6 1649.4 347.1 1653.3C348.5 1657.2 350.1 1660.2 351.3 1661.8C352.6 1663.4 353.1 1663.6 354.5 1662.9C356.0 1662.2 357.9 1660.6 359.9 1657.6C361.8 1654.5 364.2 1649.0 366.3 1644.7C368.4 1640.4 370.6 1636.2 372.7 1631.9C374.8 1627.6 377.0 1624.7 379.1 1619.0C381.2 1613.3 383.4 1604.8 385.5 1597.6C387.6 1590.5 390.0 1581.6 391.9 1576.2C393.9 1570.9 395.3 1568.2 397.3 1565.5C399.2 1562.9 401.5 1560.6 403.7 1560.2C405.8 1559.8 407.9 1561.6 410.1 1563.4C412.3 1565.2 415.8 1569.6 416.9 1570.9" stroke="#656565"/>
<path d="M66.7 1590.2C75.7 1590.2 107.4 1590.3 120.7 1590.2C134.0 1590.0 139.9 1589.6 146.3 1589.1C152.8 1588.5 154.9 1587.6 159.2 1586.9C163.4 1586.3 167.7 1585.2 172.0 1585.2C176.2 1585.2 181.2 1585.9 184.8 1586.9C188.3 1587.9 190.5 1589.1 193.3 1591.2C196.2 1593.4 199.0 1596.6 201.9 1599.8C204.7 1603.0 207.6 1607.3 210.4 1610.5C213.3 1613.7 216.3 1617.1 219.0 1619.0C221.6 1621.0 224.1 1622.3 226.4 1622.3C228.7 1622.3 230.5 1621.7 232.8 1619.0C235.1 1616.4 237.6 1611.9 240.3 1606.2C243.0 1600.5 246.0 1591.9 248.8 1584.8C251.7 1577.7 254.7 1569.5 257.4 1563.4C260.1 1557.3 262.5 1551.8 264.9 1548.4C267.2 1545.0 269.0 1543.1 271.3 1543.1C273.6 1543.1 276.1 1545.8 278.7 1548.4C281.4 1551.1 284.1 1555.2 287.3 1559.1C290.5 1563.0 294.4 1567.7 298.0 1572.0C301.5 1576.2 305.1 1580.9 308.6 1584.8C312.2 1588.7 315.8 1592.5 319.3 1595.5C322.9 1598.5 326.1 1601.0 330.0 1603.0C333.9 1605.0 337.8 1606.2 342.8 1607.3C347.8 1608.3 354.2 1609.2 359.9 1609.4C365.6 1609.6 371.3 1609.1 377.0 1608.3C382.7 1607.6 389.1 1606.2 394.1 1605.1C399.0 1604.1 403.1 1603.0 406.9 1601.9C410.7 1600.9 415.2 1599.2 416.9 1598.7" stroke="#ff0000"/>
</g>
<rect x="310.2" y="1557.0" width="8.5" height="69.5" fill="#0000ff"/>
<text transform="translate(111.6 1567.6) scale(0.960 1)" font-size="34.0" fill="#000">PP</text>
<text transform="translate(277.8 1555.8) scale(0.985 1)" font-size="34.0" fill="#000">TAM.00</text>
<text class="s" x="110.1" y="1648.3" font-size="26.8" fill="#000" textLength="101.0" lengthAdjust="spacingAndGlyphs">SNR=1.3</text>
<text class="s" x="276.7" y="1649.6" font-size="30.5" fill="#000" textLength="146.3" lengthAdjust="spacingAndGlyphs">351°, 105°</text>
<rect x="533.3" y="1515.9" width="354.6" height="154.5" fill="none" stroke="#484848" stroke-width="2.6"/>
<path d="M577.7 1670.4v-4.6M577.7 1515.9v4.6M666.4 1670.4v-4.6M666.4 1515.9v4.6M755.0 1670.4v-4.6M755.0 1515.9v4.6M843.7 1670.4v-4.6M843.7 1515.9v4.6M533.3 1528.1h4.6M887.9 1528.1h-4.6M533.3 1559.6h4.6M887.9 1559.6h-4.6M533.3 1591.1h4.6M887.9 1591.1h-4.6M533.3 1622.6h4.6M887.9 1622.6h-4.6M533.3 1654.1h4.6M887.9 1654.1h-4.6" stroke="#484848" stroke-width="2.4" fill="none"/>
<text transform="translate(574.3 1710.9) scale(0.975 1)" font-size="34.4" fill="#5e5e5e" text-anchor="middle">0</text>
<text transform="translate(661.4 1710.9) scale(0.975 1)" font-size="34.4" fill="#5e5e5e" text-anchor="middle">20</text>
<text transform="translate(750.0 1710.9) scale(0.975 1)" font-size="34.4" fill="#5e5e5e" text-anchor="middle">40</text>
<text transform="translate(838.7 1710.9) scale(0.975 1)" font-size="34.4" fill="#5e5e5e" text-anchor="middle">60</text>
<text transform="translate(500.9 1541.0) scale(0.975 1)" font-size="34.4" fill="#404040">4</text>
<text transform="translate(500.9 1572.5) scale(0.975 1)" font-size="34.4" fill="#404040">2</text>
<text transform="translate(500.9 1604.0) scale(0.975 1)" font-size="34.4" fill="#404040">0</text>
<text transform="translate(493.0 1635.5) scale(0.975 1)" font-size="34.4" fill="#404040">-2</text>
<text transform="translate(493.0 1667.0) scale(0.975 1)" font-size="34.4" fill="#404040">-4</text>
<path d="M538.1 1491.2l16.2 16.2m0 -16.2l-16.2 16.2" stroke="#404040" stroke-width="2.3" fill="none"/>
<text transform="translate(563.9 1508.4) scale(0.955 1)" font-size="33.8" fill="#404040">10</text>
<text x="609.7" y="1490.9" font-size="25.6" fill="#404040">-8</text>
<g clip-path="url(#c61)" fill="none" stroke-width="8.2" stroke-linejoin="round">
<path d="M572.9 1591.2C573.3 1589.4 573.9 1583.2 575.1 1580.5C576.2 1577.8 578.0 1574.6 579.8 1575.2C581.6 1575.7 583.7 1580.7 585.8 1583.7C587.9 1586.8 590.1 1590.3 592.2 1593.4C594.4 1596.4 596.5 1598.0 598.6 1601.9C600.8 1605.8 602.9 1611.9 605.1 1616.9C607.2 1621.9 609.4 1627.4 611.5 1631.9C613.6 1636.3 615.8 1640.4 617.9 1643.7C620.1 1646.9 622.2 1649.5 624.4 1651.1C626.5 1652.8 628.8 1653.7 630.8 1653.7C632.8 1653.7 634.4 1653.4 636.1 1651.1C637.9 1648.9 639.5 1644.4 641.5 1640.4C643.5 1636.5 645.8 1631.9 647.9 1627.6C650.1 1623.3 652.4 1619.8 654.4 1614.8C656.3 1609.8 658.1 1602.6 659.7 1597.6C661.3 1592.7 662.6 1588.0 664.0 1584.8C665.4 1581.6 667.0 1579.5 668.3 1578.4C669.5 1577.2 670.1 1577.1 671.5 1578.0C672.9 1578.8 674.9 1581.2 676.9 1583.7C678.8 1586.3 681.3 1591.2 683.3 1593.4C685.2 1595.5 686.7 1596.6 688.6 1596.6C690.6 1596.6 692.6 1595.1 695.1 1593.4C697.6 1591.6 701.1 1588.4 703.6 1585.9C706.1 1583.4 707.9 1580.2 710.1 1578.4C712.2 1576.6 714.3 1576.1 716.5 1575.2C718.6 1574.3 721.1 1575.0 722.9 1573.0C724.7 1571.1 725.8 1568.2 727.2 1563.4C728.6 1558.6 730.1 1550.2 731.5 1544.1C732.9 1538.1 734.5 1530.8 735.8 1527.0C737.0 1523.3 737.6 1522.6 739.0 1521.7C740.4 1520.8 742.9 1520.4 744.3 1521.7C745.8 1522.9 746.3 1525.8 747.6 1529.2C748.8 1532.6 750.2 1538.4 751.8 1542.0C753.5 1545.6 755.1 1548.8 757.2 1550.6C759.3 1552.3 762.4 1551.6 764.7 1552.7C767.0 1553.8 769.2 1554.5 771.1 1557.0C773.1 1559.5 774.7 1562.7 776.5 1567.7C778.3 1572.7 779.9 1579.8 781.8 1586.9C783.8 1594.1 786.5 1605.0 788.3 1610.5C790.1 1616.0 791.3 1618.3 792.6 1620.1C793.8 1621.9 794.5 1621.7 795.8 1621.2C797.0 1620.6 798.6 1617.7 800.1 1616.9C801.5 1616.1 802.9 1615.0 804.3 1616.5C805.8 1617.9 807.2 1621.5 808.6 1625.5C810.1 1629.5 811.5 1635.4 812.9 1640.4C814.3 1645.4 815.8 1651.7 817.2 1655.4C818.6 1659.2 820.2 1661.5 821.5 1662.9C822.7 1664.3 823.3 1664.9 824.7 1664.0C826.1 1663.1 828.1 1661.1 830.0 1657.6C832.0 1654.0 834.3 1647.6 836.5 1642.6C838.6 1637.6 840.8 1633.0 842.9 1627.6C845.0 1622.3 847.2 1616.9 849.3 1610.5C851.5 1604.1 853.6 1595.5 855.8 1589.1C857.9 1582.7 860.2 1576.4 862.2 1572.0C864.2 1567.5 865.6 1564.7 867.5 1562.3C869.5 1560.0 871.8 1558.2 874.0 1558.1C876.1 1557.9 878.1 1559.3 880.4 1561.3C882.7 1563.2 886.7 1568.4 887.9 1569.8" stroke="#656565"/>
<path d="M533.3 1591.2C542.4 1591.2 574.5 1591.4 587.9 1591.2C601.3 1591.0 607.2 1590.7 613.6 1590.2C620.1 1589.6 622.2 1588.7 626.5 1588.0C630.8 1587.3 635.1 1586.0 639.4 1585.9C643.6 1585.8 648.6 1586.4 652.2 1587.4C655.8 1588.3 657.9 1589.4 660.8 1591.7C663.6 1593.9 666.5 1597.4 669.4 1600.9C672.2 1604.3 675.1 1609.1 677.9 1612.6C680.8 1616.2 683.8 1620.0 686.5 1622.3C689.2 1624.5 691.5 1625.9 694.0 1625.9C696.5 1625.9 699.0 1625.2 701.5 1622.3C704.0 1619.3 706.3 1614.6 709.0 1608.3C711.7 1602.1 714.7 1592.7 717.6 1584.8C720.4 1577.0 723.5 1567.9 726.1 1561.3C728.8 1554.7 731.4 1548.9 733.6 1545.2C735.9 1541.6 737.5 1539.4 739.6 1539.4C741.8 1539.4 743.9 1542.3 746.5 1545.2C749.1 1548.1 751.8 1552.7 755.1 1557.0C758.3 1561.3 762.2 1566.4 765.8 1570.9C769.3 1575.4 772.9 1579.8 776.5 1583.7C780.1 1587.7 783.6 1591.4 787.2 1594.4C790.8 1597.5 794.0 1599.8 797.9 1601.9C801.8 1604.1 805.8 1605.8 810.8 1607.3C815.8 1608.7 822.2 1610.1 827.9 1610.5C833.6 1610.8 839.3 1610.1 845.0 1609.4C850.8 1608.7 857.2 1607.3 862.2 1606.2C867.2 1605.1 870.8 1604.2 875.0 1603.0C879.3 1601.7 885.8 1599.4 887.9 1598.7" stroke="#ff0000"/>
</g>
<rect x="779.6" y="1557.0" width="8.5" height="69.5" fill="#0000ff"/>
<text transform="translate(578.7 1568.7) scale(0.960 1)" font-size="34.0" fill="#000">PP</text>
<text transform="translate(746.7 1555.8) scale(0.985 1)" font-size="34.0" fill="#000">TAM.10</text>
<text class="s" x="577.2" y="1648.3" font-size="26.8" fill="#000" textLength="101.0" lengthAdjust="spacingAndGlyphs">SNR=1.6</text>
<text class="s" x="745.6" y="1649.6" font-size="30.5" fill="#000" textLength="146.3" lengthAdjust="spacingAndGlyphs">351°, 105°</text>
<rect x="1004.2" y="1515.9" width="350.2" height="154.5" fill="none" stroke="#484848" stroke-width="2.6"/>
<path d="M1048.0 1670.4v-4.6M1048.0 1515.9v4.6M1135.8 1670.4v-4.6M1135.8 1515.9v4.6M1223.6 1670.4v-4.6M1223.6 1515.9v4.6M1311.4 1670.4v-4.6M1311.4 1515.9v4.6M1004.2 1516.4h4.6M1354.4 1516.4h-4.6M1004.2 1593.2h4.6M1354.4 1593.2h-4.6M1004.2 1670.0h4.6M1354.4 1670.0h-4.6" stroke="#484848" stroke-width="2.4" fill="none"/>
<text transform="translate(1044.6 1710.9) scale(0.975 1)" font-size="34.4" fill="#5e5e5e" text-anchor="middle">0</text>
<text transform="translate(1130.8 1710.9) scale(0.975 1)" font-size="34.4" fill="#5e5e5e" text-anchor="middle">20</text>
<text transform="translate(1218.6 1710.9) scale(0.975 1)" font-size="34.4" fill="#5e5e5e" text-anchor="middle">40</text>
<text transform="translate(1306.4 1710.9) scale(0.975 1)" font-size="34.4" fill="#5e5e5e" text-anchor="middle">60</text>
<text transform="translate(971.8 1529.3) scale(0.975 1)" font-size="34.4" fill="#404040">1</text>
<text transform="translate(971.8 1606.1) scale(0.975 1)" font-size="34.4" fill="#404040">0</text>
<text transform="translate(963.9 1682.9) scale(0.975 1)" font-size="34.4" fill="#404040">-1</text>
<path d="M1009.0 1491.2l16.2 16.2m0 -16.2l-16.2 16.2" stroke="#404040" stroke-width="2.3" fill="none"/>
<text transform="translate(1034.8 1508.4) scale(0.955 1)" font-size="33.8" fill="#404040">10</text>
<text x="1080.6" y="1490.9" font-size="25.6" fill="#404040">-7</text>
<g clip-path="url(#c62)" fill="none" stroke-width="8.2" stroke-linejoin="round">
<path d="M1044.4 1593.4C1045.0 1590.5 1046.4 1583.0 1047.7 1576.2C1048.9 1569.5 1050.5 1558.2 1051.9 1552.7C1053.4 1547.2 1054.8 1545.0 1056.2 1543.1C1057.6 1541.1 1059.1 1539.7 1060.5 1540.9C1061.9 1542.2 1063.4 1545.4 1064.8 1550.6C1066.2 1555.7 1067.6 1566.3 1069.1 1572.0C1070.5 1577.7 1072.3 1582.5 1073.3 1584.8C1074.4 1587.1 1074.4 1588.0 1075.5 1585.9C1076.6 1583.7 1078.3 1577.8 1079.8 1572.0C1081.2 1566.1 1082.6 1555.6 1084.0 1550.6C1085.5 1545.6 1087.3 1543.6 1088.3 1542.0C1089.4 1540.4 1089.4 1540.2 1090.5 1540.9C1091.5 1541.7 1093.1 1541.1 1094.7 1546.3C1096.4 1551.5 1098.5 1562.7 1100.1 1572.0C1101.7 1581.2 1103.0 1593.7 1104.4 1601.9C1105.8 1610.1 1107.2 1617.4 1108.7 1621.2C1110.1 1624.9 1111.5 1625.1 1112.9 1624.4C1114.4 1623.7 1115.8 1621.0 1117.2 1616.9C1118.7 1612.8 1120.3 1603.7 1121.5 1599.8C1122.8 1595.9 1123.5 1593.0 1124.7 1593.4C1126.0 1593.7 1127.6 1598.4 1129.0 1601.9C1130.4 1605.5 1132.0 1612.4 1133.3 1614.8C1134.5 1617.1 1135.2 1617.3 1136.5 1615.8C1137.7 1614.4 1139.3 1612.1 1140.8 1606.2C1142.2 1600.3 1143.6 1589.1 1145.1 1580.5C1146.5 1572.0 1147.9 1561.6 1149.3 1554.8C1150.8 1548.1 1152.2 1542.9 1153.6 1539.9C1155.0 1536.8 1156.5 1535.6 1157.9 1536.7C1159.3 1537.7 1160.7 1541.8 1162.2 1546.3C1163.6 1550.7 1165.0 1559.3 1166.5 1563.4C1167.9 1567.5 1169.1 1569.5 1170.7 1570.9C1172.3 1572.3 1174.3 1570.4 1176.1 1572.0C1177.9 1573.6 1179.5 1574.8 1181.4 1580.5C1183.4 1586.2 1185.7 1598.0 1187.9 1606.2C1190.0 1614.4 1192.3 1624.0 1194.3 1629.7C1196.2 1635.4 1198.2 1638.5 1199.6 1640.4C1201.1 1642.4 1201.6 1643.3 1202.8 1641.5C1204.1 1639.7 1205.7 1635.6 1207.1 1629.7C1208.6 1623.9 1210.0 1612.6 1211.4 1606.2C1212.8 1599.8 1214.5 1594.1 1215.7 1591.2C1216.8 1588.4 1217.2 1588.0 1218.3 1589.1C1219.3 1590.2 1220.8 1592.7 1222.1 1597.6C1223.5 1602.6 1225.0 1612.6 1226.4 1619.0C1227.8 1625.5 1229.4 1632.8 1230.7 1636.2C1231.9 1639.5 1232.6 1641.5 1233.9 1639.4C1235.1 1637.2 1236.6 1629.2 1238.2 1623.3C1239.8 1617.4 1241.9 1608.3 1243.5 1604.1C1245.1 1599.8 1246.4 1596.6 1247.8 1597.6C1249.2 1598.7 1250.7 1604.4 1252.1 1610.5C1253.5 1616.5 1254.9 1626.9 1256.4 1634.0C1257.8 1641.2 1259.0 1649.7 1260.6 1653.3C1262.2 1656.8 1264.2 1654.7 1266.0 1655.4C1267.8 1656.1 1269.6 1656.3 1271.3 1657.6C1273.1 1658.8 1274.9 1662.9 1276.7 1662.9C1278.5 1662.9 1280.4 1661.7 1282.0 1657.6C1283.7 1653.5 1284.9 1643.7 1286.3 1638.3C1287.8 1633.0 1288.8 1628.1 1290.6 1625.5C1292.4 1622.8 1294.9 1623.7 1297.0 1622.3C1299.2 1620.8 1301.7 1620.3 1303.5 1616.9C1305.2 1613.5 1306.3 1608.0 1307.7 1601.9C1309.2 1595.9 1310.6 1586.1 1312.0 1580.5C1313.4 1575.0 1314.9 1571.3 1316.3 1568.8C1317.7 1566.3 1318.8 1565.4 1320.6 1565.5C1322.4 1565.7 1324.9 1565.9 1327.0 1569.8C1329.1 1573.7 1331.3 1582.0 1333.4 1589.1C1335.6 1596.2 1338.1 1607.5 1339.8 1612.6C1341.6 1617.8 1342.7 1619.8 1344.1 1620.1C1345.6 1620.5 1347.2 1618.5 1348.4 1614.8C1349.7 1611.0 1350.5 1603.4 1351.6 1597.6C1352.8 1591.9 1354.6 1583.4 1355.3 1580.5" stroke="#656565"/>
<path d="M1004.2 1593.4C1015.5 1593.4 1059.5 1593.2 1072.3 1593.4C1080.8 1593.5 1078.0 1593.4 1080.8 1594.4C1083.7 1595.5 1086.2 1597.6 1089.4 1599.8C1092.6 1601.9 1096.5 1605.3 1100.1 1607.3C1103.7 1609.2 1107.8 1610.7 1110.8 1611.6C1113.8 1612.4 1115.8 1613.2 1118.3 1612.6C1120.8 1612.1 1123.5 1611.2 1125.8 1608.3C1128.1 1605.5 1130.1 1601.2 1132.2 1595.5C1134.3 1589.8 1136.5 1581.6 1138.6 1574.1C1140.8 1566.6 1142.9 1557.3 1145.1 1550.6C1147.2 1543.8 1149.3 1537.9 1151.5 1533.4C1153.6 1529.0 1155.9 1525.8 1157.9 1523.8C1159.9 1521.9 1161.5 1521.3 1163.2 1521.7C1165.0 1522.0 1166.8 1522.6 1168.6 1526.0C1170.4 1529.3 1172.2 1535.4 1173.9 1542.0C1175.7 1548.6 1177.5 1557.0 1179.3 1565.5C1181.1 1574.1 1182.9 1584.1 1184.7 1593.4C1186.4 1602.6 1188.2 1613.7 1190.0 1621.2C1191.8 1628.7 1193.6 1634.4 1195.4 1638.3C1197.1 1642.2 1199.5 1643.5 1200.7 1644.7C1202.0 1645.9 1201.6 1645.9 1202.8 1645.4C1204.1 1644.8 1206.4 1642.7 1208.2 1641.5C1210.0 1640.3 1211.6 1639.1 1213.5 1638.3C1215.5 1637.5 1217.8 1637.5 1220.0 1636.6C1222.1 1635.7 1223.9 1635.2 1226.4 1633.0C1228.9 1630.7 1232.1 1626.7 1235.0 1623.3C1237.8 1619.9 1240.7 1615.7 1243.5 1612.6C1246.4 1609.6 1249.2 1607.5 1252.1 1605.1C1254.9 1602.8 1257.8 1600.7 1260.6 1598.7C1263.5 1596.8 1266.4 1594.8 1269.2 1593.4C1272.1 1591.9 1274.2 1591.4 1277.8 1590.2C1281.3 1588.9 1286.3 1587.3 1290.6 1585.9C1294.9 1584.4 1299.2 1582.7 1303.5 1581.6C1307.7 1580.5 1312.0 1580.0 1316.3 1579.5C1320.6 1578.9 1324.9 1578.4 1329.1 1578.4C1333.4 1578.4 1337.8 1579.0 1342.0 1579.5C1346.2 1579.9 1352.3 1580.7 1354.4 1581.0" stroke="#ff0000"/>
</g>
<rect x="1247.9" y="1558.5" width="8.5" height="69.5" fill="#0000ff"/>
<text transform="translate(1049.0 1570.8) scale(0.960 1)" font-size="34.0" fill="#000">P</text>
<text transform="translate(1215.4 1556.9) scale(0.985 1)" font-size="34.0" fill="#000">TAOE.00</text>
<text class="s" x="1047.5" y="1648.9" font-size="26.8" fill="#000" textLength="82.0" lengthAdjust="spacingAndGlyphs">SNR=2</text>
<text class="s" x="1214.3" y="1650.4" font-size="30.5" fill="#000" textLength="130.1" lengthAdjust="spacingAndGlyphs">134°, 71°</text>
<rect x="1471.0" y="1515.9" width="354.4" height="154.5" fill="none" stroke="#484848" stroke-width="2.6"/>
<path d="M1515.2 1670.4v-4.6M1515.2 1515.9v4.6M1604.0 1670.4v-4.6M1604.0 1515.9v4.6M1692.7 1670.4v-4.6M1692.7 1515.9v4.6M1781.5 1670.4v-4.6M1781.5 1515.9v4.6M1471.0 1537.7h4.6M1825.4 1537.7h-4.6M1471.0 1574.1h4.6M1825.4 1574.1h-4.6M1471.0 1610.5h4.6M1825.4 1610.5h-4.6M1471.0 1646.9h4.6M1825.4 1646.9h-4.6" stroke="#484848" stroke-width="2.4" fill="none"/>
<text transform="translate(1511.8 1710.9) scale(0.975 1)" font-size="34.4" fill="#5e5e5e" text-anchor="middle">0</text>
<text transform="translate(1599.0 1710.9) scale(0.975 1)" font-size="34.4" fill="#5e5e5e" text-anchor="middle">20</text>
<text transform="translate(1687.7 1710.9) scale(0.975 1)" font-size="34.4" fill="#5e5e5e" text-anchor="middle">40</text>
<text transform="translate(1776.5 1710.9) scale(0.975 1)" font-size="34.4" fill="#5e5e5e" text-anchor="middle">60</text>
<text transform="translate(1438.6 1550.6) scale(0.975 1)" font-size="34.4" fill="#404040">5</text>
<text transform="translate(1438.6 1587.0) scale(0.975 1)" font-size="34.4" fill="#404040">0</text>
<text transform="translate(1430.7 1623.4) scale(0.975 1)" font-size="34.4" fill="#404040">-5</text>
<text transform="translate(1405.6 1659.8) scale(0.975 1)" font-size="34.4" fill="#404040">-10</text>
<path d="M1475.8 1491.2l16.2 16.2m0 -16.2l-16.2 16.2" stroke="#404040" stroke-width="2.3" fill="none"/>
<text transform="translate(1501.6 1508.4) scale(0.955 1)" font-size="33.8" fill="#404040">10</text>
<text x="1547.4" y="1490.9" font-size="25.6" fill="#404040">-8</text>
<g clip-path="url(#c63)" fill="none" stroke-width="8.2" stroke-linejoin="round">
<path d="M1512.1 1574.1C1513.6 1573.6 1517.9 1572.3 1520.7 1570.9C1523.6 1569.5 1526.1 1567.7 1529.3 1565.5C1532.5 1563.4 1536.4 1560.4 1540.0 1558.1C1543.6 1555.7 1547.5 1554.1 1550.7 1551.6C1553.9 1549.1 1556.8 1545.2 1559.3 1543.1C1561.8 1540.9 1563.9 1539.6 1565.7 1538.8C1567.5 1538.0 1568.2 1537.6 1570.0 1538.2C1571.8 1538.7 1574.3 1540.7 1576.4 1542.0C1578.6 1543.4 1581.1 1545.5 1582.8 1546.3C1584.6 1547.1 1585.3 1547.2 1587.1 1546.7C1588.9 1546.2 1591.4 1544.4 1593.6 1543.1C1595.7 1541.8 1598.0 1539.7 1600.0 1538.8C1602.0 1537.9 1603.6 1537.2 1605.3 1537.7C1607.1 1538.3 1608.7 1538.8 1610.7 1542.0C1612.7 1545.2 1614.6 1550.6 1617.1 1557.0C1619.6 1563.4 1622.8 1571.6 1625.7 1580.5C1628.6 1589.4 1631.4 1600.5 1634.3 1610.5C1637.1 1620.5 1640.3 1633.0 1642.8 1640.4C1645.3 1647.9 1647.3 1652.0 1649.3 1655.4C1651.2 1658.8 1653.2 1659.9 1654.6 1660.8C1656.1 1661.7 1656.6 1661.7 1657.8 1660.8C1659.1 1659.9 1660.3 1660.2 1662.1 1655.4C1663.9 1650.6 1666.4 1640.8 1668.6 1631.9C1670.7 1623.0 1672.8 1611.6 1675.0 1601.9C1677.1 1592.3 1679.3 1582.0 1681.4 1574.1C1683.6 1566.3 1685.7 1560.9 1687.8 1554.8C1690.0 1548.8 1692.1 1542.4 1694.3 1537.7C1696.4 1533.1 1698.6 1529.7 1700.7 1527.0C1702.8 1524.4 1705.2 1522.7 1707.1 1521.7C1709.1 1520.6 1710.5 1520.3 1712.5 1520.6C1714.4 1521.0 1716.6 1522.7 1718.9 1523.8C1721.2 1524.9 1723.7 1526.1 1726.4 1527.0C1729.1 1527.9 1732.5 1527.7 1735.0 1529.2C1737.5 1530.6 1739.3 1532.0 1741.4 1535.6C1743.5 1539.2 1745.7 1544.5 1747.8 1550.6C1750.0 1556.6 1752.1 1564.8 1754.3 1572.0C1756.4 1579.1 1758.5 1587.3 1760.7 1593.4C1762.8 1599.4 1765.0 1604.4 1767.1 1608.3C1769.3 1612.3 1771.8 1615.3 1773.5 1616.9C1775.3 1618.5 1776.0 1618.2 1777.8 1618.0C1779.6 1617.8 1782.1 1617.4 1784.3 1615.8C1786.4 1614.2 1788.5 1611.7 1790.7 1608.3C1792.8 1605.0 1795.0 1600.5 1797.1 1595.5C1799.3 1590.5 1801.4 1583.4 1803.5 1578.4C1805.7 1573.4 1807.8 1568.2 1810.0 1565.5C1812.1 1562.9 1814.6 1562.7 1816.4 1562.3C1818.2 1562.0 1819.2 1562.9 1820.7 1563.4C1822.2 1563.9 1824.6 1565.2 1825.4 1565.5" stroke="#656565"/>
<path d="M1471.0 1574.1C1481.1 1574.1 1519.6 1573.9 1531.4 1574.1C1542.1 1574.3 1538.6 1574.5 1542.1 1575.2C1545.7 1575.9 1549.6 1577.5 1552.9 1578.4C1556.1 1579.3 1558.6 1580.5 1561.4 1580.5C1564.3 1580.5 1567.1 1579.3 1570.0 1578.4C1572.8 1577.5 1576.1 1576.4 1578.6 1575.2C1581.1 1573.9 1582.8 1573.2 1585.0 1570.9C1587.1 1568.6 1589.3 1565.0 1591.4 1561.3C1593.6 1557.5 1595.7 1552.0 1597.8 1548.4C1600.0 1544.9 1602.3 1541.8 1604.3 1539.9C1606.2 1537.9 1608.2 1537.3 1609.6 1536.7C1611.1 1536.0 1611.4 1535.5 1612.8 1536.0C1614.3 1536.5 1616.1 1536.7 1618.2 1539.9C1620.3 1543.0 1623.0 1547.7 1625.7 1554.8C1628.4 1562.0 1631.4 1572.3 1634.3 1582.7C1637.1 1593.0 1640.3 1607.6 1642.8 1616.9C1645.3 1626.2 1647.3 1633.1 1649.3 1638.3C1651.2 1643.5 1653.4 1646.1 1654.6 1647.9C1655.9 1649.7 1655.7 1649.9 1656.8 1649.0C1657.8 1648.1 1659.4 1647.2 1661.1 1642.6C1662.7 1637.9 1664.6 1628.7 1666.4 1621.2C1668.2 1613.7 1670.2 1604.4 1671.8 1597.6C1673.4 1590.9 1674.4 1585.0 1676.1 1580.5C1677.7 1576.1 1679.4 1573.7 1681.4 1570.9C1683.4 1568.0 1685.7 1566.1 1687.8 1563.4C1690.0 1560.7 1692.1 1557.7 1694.3 1554.8C1696.4 1552.0 1698.6 1548.4 1700.7 1546.3C1702.8 1544.1 1705.2 1542.9 1707.1 1542.0C1709.1 1541.1 1710.3 1540.8 1712.5 1540.9C1714.6 1541.1 1717.3 1542.0 1720.0 1543.1C1722.7 1544.1 1725.7 1545.9 1728.6 1547.4C1731.4 1548.8 1734.3 1550.2 1737.1 1551.6C1740.0 1553.1 1742.5 1554.1 1745.7 1555.9C1748.9 1557.7 1752.8 1560.4 1756.4 1562.3C1760.0 1564.3 1763.2 1565.9 1767.1 1567.7C1771.0 1569.5 1775.7 1571.4 1780.0 1573.0C1784.3 1574.6 1788.5 1576.1 1792.8 1577.3C1797.1 1578.6 1801.8 1579.6 1805.7 1580.5C1809.6 1581.4 1813.1 1582.1 1816.4 1582.7C1819.7 1583.2 1823.9 1583.6 1825.4 1583.7" stroke="#ff0000"/>
</g>
<rect x="1717.3" y="1548.0" width="8.5" height="69.3" fill="#0000ff"/>
<text transform="translate(1516.2 1560.1) scale(0.960 1)" font-size="34.0" fill="#000">P</text>
<text transform="translate(1684.4 1551.1) scale(0.985 1)" font-size="34.0" fill="#000">UNM.00</text>
<text class="s" x="1514.7" y="1642.5" font-size="26.8" fill="#000" textLength="101.0" lengthAdjust="spacingAndGlyphs">SNR=2.3</text>
<text class="s" x="1683.3" y="1644.7" font-size="30.5" fill="#000" textLength="113.9" lengthAdjust="spacingAndGlyphs">82°, 72°</text>
<text x="1942.0" y="1527.0" font-size="29.2" fill="#000">Type = P waves</text>
<text x="1942.0" y="1557.5" font-size="29.2" fill="#000">Black=Data</text>
<text x="1942.0" y="1588.2" font-size="29.2" fill="#000">Red=Model</text>
<text x="1942.0" y="1619.0" font-size="29.2" fill="#000">Y = Displacement(m)</text>
<text x="1982.8" y="1650.2" font-size="29.2" fill="#000">[0.012Hz 0.04Hz]</text>
<text x="1942.0" y="1681.0" font-size="29.2" fill="#000">X = Time(s)</text>
</svg></body></html>
